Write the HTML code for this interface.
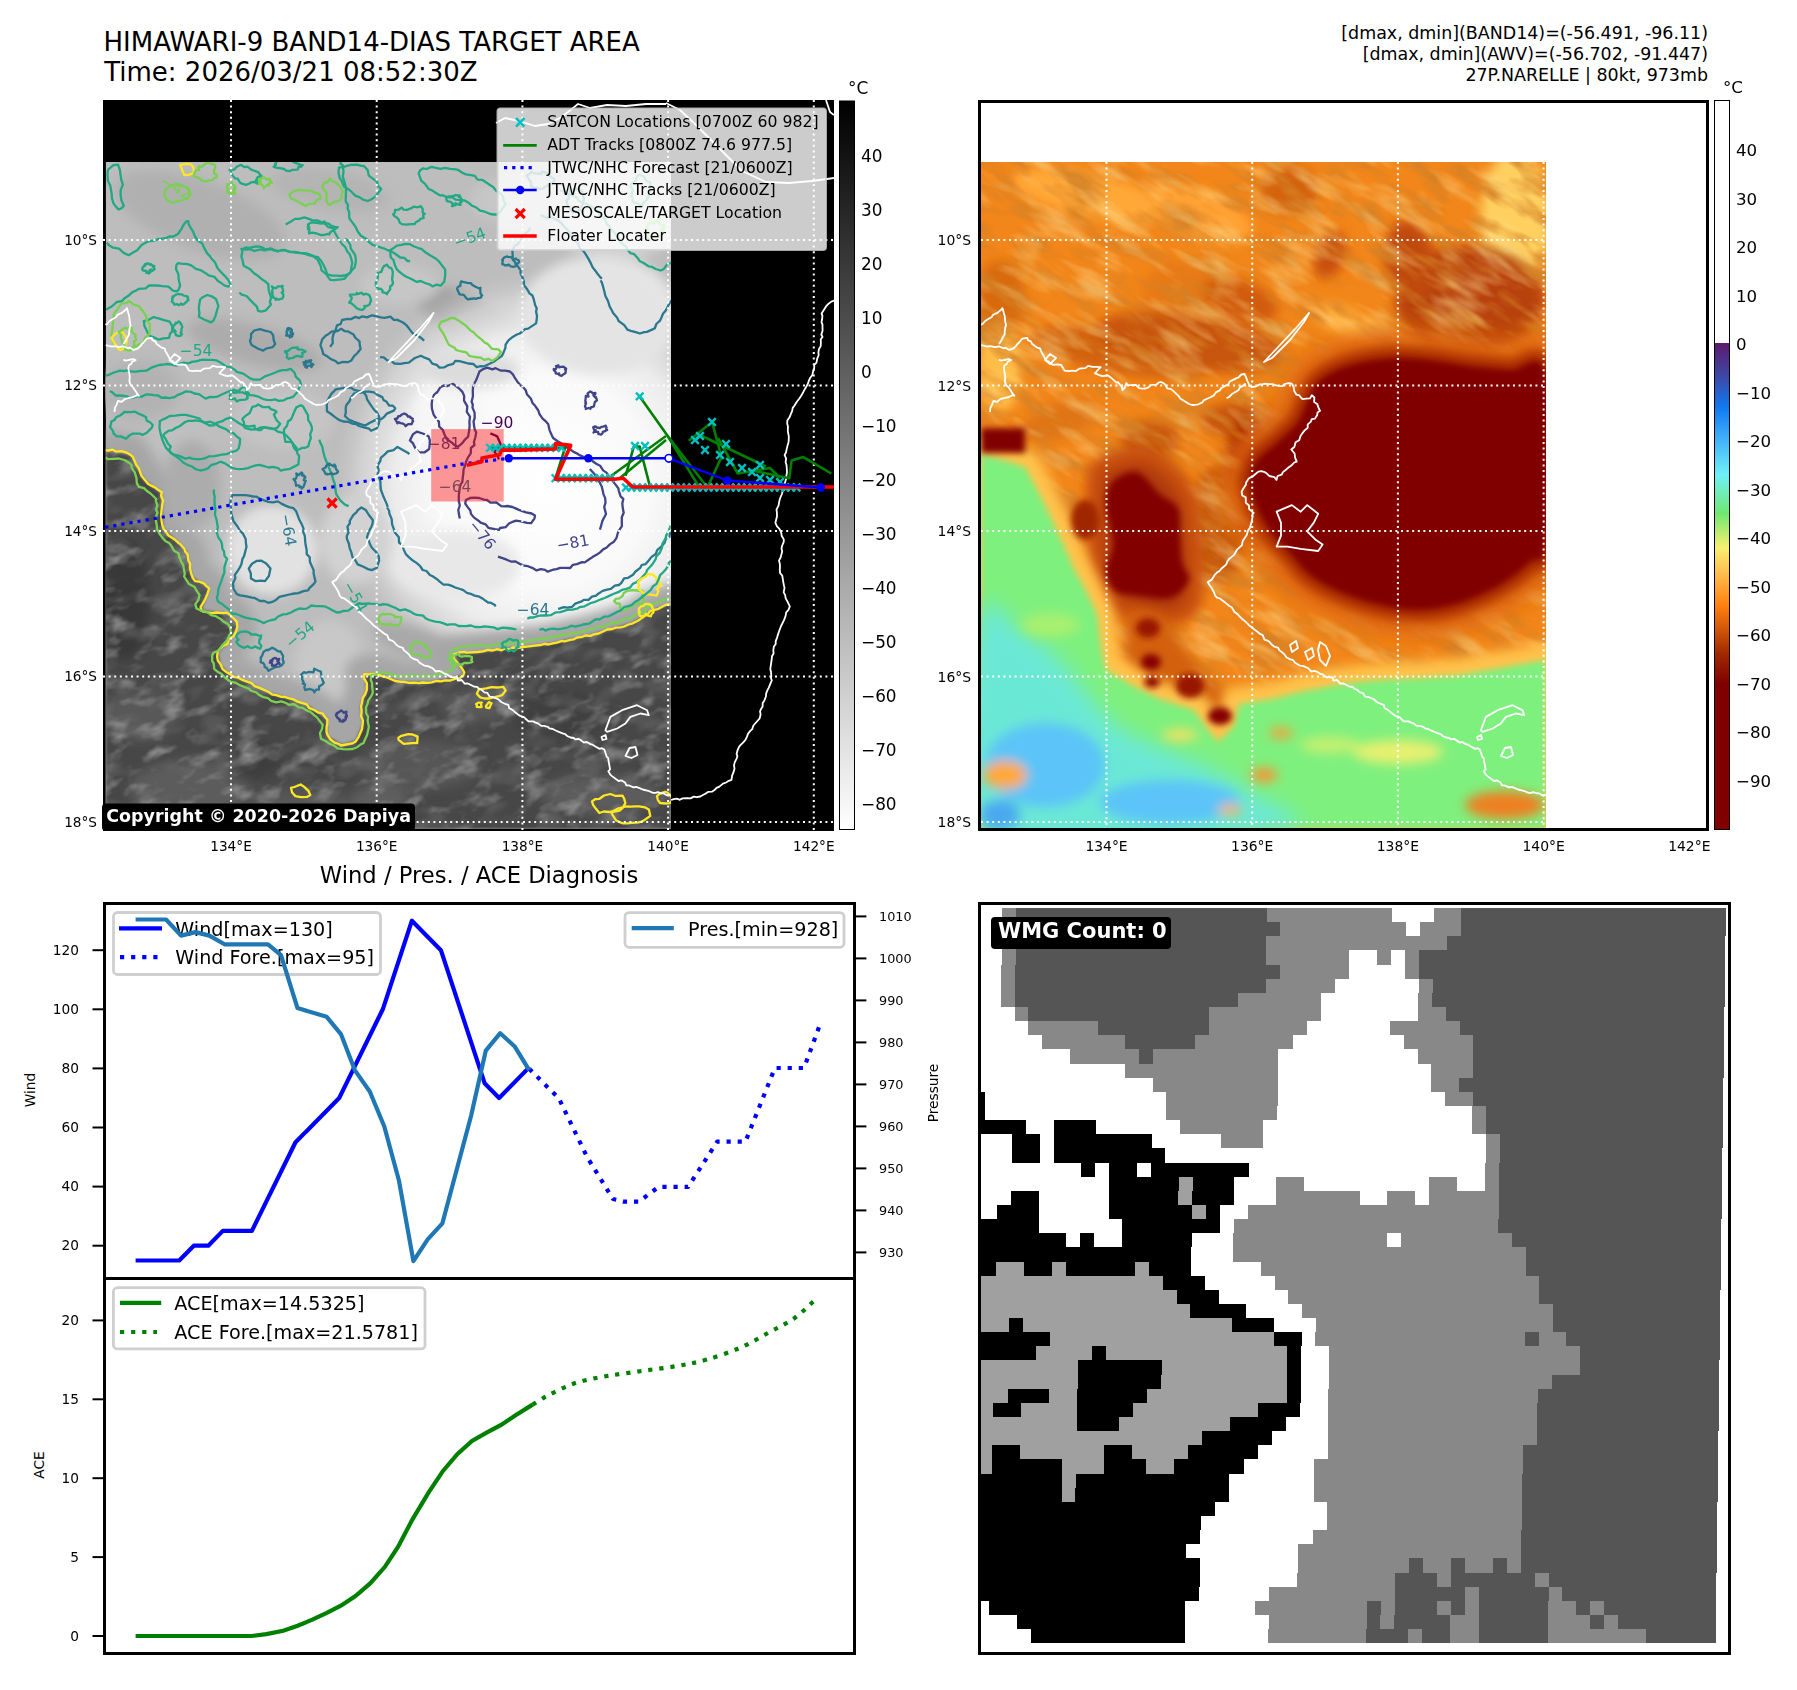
<!DOCTYPE html>
<html><head><meta charset="utf-8"><title>HIMAWARI-9 BAND14-DIAS TARGET AREA</title>
<style>html,body{margin:0;padding:0;background:#fff;width:1797px;height:1690px;overflow:hidden}svg{display:block}</style>
</head><body>
<svg width="1797" height="1690" viewBox="0 0 1797 1690" font-family="DejaVu Sans, Liberation Sans, sans-serif"><text x="103.5" y="51" font-size="26.0" text-anchor="start" >HIMAWARI-9 BAND14-DIAS TARGET AREA</text>
<text x="104.2" y="80.6" font-size="26.0" text-anchor="start" >Time: 2026/03/21 08:52:30Z</text>
<text x="1708" y="39.1" font-size="17.44" text-anchor="end" >[dmax, dmin](BAND14)=(-56.491, -96.11)</text>
<text x="1708" y="59.5" font-size="17.44" text-anchor="end" >[dmax, dmin](AWV)=(-56.702, -91.447)</text>
<text x="1708" y="80.7" font-size="17.44" text-anchor="end" >27P.NARELLE | 80kt, 973mb</text>
<defs><clipPath id="tlclip"><rect x="105.7" y="162" width="565.3" height="667"/></clipPath><clipPath id="tlax"><rect x="103" y="100" width="731" height="731"/></clipPath><filter id="bl6" x="-20%" y="-20%" width="140%" height="140%"><feGaussianBlur stdDeviation="6"/></filter><filter id="bl3" x="-20%" y="-20%" width="140%" height="140%"><feGaussianBlur stdDeviation="3"/></filter><filter id="bl15" x="-20%" y="-20%" width="140%" height="140%"><feGaussianBlur stdDeviation="1.5"/></filter><filter id="ngray" x="0" y="0" width="100%" height="100%"><feTurbulence type="fractalNoise" baseFrequency="0.035 0.06" numOctaves="3" seed="7"/><feColorMatrix type="matrix" values="0 0 0 0 0.44  0 0 0 0 0.44  0 0 0 0 0.44  2.4 0 0 0 -1.2"/></filter><filter id="ngray2" x="0" y="0" width="100%" height="100%"><feTurbulence type="fractalNoise" baseFrequency="0.03 0.05" numOctaves="2" seed="21"/><feColorMatrix type="matrix" values="0 0 0 0 0.18  0 0 0 0 0.18  0 0 0 0 0.18  2.4 0 0 0 -1.2"/></filter><radialGradient id="storm" cx="545" cy="482" r="215" gradientUnits="userSpaceOnUse"><stop offset="0" stop-color="#ffffff"/><stop offset="0.5" stop-color="#f9f9f9"/><stop offset="0.7" stop-color="#ececec"/><stop offset="0.86" stop-color="#d8d8d8" stop-opacity="0.75"/><stop offset="1" stop-color="#c4c4c4" stop-opacity="0"/></radialGradient></defs>
<rect x="103" y="100" width="731" height="731" fill="#000"/>
<g clip-path="url(#tlclip)">
<rect x="105.7" y="162" width="565.3" height="667" fill="#bdbdbd"/>
<g filter="url(#bl6)">
<ellipse cx="200" cy="215" rx="90" ry="35" transform="rotate(20 200 215)" fill="#b0b0b0"/>
<ellipse cx="255" cy="345" rx="70" ry="20" transform="rotate(15 255 345)" fill="#acacac"/>
<ellipse cx="470" cy="320" rx="60" ry="22" transform="rotate(28 470 320)" fill="#a0a0a0"/>
<ellipse cx="400" cy="285" rx="40" ry="20" transform="rotate(0 400 285)" fill="#c6c6c6"/>
<ellipse cx="615" cy="215" rx="60" ry="50" transform="rotate(0 615 215)" fill="#cfcfcf"/>
<ellipse cx="140" cy="390" rx="40" ry="30" transform="rotate(0 140 390)" fill="#b2b2b2"/>
<ellipse cx="330" cy="190" rx="60" ry="20" transform="rotate(10 330 190)" fill="#b4b4b4"/>
<ellipse cx="520" cy="200" rx="50" ry="25" transform="rotate(0 520 200)" fill="#c6c6c6"/>
<ellipse cx="285" cy="420" rx="50" ry="30" transform="rotate(0 285 420)" fill="#c4c4c4"/>
<ellipse cx="180" cy="440" rx="40" ry="20" transform="rotate(0 180 440)" fill="#c0c0c0"/>
</g>
<circle cx="545" cy="482" r="215" fill="url(#storm)"/>
<g filter="url(#bl6)">
<ellipse cx="448" cy="418" rx="34" ry="40" fill="#f6f6f6"/>
<ellipse cx="600" cy="315" rx="80" ry="60" fill="#e4e4e4"/>
<ellipse cx="470" cy="370" rx="50" ry="18" fill="#dcdcdc"/>
<ellipse cx="272" cy="550" rx="45" ry="45" fill="#e2e2e2"/>
<ellipse cx="330" cy="665" rx="35" ry="45" fill="#c8c8c8"/>
<ellipse cx="420" cy="645" rx="50" ry="16" transform="rotate(20 420 645)" fill="#a8a8a8"/>
<ellipse cx="455" cy="565" rx="65" ry="35" fill="#e8e8e8"/>
<ellipse cx="355" cy="540" rx="35" ry="45" fill="#d2d2d2"/>
</g>
<path d="M105.7,450.0 L130.0,455.0 L144.0,480.0 L161.0,493.0 L163.0,528.0 L186.0,551.0 L192.0,577.0 L209.0,589.0 L201.0,610.0 L230.0,614.5 L237.0,627.0 L230.0,640.0 L218.0,652.0 L220.0,665.0 L230.0,675.0 L247.0,682.0 L272.0,694.0 L289.0,698.5 L310.0,707.0 L327.0,719.5 L327.0,736.0 L342.0,745.0 L356.0,740.5 L363.0,724.0 L360.5,707.0 L367.0,690.0 L365.0,675.0 L379.0,675.0 L401.0,682.0 L432.0,682.0 L464.0,675.0 L455.0,655.0 L497.0,650.0 L548.0,644.0 L590.0,635.0 L632.0,623.0 L653.0,610.0 L671.0,604.0 L671.0,829.0 L105.7,829.0Z" fill="#a6a6a6" stroke="#a6a6a6" stroke-width="40" stroke-linejoin="round" filter="url(#bl6)"/>
<ellipse cx="192" cy="485" rx="28" ry="45" fill="#acacac" filter="url(#bl6)"/>
<path d="M105.7,450.0 L130.0,455.0 L144.0,480.0 L161.0,493.0 L163.0,528.0 L186.0,551.0 L192.0,577.0 L209.0,589.0 L201.0,610.0 L230.0,614.5 L237.0,627.0 L230.0,640.0 L218.0,652.0 L220.0,665.0 L230.0,675.0 L247.0,682.0 L272.0,694.0 L289.0,698.5 L310.0,707.0 L327.0,719.5 L327.0,736.0 L342.0,745.0 L356.0,740.5 L363.0,724.0 L360.5,707.0 L367.0,690.0 L365.0,675.0 L379.0,675.0 L401.0,682.0 L432.0,682.0 L464.0,675.0 L455.0,655.0 L497.0,650.0 L548.0,644.0 L590.0,635.0 L632.0,623.0 L653.0,610.0 L671.0,604.0 L671.0,829.0 L105.7,829.0Z" fill="#464646" filter="url(#bl15)"/>
<g filter="url(#bl6)">
<ellipse cx="125" cy="600" rx="25" ry="60" fill="#383838"/>
<ellipse cx="190" cy="790" rx="60" ry="30" fill="#5c5c5c"/>
<ellipse cx="140" cy="715" rx="40" ry="25" fill="#585858"/>
<ellipse cx="420" cy="765" rx="60" ry="25" fill="#565656"/>
<ellipse cx="560" cy="715" rx="50" ry="25" fill="#404040"/>
<ellipse cx="600" cy="795" rx="60" ry="20" fill="#5c5c5c"/>
<ellipse cx="300" cy="805" rx="50" ry="18" fill="#565656"/>
<ellipse cx="480" cy="705" rx="40" ry="15" fill="#5a5a5a"/>
<ellipse cx="250" cy="760" rx="30" ry="20" fill="#3e3e3e"/>
<ellipse cx="380" cy="800" rx="30" ry="15" fill="#5e5e5e"/>
</g>
<clipPath id="darkclip"><path d="M105.7,450.0 L130.0,455.0 L144.0,480.0 L161.0,493.0 L163.0,528.0 L186.0,551.0 L192.0,577.0 L209.0,589.0 L201.0,610.0 L230.0,614.5 L237.0,627.0 L230.0,640.0 L218.0,652.0 L220.0,665.0 L230.0,675.0 L247.0,682.0 L272.0,694.0 L289.0,698.5 L310.0,707.0 L327.0,719.5 L327.0,736.0 L342.0,745.0 L356.0,740.5 L363.0,724.0 L360.5,707.0 L367.0,690.0 L365.0,675.0 L379.0,675.0 L401.0,682.0 L432.0,682.0 L464.0,675.0 L455.0,655.0 L497.0,650.0 L548.0,644.0 L590.0,635.0 L632.0,623.0 L653.0,610.0 L671.0,604.0 L671.0,829.0 L105.7,829.0Z"/></clipPath>
<g clip-path="url(#darkclip)"><g transform="rotate(-20 390 700)"><rect x="0" y="350" width="800" height="700" filter="url(#ngray)" opacity="0.75"/><rect x="0" y="350" width="800" height="700" filter="url(#ngray2)" opacity="0.7"/></g></g>
<g fill="none" stroke-width="2.3" stroke-linejoin="round">
<path d="M105.2,450.1 L108.2,450.5 L112.6,449.7 L116.0,451.6 L121.3,451.1 L127.3,452.9 L130.7,455.0 L132.8,456.9 L134.9,461.8 L136.6,465.4 L138.7,468.2 L140.6,473.3 L141.5,475.9 L144.7,479.9 L147.9,483.8 L151.7,485.9 L154.9,487.4 L158.4,490.1 L161.8,492.2 L161.1,495.8 L163.0,500.4 L162.2,504.6 L161.6,509.6 L161.1,515.0 L161.5,520.4 L162.2,524.9 L163.7,529.0 L165.3,530.8 L168.4,535.5 L171.6,537.5 L174.7,539.5 L178.4,542.8 L180.5,544.4 L184.5,549.0 L185.2,551.6 L187.7,554.6 L188.4,560.5 L190.1,563.8 L190.0,568.3 L191.0,573.1 L192.8,578.0 L195.1,581.1 L198.8,581.5 L203.7,583.3 L206.4,586.1 L209.2,588.3 L207.5,593.6 L205.5,598.5 L203.5,602.1 L200.6,606.8 L201.3,610.2 L203.5,611.7 L208.1,612.3 L211.9,613.1 L216.6,612.5 L223.2,613.2 L226.8,612.6 L229.8,614.7 L233.5,618.3 L236.8,621.6 L237.3,626.9 L236.2,631.0 L233.6,636.2 L229.0,639.1 L227.4,644.0 L222.9,645.9 L220.3,648.6 L217.7,651.6 L217.1,656.6 L217.8,660.6 L220.5,664.1 L222.6,669.1 L225.5,671.4 L230.6,674.5 L232.9,676.7 L238.0,677.6 L241.7,679.6 L247.7,681.9 L251.5,683.1 L254.7,686.2 L260.3,688.1 L263.4,689.6 L268.3,691.8 L272.6,694.7 L276.1,695.1 L281.4,696.8 L285.3,697.0 L288.3,698.1 L293.6,699.4 L297.0,701.3 L301.5,702.9 L306.8,704.3 L309.0,707.9 L314.7,710.2 L317.8,712.4 L322.5,713.5 L325.2,717.4 L327.3,719.5 L327.4,723.2 L326.6,727.1 L326.5,731.9 L327.6,735.1 L330.5,739.5 L334.5,742.6 L338.8,744.0 L341.0,745.5 L346.3,744.5 L352.2,743.4 L355.8,741.4 L358.7,736.9 L360.0,733.8 L362.0,729.0 L362.7,723.4 L362.9,720.4 L361.1,716.1 L361.6,711.9 L361.1,706.0 L361.9,703.4 L362.8,697.9 L365.3,694.2 L366.8,689.9 L366.9,683.3 L363.9,678.1 L364.2,674.1 L369.1,674.3 L372.3,673.9 L378.6,674.6 L382.4,676.4 L387.0,677.4 L390.6,679.0 L395.1,681.0 L401.4,681.8 L404.1,681.8 L408.9,682.9 L414.2,682.6 L418.8,683.1 L422.7,682.5 L427.4,682.8 L431.8,682.4 L436.2,681.0 L441.0,681.4 L444.9,680.3 L450.4,680.5 L455.8,678.6 L459.7,678.4 L461.5,676.5 L463.2,675.6 L464.3,672.4 L461.5,667.6 L457.4,662.7 L453.4,658.4 L454.0,654.3 L457.6,653.0 L459.2,652.3 L464.3,651.8 L466.7,652.7 L471.5,652.3 L477.5,652.0 L483.0,651.3 L487.8,649.9 L492.7,650.5 L497.4,649.2 L501.5,650.4 L504.2,648.7 L509.5,649.3 L513.2,647.5 L517.6,648.0 L523.0,647.0 L526.7,646.6 L531.0,646.1 L534.8,645.7 L540.9,645.0 L544.5,643.9 L548.4,644.5 L552.9,643.3 L556.9,642.7 L562.1,640.9 L564.6,641.3 L570.4,639.9 L573.5,639.4 L577.1,637.5 L581.1,637.2 L585.5,635.5 L590.4,635.9 L593.9,634.3 L598.6,633.5 L603.4,631.2 L607.2,629.5 L612.3,629.0 L616.1,627.7 L620.6,627.3 L624.2,626.5 L628.6,624.5 L631.9,623.7 L637.4,620.9 L640.6,618.9 L644.7,615.9 L647.5,614.8 L649.9,611.2 L652.5,610.4 L658.5,608.8 L664.0,605.7 L667.2,604.4 L670.4,604.4" stroke="#fde725"/>
<path d="M474.2,383.8 L476.3,379.8 L478.0,375.3 L479.5,371.5 L482.9,369.3 L487.1,367.6 L492.5,369.3 L495.6,368.2 L501.1,370.7 L505.2,370.6 L509.9,371.5 L512.9,374.4 L514.2,376.8 L517.4,381.7 L520.0,384.8 L523.5,387.5 L525.7,390.2 L526.9,394.2 L530.8,398.5 L532.5,402.9 L535.1,405.8 L538.3,410.5 L539.5,414.1 L542.6,418.7 L545.4,421.0 L548.2,424.0 L549.5,430.1 L551.1,433.7 L553.1,438.0 L557.7,441.2 L561.5,443.5 L565.0,446.6 L568.9,448.5 L574.0,452.1 L577.0,453.4 L580.2,455.4 L585.9,458.1 L590.4,458.4 L593.0,461.5 L596.2,463.8 L600.1,465.7 L603.1,470.4 L606.5,472.6 L609.8,477.3 L611.7,479.7 L615.4,484.4 L618.3,488.2 L618.9,491.1 L620.6,496.4 L623.3,498.9 L622.3,503.6 L622.9,508.8 L623.7,512.8 L621.8,517.2 L621.8,521.7 L621.9,526.2 L619.3,530.1 L617.9,532.7 L616.4,538.2 L613.9,541.7 L610.1,544.1 L606.4,547.8 L603.1,549.4 L600.1,552.4 L596.9,554.6 L592.5,557.1 L588.9,559.5 L584.7,562.4 L582.0,562.2 L576.9,564.1 L572.9,564.8 L570.2,568.0 L565.2,567.8 L560.2,567.9 L556.6,569.1 L553.7,569.5 L547.7,571.7 L545.1,569.9 L540.8,569.1 L536.6,570.4 L533.4,568.4 L528.0,566.2 L523.9,565.7 L520.9,564.4 L515.5,561.5 L511.5,561.7 L506.7,559.7 L502.4,558.2 L498.0,556.7" stroke="#414487"/>
<path d="M459.8,518.5 L459.1,515.1 L458.3,510.0 L459.8,505.3 L458.8,501.2 L458.8,497.5 L458.9,494.3 L459.6,488.8 L460.5,484.7 L462.3,482.2 L462.9,476.3 L463.3,474.3 L463.6,469.4 L465.1,465.5 L466.1,461.6 L468.0,457.4 L470.8,453.3 L470.9,448.0 L474.5,445.0 L473.9,442.1 L475.3,437.5 L476.2,432.4 L474.8,429.8 L474.0,425.5 L473.6,421.3 L474.7,417.8 L474.6,412.6 L472.5,407.6 L472.8,404.5 L471.6,401.7 L472.9,396.5 L472.8,390.8 L473.0,387.0 L474.0,384.4" stroke="#414487"/>
<path d="M599.9,529.7 L600.7,527.2 L602.4,520.9 L606.0,514.0 L605.4,511.6 L604.2,506.9 L605.5,502.9 L605.2,498.1 L603.4,494.1 L602.9,491.3 L601.7,486.4 L599.5,482.1 L597.0,477.5 L594.0,473.5 L589.8,469.0" stroke="#3b4a8c"/>
<path d="M432.2,399.8 L434.0,394.8 L437.4,392.0 L440.4,387.2 L443.8,385.5 L447.4,386.0 L453.2,383.9 L456.6,386.6 L458.9,388.3 L462.4,391.9 L464.2,396.0 L464.0,400.6 L467.2,406.1 L467.2,407.5 L466.8,411.9 L470.0,416.6 L469.4,422.2 L469.6,425.1 L469.3,429.7 L468.1,436.7 L465.2,439.3 L462.2,443.2 L458.0,446.8 L454.8,445.3 L451.3,442.2 L447.2,439.7 L444.6,434.9 L442.8,429.8 L439.2,426.7 L438.9,421.8 L435.5,417.5 L433.5,414.3 L431.9,408.5 L431.7,403.8Z" stroke="#414487"/>
<path d="M465.9,500.1 L470.0,498.0 L474.2,497.7 L479.2,498.0 L483.9,499.6 L486.6,499.8 L490.7,502.7 L496.4,502.5 L501.2,506.1 L504.4,506.4 L507.4,506.0 L512.4,507.0 L515.6,508.4 L518.9,509.9 L526.0,512.4 L531.7,513.5 L535.0,515.4 L534.5,518.3 L531.2,523.2 L527.1,522.8 L521.1,521.3 L516.0,520.6 L512.6,521.8 L509.0,523.5 L505.8,527.1 L500.1,528.0 L499.0,529.9 L494.7,529.2 L488.3,527.8 L485.7,524.4 L480.6,522.6 L479.2,521.2 L473.8,517.4 L471.0,513.9 L470.3,510.5 L467.5,506.9 L465.2,503.5Z" stroke="#414487"/>
<path d="M409.9,440.4 L413.1,434.1 L416.8,431.7 L422.8,433.5 L428.5,436.2 L429.8,440.1 L429.7,444.2 L429.2,449.0 L424.7,452.3 L419.0,452.4 L415.6,448.8 L412.8,443.1Z" stroke="#414487"/>
<path d="M490.4,433.4 L494.8,435.3 L497.2,436.4 L498.9,440.2 L500.6,444.1 L497.4,447.8 L494.5,451.8 L498.0,456.7 L498.8,459.5" stroke="#440154"/>
<path d="M387.1,507.5 L389.2,511.0 L389.3,513.4 L391.7,519.1 L392.1,524.3 L394.0,529.6 L395.1,532.8 L398.8,537.3 L399.0,542.5 L401.9,544.9 L404.0,550.1 L405.8,554.1 L409.1,557.3 L411.7,559.7 L416.8,563.1 L420.1,566.0 L422.7,570.0 L426.5,571.0 L429.9,575.0 L432.6,576.3 L437.8,579.7 L439.7,581.7 L443.5,584.6 L448.0,584.7 L452.6,586.2 L455.2,587.5 L460.1,589.0 L463.3,590.2 L466.9,592.9 L470.6,593.8 L474.6,595.6 L479.3,596.7 L483.3,599.1 L488.4,602.7 L490.2,602.6 L494.9,605.1 L495.5,606.5" stroke="#2a788e"/>
<path d="M558.1,608.8 L560.0,608.4 L563.8,607.2 L567.5,607.6 L571.9,607.0 L575.3,603.6 L581.7,601.4 L583.7,599.9 L588.5,599.9 L592.0,596.7 L596.1,595.7 L598.3,593.7 L602.7,590.9 L607.0,589.6 L610.9,588.9 L614.8,585.6 L618.9,585.0 L621.4,582.9 L624.1,578.4 L628.2,577.8 L633.0,574.7 L635.5,571.5 L640.3,567.8 L641.7,565.0 L645.7,564.1 L648.9,560.3 L651.6,556.9 L655.8,554.0 L657.2,550.2 L661.6,546.4 L664.6,542.7 L666.0,538.5 L669.4,537.0 L670.2,532.6 L671.8,531.2" stroke="#2a788e"/>
<path d="M387.7,507.0 L386.7,503.9 L385.0,500.1 L382.9,495.2 L380.8,489.5 L380.5,485.3 L380.4,481.5 L379.5,478.9 L377.5,474.7 L378.7,470.4 L377.5,465.6 L380.2,461.2 L381.0,457.6 L383.4,455.7 L387.8,451.4 L393.5,450.1 L397.5,446.9 L403.7,450.4 L407.7,452.7 L409.4,454.2" stroke="#2a788e"/>
<path d="M380.1,357.2 L383.8,357.3 L387.2,360.4 L391.4,361.1 L394.5,363.5 L400.6,363.9 L404.0,363.2 L408.8,362.7 L411.7,360.4 L414.9,358.0 L420.9,355.7 L424.6,357.7 L429.2,359.3 L432.3,363.7 L436.7,364.8 L439.4,367.6 L444.4,367.3 L447.6,365.4 L453.2,363.8 L455.3,360.9 L459.4,361.1 L464.2,362.3 L468.2,363.5 L473.4,364.0 L476.7,367.2 L480.7,366.2 L484.3,366.3 L488.5,364.2 L493.7,361.8 L496.6,359.5 L501.7,356.1 L503.1,353.7 L505.4,347.8 L505.6,344.6 L508.4,340.3 L511.8,337.6 L516.9,334.5 L519.8,333.5 L525.1,329.1 L528.1,328.6 L531.5,326.4 L536.1,323.4 L536.7,319.5 L537.0,315.8 L536.1,311.8 L536.7,308.2 L535.1,304.9 L533.7,299.0 L532.2,295.2 L529.7,293.6 L527.2,289.3 L523.9,285.0 L523.9,281.5 L522.5,277.5 L520.6,273.5 L520.5,270.0 L517.6,266.1 L515.3,262.5 L512.8,259.8 L512.6,254.3 L512.4,250.4 L514.5,246.2 L518.1,243.7 L519.8,240.9 L523.1,235.5 L528.4,231.1 L530.3,227.7" stroke="#2a788e"/>
<path d="M600.5,280.4 L601.7,282.1 L603.1,286.7 L604.3,291.3 L605.3,295.8 L608.0,301.0 L609.8,306.8 L612.3,311.3 L613.1,313.1 L617.0,317.4 L618.6,321.0 L623.3,324.4 L624.8,325.8 L627.4,329.7 L630.8,330.8 L635.7,332.1 L639.9,333.5 L644.2,332.2 L647.0,331.9 L652.6,329.4 L654.8,328.3 L656.3,324.0 L660.0,320.7 L661.7,316.9 L663.0,313.7 L665.9,310.3 L668.8,304.6 L671.8,300.1" stroke="#2a788e"/>
<path d="M540.4,215.7 L542.8,215.8 L546.5,218.0 L550.9,217.2 L555.4,219.2 L559.6,221.4 L562.4,224.4 L565.9,228.4 L568.5,231.0 L571.4,236.1 L574.7,240.6 L578.3,243.3 L579.3,247.9 L583.6,251.1 L585.9,254.7 L588.9,259.6 L590.7,263.1 L592.7,267.4 L596.5,272.3 L597.7,274.1 L600.5,277.4 L601.8,278.8" stroke="#2a788e"/>
<path d="M326.0,335.4 L328.6,334.0 L331.4,331.6 L337.5,331.0 L341.2,328.8 L344.8,331.2 L347.7,331.3 L353.5,334.4 L355.2,337.6 L359.5,341.3 L359.8,345.3 L360.6,349.0 L357.0,353.5 L354.1,356.2 L351.3,360.5 L347.8,362.2 L343.0,361.8 L338.0,363.3 L335.9,361.3 L330.5,358.9 L327.6,356.6 L323.2,353.9 L322.2,349.9 L320.4,345.2 L322.3,339.2Z" stroke="#2a788e"/>
<path d="M254.2,330.5 L260.0,329.2 L264.7,330.7 L270.7,332.0 L273.1,335.2 L273.8,340.5 L275.2,344.0 L272.7,347.1 L266.3,348.5 L263.2,350.6 L258.2,348.7 L251.6,345.0 L250.0,341.1 L251.1,337.5 L251.1,333.9Z" stroke="#2a788e"/>
<path d="M331.1,394.1 L331.6,393.6 L335.8,389.4 L341.2,388.4 L345.9,387.4 L350.4,387.6 L354.2,389.8 L358.8,391.1 L362.5,390.9 L366.2,395.8 L367.1,399.4 L370.8,405.2 L373.8,409.4 L377.1,412.8 L379.2,416.8 L379.4,421.1 L378.4,424.9 L376.7,428.3 L371.1,430.8 L369.0,428.7 L363.7,427.3 L358.9,426.0 L356.4,424.1 L352.0,423.6 L348.8,421.9 L343.3,421.5 L339.5,420.2 L335.0,417.1 L331.1,414.0 L327.0,411.2 L326.8,404.9 L327.6,400.6Z" stroke="#2a788e"/>
<path d="M231.3,497.9 L230.8,498.7 L230.3,503.6 L230.9,507.6 L231.2,513.2 L232.5,517.9 L233.4,521.0 L237.5,526.5 L240.2,531.2 L242.8,533.4 L245.7,539.0 L245.9,543.1 L246.5,546.7 L245.4,551.0 L244.1,556.1 L242.5,558.8 L241.4,564.3 L239.7,567.6 L237.7,570.8 L234.8,574.8 L235.3,578.0 L233.0,583.3 L233.5,588.9 L236.8,594.2 L240.1,595.3 L245.3,596.1 L252.0,597.7 L254.7,598.0 L260.0,601.0 L264.3,601.0 L268.2,602.8 L272.3,601.9 L275.4,600.3 L279.4,596.9 L283.7,595.8 L289.5,594.5 L294.3,593.5 L298.4,593.1 L303.5,591.1 L308.1,590.3 L309.4,588.2 L313.1,584.7 L315.5,581.6 L313.6,573.5 L313.6,570.0 L312.3,567.3 L309.9,561.8 L309.7,557.3 L306.7,554.1 L306.7,550.2 L305.5,544.3 L305.2,541.2 L304.8,535.9 L303.3,532.3 L303.4,528.1 L301.7,524.1 L299.1,519.2 L297.6,515.1 L296.2,511.3 L293.5,508.2 L289.1,507.1 L284.4,505.1 L281.4,503.6 L278.0,501.4 L273.0,502.4 L268.3,501.8 L264.3,500.4 L260.1,498.8 L256.6,496.7 L253.1,496.5 L249.1,495.7 L245.1,495.1 L238.5,495.2 L232.6,495.1Z" stroke="#2a788e"/>
<path d="M250.5,565.8 L252.3,563.5 L257.0,560.8 L261.0,560.6 L266.2,563.4 L270.5,568.6 L269.5,573.1 L268.9,576.0 L265.0,581.1 L261.4,580.6 L255.3,581.1 L251.0,578.6 L250.8,573.4 L248.8,568.7Z" stroke="#2a788e"/>
<path d="M349.7,521.0 L353.2,515.2 L356.4,512.3 L357.8,510.2 L361.4,507.5 L365.8,510.1 L368.9,515.0 L372.8,520.0 L372.5,523.8 L371.4,526.7 L368.8,531.5 L367.0,537.0 L368.3,539.0 L369.9,544.0 L371.9,547.7 L375.8,551.7 L378.8,556.7 L379.1,560.9 L378.0,564.0 L376.8,567.8 L371.8,570.1 L368.0,569.1 L363.4,566.8 L357.7,564.4 L354.5,558.9 L352.6,557.4 L351.4,552.6 L349.6,547.8 L348.9,543.8 L347.0,539.1 L346.7,536.3 L348.6,532.2 L347.4,526.6 L349.9,523.2Z" stroke="#2a788e"/>
<path d="M106.8,242.7 L108.6,245.0 L113.1,247.7 L119.0,248.7 L123.7,252.9 L128.7,255.2 L133.5,252.3 L137.2,250.2 L141.6,245.0 L145.5,242.7 L148.3,241.3 L154.6,240.5 L158.3,238.9 L161.5,238.8 L166.3,237.9 L170.0,236.4 L173.4,236.5 L177.9,234.0 L181.5,228.8 L184.0,224.1 L186.1,221.5 L188.3,221.1 L188.6,223.9 L189.7,226.1 L193.3,232.0 L194.8,236.1 L198.0,240.8 L202.3,243.4 L204.0,247.6 L207.2,253.4 L210.1,256.4 L211.4,258.5 L214.8,262.0 L217.6,268.2 L221.1,272.3 L224.9,276.1 L228.3,280.0 L229.8,283.4 L231.1,284.9 L228.3,286.6 L224.4,285.4 L221.7,283.4 L217.7,280.7 L214.6,276.9 L208.8,275.5 L206.0,273.4 L200.5,270.1 L195.9,268.8 L191.2,265.3 L187.5,264.2 L180.8,263.6 L178.1,263.1 L176.4,265.1 L176.0,269.1 L178.5,274.5 L178.6,279.0 L180.1,285.5 L178.6,289.7 L176.8,291.4 L172.9,290.7 L168.5,286.7 L162.4,286.2 L157.5,285.5 L153.1,285.3 L149.1,285.5 L145.6,288.4 L139.1,288.8 L136.1,290.5 L132.4,292.1 L128.4,295.8 L124.5,298.3 L121.9,301.1 L116.7,302.0 L112.4,306.0 L108.9,307.9 L106.0,309.7" stroke="#22a884"/>
<path d="M242.4,249.3 L246.2,247.4 L248.6,248.1 L254.6,246.7 L259.2,246.5 L263.2,247.8 L265.3,249.6 L270.7,248.3 L275.8,250.7 L279.5,250.9 L284.4,249.8 L288.8,251.7 L291.4,252.1 L295.8,252.7 L300.5,253.1 L304.3,253.6 L309.6,255.4 L315.5,256.7 L318.1,257.2 L321.7,261.7 L324.4,266.7 L326.1,270.8 L327.7,276.6 L330.2,279.8 L334.1,280.2 L341.0,279.3 L344.7,278.7 L347.5,275.0 L350.7,271.9 L351.2,268.6 L352.2,262.8 L351.1,258.2 L349.6,254.1 L347.2,251.4 L345.3,247.2 L341.9,244.0 L340.0,241.0 L337.1,236.5 L335.1,232.9 L332.8,228.0 L328.4,227.2 L325.5,224.3 L321.0,222.1 L317.8,220.5 L312.3,220.4 L309.6,219.1 L304.4,217.3 L299.3,218.8 L295.0,218.9 L292.0,220.9 L288.7,222.7 L285.8,224.5" stroke="#22a884"/>
<path d="M241.1,247.9 L242.4,251.2 L241.4,256.4 L242.6,260.5 L243.7,265.8 L246.0,267.0 L249.7,268.9 L254.0,273.2 L257.9,275.8 L261.2,278.7 L265.5,281.6 L268.4,284.4 L268.6,289.2 L269.2,292.0 L271.1,297.9 L269.8,301.8 L271.0,304.5 L266.0,310.3 L261.2,311.7 L258.1,310.9 L256.9,306.6 L252.7,302.6 L251.1,300.9 L246.5,296.0 L241.7,294.6 L239.3,292.5" stroke="#22a884"/>
<path d="M108.1,169.6 L113.5,165.1 L118.0,164.6 L119.8,169.7 L120.4,174.1 L121.3,179.6 L122.8,184.8 L120.7,190.2 L120.6,194.9 L121.5,200.5 L123.8,205.7 L121.8,208.1 L118.4,209.5 L115.9,206.6 L113.5,203.4 L112.0,198.6 L111.7,194.0 L110.9,189.3 L110.3,185.7 L107.9,180.8 L107.5,173.5Z" stroke="#22a884"/>
<path d="M200.1,299.5 L202.2,297.5 L207.3,295.0 L211.8,296.3 L216.1,299.3 L218.4,306.0 L217.4,309.0 L215.6,315.6 L213.6,320.4 L211.1,322.4 L204.6,319.7 L198.9,316.7 L199.4,313.1 L198.8,308.3 L199.3,304.3Z" stroke="#22a884"/>
<path d="M143.8,321.1 L148.4,319.9 L153.6,317.1 L159.4,318.6 L164.0,320.2 L169.7,321.7 L172.1,325.9 L172.2,331.4 L170.0,333.7 L169.1,337.8 L163.5,338.4 L158.7,339.7 L153.2,337.0 L150.2,336.1 L147.7,332.7 L144.4,325.7Z" stroke="#22a884"/>
<path d="M339.0,167.3 L342.3,167.4 L346.9,165.9 L350.7,164.8 L357.1,164.6 L361.1,165.9 L363.8,166.0 L367.6,169.9 L368.8,175.6 L373.7,179.3 L377.2,181.8 L377.8,185.6 L381.1,189.1 L378.2,193.1 L374.9,196.9 L371.6,199.2 L367.8,201.0 L363.0,199.7 L359.8,197.3 L355.2,195.6 L351.4,191.7 L347.2,188.4 L344.1,186.7 L341.8,181.0 L339.6,177.8 L338.5,172.4Z" stroke="#22a884"/>
<path d="M420.2,170.3 L423.2,168.3 L426.5,169.0 L431.6,166.9 L435.9,167.8 L440.5,168.8 L445.1,167.9 L450.3,168.9 L453.0,169.1 L457.8,169.7 L462.3,172.7 L465.9,174.4 L471.0,175.1 L474.8,175.8 L477.5,179.7 L482.1,179.8 L487.4,183.2 L489.1,184.6 L493.1,187.1 L496.2,190.7 L500.4,193.5 L502.7,196.0 L503.9,200.9 L505.6,204.4 L502.7,207.9 L500.1,212.2 L496.9,214.5 L493.6,214.5 L490.2,214.0 L484.8,211.7 L480.1,210.7 L475.7,207.2 L472.1,205.8 L468.8,202.9 L464.9,200.6 L460.1,199.9 L455.5,199.7 L452.2,197.1 L447.6,197.4 L442.6,195.2 L440.2,195.6 L435.6,192.8 L431.6,190.1 L428.8,189.1 L425.0,183.8 L421.2,180.6 L418.7,173.3Z" stroke="#22a884"/>
<path d="M390.1,250.2 L392.9,248.6 L396.8,245.7 L401.6,244.9 L405.1,243.8 L410.0,244.2 L413.5,246.2 L418.9,248.3 L421.4,248.9 L425.7,252.6 L430.8,255.7 L434.7,257.9 L437.6,260.1 L440.2,263.1 L443.4,267.2 L445.2,269.7 L445.2,275.1 L444.3,281.5 L440.6,285.7 L436.4,284.7 L432.6,286.4 L429.4,284.3 L424.9,283.0 L420.9,281.0 L416.4,281.8 L411.3,279.0 L406.4,276.7 L402.7,274.4 L399.0,271.5 L396.5,268.9 L394.6,264.3 L393.6,260.2 L390.8,257.5 L390.4,253.9Z" stroke="#22a884"/>
<path d="M106.1,375.6 L110.0,374.3 L113.9,372.5 L120.2,370.6 L124.2,371.1 L127.0,370.4 L132.2,371.6 L136.5,371.7 L141.1,370.8 L144.5,370.9 L146.9,370.4 L150.9,367.9 L155.6,366.2 L159.2,365.0 L164.8,364.4 L167.2,364.0 L173.0,364.9 L176.8,365.6 L180.0,363.7 L183.7,362.7 L188.2,363.4 L192.0,361.9 L196.9,361.2 L200.4,360.1 L203.1,359.6 L208.9,359.8 L212.6,359.8 L216.3,360.3 L220.7,362.8 L222.6,363.9 L226.4,366.6 L230.2,366.9 L235.4,370.3 L236.8,371.9 L243.2,373.6 L247.3,376.4 L250.8,378.7 L253.9,379.7 L260.0,379.6 L264.8,376.4 L270.3,374.5 L274.8,372.7 L278.8,371.0 L282.6,370.2 L286.5,370.2 L290.7,368.8 L294.6,372.8 L295.9,376.8 L299.9,380.6 L300.9,384.2 L299.0,388.0 L297.7,391.8 L293.1,396.8 L289.8,397.9 L287.1,398.4 L283.5,400.4 L278.5,400.9 L275.1,399.3 L271.1,400.1 L266.7,399.8 L263.1,399.0 L257.4,396.3 L253.8,395.4 L249.4,395.1 L246.0,393.9 L242.6,392.4 L237.9,392.3 L234.3,392.9 L230.2,390.8 L226.2,392.5 L221.8,394.5 L217.3,396.7 L213.7,397.1 L210.1,396.9 L205.6,398.6 L201.1,395.6 L198.6,394.1 L194.3,393.5 L190.8,391.8 L185.6,391.4 L182.6,393.1 L177.9,394.8 L174.6,397.1 L169.1,398.2 L165.0,397.5 L161.5,397.8 L158.2,395.5 L153.6,395.2 L150.8,394.6 L146.6,394.3 L141.1,396.9 L137.7,396.1 L133.3,397.7 L129.0,397.7 L126.9,396.3 L120.7,395.5 L115.7,395.5 L112.2,392.2 L109.9,391.0" stroke="#22a884"/>
<path d="M159.6,421.2 L163.6,419.1 L167.0,417.6 L169.7,416.0 L175.4,415.6 L181.0,414.9 L186.0,414.9 L190.8,416.2 L194.3,417.0 L199.7,418.5 L201.6,421.5 L206.8,423.9 L209.2,425.5 L213.6,425.3 L217.2,422.7 L221.7,421.4 L225.1,419.4 L229.8,417.7 L233.3,419.4 L239.0,423.3 L243.1,425.6 L245.4,428.2 L250.4,429.5 L255.2,429.3 L257.4,428.8 L261.2,427.4 L265.4,427.4 L271.1,428.1 L274.5,429.0 L277.7,431.6 L283.3,433.0 L287.0,436.2 L290.5,439.7 L292.2,442.8 L296.6,448.0 L297.3,453.3 L299.2,456.0 L298.8,459.5 L298.4,464.5 L294.2,466.6 L289.0,469.2 L284.5,469.7 L280.8,470.7 L278.4,468.2 L272.7,466.9 L268.9,467.5 L263.1,465.9 L259.5,464.9 L255.9,465.3 L252.0,466.5 L247.8,468.1 L243.7,468.8 L239.7,469.1 L236.3,468.8 L231.8,467.9 L227.2,464.7 L224.3,463.1 L220.6,461.7 L217.0,463.3 L211.0,465.2 L208.0,468.4 L204.5,469.7 L200.4,470.5 L195.8,469.2 L191.8,466.4 L187.7,465.0 L183.5,462.8 L180.4,459.7 L176.7,456.8 L174.3,455.2 L170.5,452.5 L166.1,447.9 L164.7,444.9 L162.9,441.2 L161.6,437.3 L160.2,431.7 L159.5,428.0 L159.8,422.0Z" stroke="#22a884"/>
<path d="M213.8,489.5 L213.9,493.9 L214.7,496.5 L214.5,500.2 L214.6,504.0 L215.4,510.0 L214.9,514.5 L216.5,519.5 L217.5,525.5 L217.8,527.7 L216.6,532.0 L218.4,537.6 L221.0,541.2 L222.1,544.9 L222.2,548.2 L224.0,551.5 L224.5,555.9 L227.0,558.8 L225.8,562.5 L224.4,567.1 L224.3,572.9 L222.9,576.3 L220.9,582.1 L219.0,587.2 L218.2,589.9 L217.9,594.2 L216.9,597.9 L218.1,601.7 L222.2,604.1 L226.0,607.2 L229.9,610.2 L232.2,613.9 L235.6,613.7 L241.8,616.3 L246.5,617.8 L251.5,618.8 L254.7,619.2 L259.7,621.1 L263.5,623.1 L266.8,621.5 L271.4,620.0 L275.3,619.3 L277.7,616.8 L283.0,614.4 L286.6,614.1 L291.0,612.5 L293.6,610.9 L299.3,608.5 L303.7,608.9 L306.7,608.6 L311.4,605.5 L315.6,606.2 L318.9,606.2 L324.5,606.3 L329.3,608.5 L333.6,610.9 L337.0,612.5 L340.8,612.0 L343.0,611.0 L348.3,610.6 L352.4,607.5 L355.0,605.7 L358.9,603.1 L362.7,603.9 L368.6,603.3 L370.3,603.6 L374.6,603.9 L380.4,605.1 L382.9,604.1 L387.3,604.6 L393.1,607.0 L395.5,607.9 L400.0,610.4 L405.1,609.4 L410.6,611.6 L414.3,614.0 L416.9,614.8 L423.1,615.6 L425.5,618.2 L429.1,620.0 L435.1,621.7 L439.5,622.1 L442.9,623.1 L447.3,624.9 L450.1,624.4 L455.0,624.3 L458.4,626.0 L463.6,626.2 L467.0,626.0 L471.0,625.5 L475.0,627.0 L480.8,627.2 L484.9,626.3 L488.8,626.8 L493.5,627.3 L497.5,629.1 L502.6,627.7 L506.7,628.0 L511.1,628.5 L514.4,629.1 L516.4,629.3" stroke="#22a884"/>
<path d="M527.3,618.8 L530.1,617.4 L533.5,617.5 L537.3,616.1 L541.3,615.4 L546.0,615.5 L551.1,615.1 L556.0,612.3 L560.3,612.1 L563.5,611.1 L567.3,609.8 L572.5,609.7 L577.6,608.5 L579.5,607.1 L584.5,606.3 L590.9,603.0 L594.1,602.2 L596.4,601.2 L600.9,599.3 L604.6,598.0 L609.8,595.6 L613.2,594.0 L618.2,592.2 L622.2,589.8 L626.2,588.8 L629.9,587.7 L632.8,583.9 L636.4,582.3 L640.2,579.5 L642.0,577.4 L646.3,572.8 L646.9,570.2 L650.6,566.2 L652.8,563.7 L655.7,559.1 L656.3,556.5 L659.9,552.6 L662.0,547.5 L662.3,544.1 L665.7,538.1 L666.1,535.6 L669.1,530.7 L669.4,528.1 L669.8,525.5" stroke="#22a884"/>
<path d="M319.3,439.7 L320.2,442.5 L322.3,446.7 L323.0,450.4 L324.4,456.3 L326.4,461.5 L327.5,464.3 L329.8,469.8 L332.1,475.4 L332.9,478.8 L334.9,484.1 L335.3,488.5 L336.1,493.8 L337.6,496.3 L340.3,500.3 L344.9,504.7 L348.7,506.1" stroke="#22a884"/>
<path d="M559.9,190.9 L561.6,190.8 L567.7,193.4 L570.1,194.8 L576.6,197.4 L578.9,201.0 L582.4,202.4 L587.0,204.2 L591.1,205.8 L593.6,208.1 L597.8,211.0 L600.0,215.8 L603.4,216.7 L605.9,221.5 L607.1,224.5 L609.3,226.4 L611.7,230.1 L615.8,233.8 L618.7,238.0 L619.3,239.8 L621.8,243.4 L626.0,246.6 L627.6,249.7 L630.5,253.2 L634.2,254.2 L638.3,258.8 L639.6,261.0 L643.6,263.0 L648.6,266.3 L651.6,266.7 L655.7,269.0 L660.7,270.5 L663.8,268.9 L667.7,263.6 L671.0,263.0" stroke="#22a884"/>
<path d="M105.4,457.4 L108.1,459.2 L113.7,458.8 L118.9,458.5 L124.4,460.0 L128.7,462.4 L131.4,464.8 L131.8,468.1 L134.9,472.7 L136.5,478.4 L136.8,483.1 L138.9,486.9 L144.0,488.2 L147.3,491.3 L149.5,492.7 L152.7,495.5 L156.5,499.2 L155.7,500.6 L157.3,505.0 L156.1,509.7 L157.5,512.6 L155.6,518.0 L156.2,522.3 L156.9,525.9 L156.9,529.1 L159.8,534.1 L162.3,537.6 L165.6,541.2 L169.1,543.1 L171.2,545.6 L174.1,550.7 L178.8,553.5 L179.1,556.4 L180.9,561.2 L183.3,565.1 L183.8,568.6 L184.8,573.9 L184.1,576.5 L186.6,580.4 L189.1,584.1 L194.7,587.1 L196.9,591.2 L199.5,595.0 L198.4,599.8 L195.3,604.4 L196.6,608.6 L197.8,609.0 L201.2,610.8 L207.3,612.2 L211.2,615.1 L215.8,616.2 L220.2,618.7 L223.1,621.2 L228.4,624.4 L230.0,627.8 L231.1,632.9 L229.8,634.3 L227.2,640.2 L224.8,642.8 L222.4,645.2 L218.9,650.2 L213.4,652.7 L212.2,655.6 L212.1,660.9 L213.8,663.5 L214.2,668.8 L217.7,671.9 L221.3,673.7 L224.2,676.8 L228.7,680.5 L230.9,681.8 L235.5,682.7 L238.6,684.6 L242.6,686.2 L249.1,688.8 L250.8,690.6 L256.4,692.5 L259.0,694.9 L263.6,697.2 L267.9,698.1 L271.2,700.9 L276.2,702.4 L281.3,701.4 L285.9,703.0 L288.9,704.8 L293.5,704.1 L298.9,707.3 L302.2,707.6 L306.5,710.3 L310.5,712.0 L314.0,715.2 L316.5,716.9 L320.0,721.4 L322.7,724.8 L322.0,729.1 L320.0,733.1 L321.0,738.8 L326.0,741.2 L329.3,743.5 L333.9,745.5 L337.5,748.4 L342.9,749.2 L346.1,749.3 L352.6,749.0 L357.2,747.2 L360.8,744.3 L363.4,743.2 L365.3,738.8 L367.0,735.2 L368.3,729.4 L368.8,726.7 L367.6,720.6 L368.1,716.7 L366.2,713.3 L366.0,707.4 L367.5,703.9 L368.3,700.3 L371.7,695.3 L372.8,692.6 L372.2,687.0 L372.0,682.7 L370.7,680.0 L371.4,675.0 L375.7,674.7 L378.6,672.1 L384.1,672.6 L387.3,672.9 L393.1,674.8 L398.4,676.2 L401.9,676.4" stroke="#7ad151"/>
<path d="M402.3,674.9 L404.0,675.4 L408.6,676.7 L413.1,675.4 L416.6,675.4 L420.7,676.6 L424.8,675.7 L430.4,676.1 L434.0,675.5 L440.3,673.1 L445.2,673.6 L448.5,670.9 L453.6,669.6 L454.0,667.0 L455.9,664.2 L452.8,659.4 L449.9,655.0 L451.7,650.1 L455.0,649.4 L457.9,648.5 L460.9,646.6 L463.6,646.6 L467.4,646.0 L471.9,645.7 L477.7,645.6 L481.8,644.9 L486.2,646.3 L491.8,645.1 L495.0,645.0 L499.2,643.7 L505.2,643.8 L508.2,643.5 L513.0,643.2 L515.6,641.0 L519.9,641.1 L523.7,642.3 L529.3,640.3 L532.8,640.0 L537.4,639.6 L539.8,638.6 L544.4,638.0 L548.2,639.0 L552.2,636.6 L558.0,636.5 L560.1,634.5 L564.3,635.1 L570.1,633.7 L572.4,632.7 L578.8,632.1 L582.8,631.9 L584.7,630.6 L590.4,629.1 L593.7,628.3 L597.8,626.7 L603.2,626.7 L608.7,623.9 L612.3,622.5 L617.7,622.9 L620.5,621.1 L625.2,618.7 L629.3,618.3 L632.7,617.1 L635.6,614.4 L639.5,613.5 L644.9,610.9 L646.5,606.8 L650.8,606.8 L652.0,604.0 L657.1,602.5 L664.0,599.3 L667.8,599.0 L670.4,598.9" stroke="#7ad151"/>
<path d="M438.9,325.5 L441.1,321.8 L446.3,320.2 L450.6,318.1 L453.8,317.8 L458.4,320.4 L462.4,323.2 L465.9,325.6 L470.8,330.8 L473.2,332.0 L477.3,336.2 L481.7,339.7 L484.8,342.6 L487.7,343.9 L492.1,348.9 L498.5,349.4 L500.9,352.1 L497.2,357.6 L492.2,361.0 L488.9,358.9 L484.4,359.9 L480.3,357.6 L474.6,357.0 L469.2,355.8 L466.4,352.4 L461.6,351.5 L456.4,350.2 L454.5,347.8 L449.1,345.0 L447.6,342.5 L444.6,336.0 L442.8,332.8 L439.2,327.4Z" stroke="#7ad151"/>
<path d="M164.8,190.1 L168.9,187.3 L172.2,185.1 L177.0,183.9 L181.2,185.0 L187.2,187.8 L188.7,191.1 L190.5,194.6 L187.1,198.7 L184.4,199.5 L179.0,201.0 L176.9,201.4 L171.7,202.7 L166.9,199.7 L164.6,196.2Z" stroke="#7ad151"/>
<path d="M289.5,195.0 L290.9,193.1 L294.9,190.8 L300.5,189.9 L305.6,190.7 L308.9,190.3 L314.1,192.4 L319.5,194.2 L320.8,198.5 L317.0,200.0 L314.5,203.6 L308.5,203.9 L305.7,206.1 L299.5,202.6 L295.9,200.3 L291.0,198.5Z" stroke="#7ad151"/>
<path d="M116.9,309.8 L119.0,306.8 L121.7,303.4 L126.4,303.1 L128.9,301.0 L133.5,304.5 L138.9,306.2 L142.9,311.2 L146.1,316.0 L147.0,321.0 L149.8,324.1 L149.9,329.0 L149.3,334.1 L145.3,337.5 L143.2,342.6 L139.5,344.1 L134.9,346.9 L129.6,350.7 L124.2,349.5 L121.9,348.3 L116.4,346.6 L114.3,344.8 L112.4,339.0 L111.1,335.6 L111.8,331.9 L112.6,327.6 L112.9,321.6 L113.7,316.5 L113.8,314.2Z" stroke="#7ad151"/>
<path d="M111.6,337.8 L116.0,333.2 L122.0,331.7 L125.0,335.9 L126.9,341.0 L124.3,348.5 L120.0,350.1 L117.7,348.2 L113.5,341.6Z" stroke="#fde725"/>
<path d="M180.1,165.1 L185.0,164.0 L191.1,164.3 L193.3,167.4 L194.1,172.9 L188.6,174.9 L184.3,175.0 L182.2,169.9Z" stroke="#fde725"/>
<path d="M291.0,787.8 L294.4,787.0 L300.7,784.5 L303.9,786.6 L308.4,790.8 L310.3,795.0 L307.2,796.8 L300.8,797.2 L295.4,796.1 L292.1,792.5Z" stroke="#fde725"/>
<path d="M592.0,801.4 L595.1,799.2 L599.5,798.8 L604.1,795.5 L610.4,794.0 L615.1,795.8 L622.6,795.7 L624.3,799.1 L625.4,803.2 L622.3,808.3 L619.6,810.5 L614.4,811.5 L609.4,812.0 L603.6,811.5 L599.4,813.0 L595.8,808.6 L593.2,805.1Z" stroke="#fde725"/>
<path d="M611.4,812.0 L613.8,810.8 L618.6,808.3 L625.8,806.5 L631.1,806.6 L634.4,806.4 L639.3,806.3 L644.9,807.3 L648.7,809.5 L648.9,809.4 L650.3,815.9 L644.2,820.3 L641.5,821.6 L638.5,822.3 L632.0,822.9 L627.7,823.3 L623.3,823.4 L621.2,822.8 L615.9,820.2 L612.3,814.7Z" stroke="#fde725"/>
<path d="M479.1,688.9 L481.4,689.2 L486.3,688.4 L491.4,687.2 L496.7,687.5 L499.2,687.3 L503.3,686.9 L505.7,690.6 L502.0,695.2 L498.9,696.2 L495.1,697.1 L489.6,698.5 L484.6,698.5 L480.2,697.4 L476.9,693.8Z" stroke="#fde725"/>
<path d="M398.3,737.9 L401.4,735.8 L408.2,734.1 L412.6,734.5 L417.6,736.6 L417.2,743.2 L415.1,742.9 L409.4,743.4 L403.7,743.9 L398.6,739.9Z" stroke="#fde725"/>
<path d="M657.0,796.1 L659.4,793.9 L665.1,791.7 L667.9,792.9 L670.7,796.0 L673.0,799.2 L669.9,803.2 L665.9,803.5 L660.1,803.0 L657.8,799.8Z" stroke="#fde725"/>
<path d="M476.0,704.1 L478.2,702.6 L481.8,702.6 L481.0,703.5 L481.5,707.1 L479.4,707.1 L476.7,706.8 L477.0,705.0Z" stroke="#fde725"/>
<path d="M488.1,703.1 L488.9,702.1 L491.6,703.2 L491.3,703.2 L490.7,705.0 L489.3,708.2 L486.3,707.6 L485.8,706.2Z" stroke="#fde725"/>
<path d="M214.0,172.2 L214.3,173.7 L216.8,174.9 L216.2,177.7 L214.7,177.9 L212.0,180.1 L208.9,180.3 L207.1,181.3 L203.8,181.1 L201.4,180.3 L199.6,178.2 L195.9,177.2 L193.8,176.2 L194.0,174.7 L195.0,171.7 L196.5,169.9 L199.3,170.1 L198.4,166.7 L199.2,166.2 L201.3,167.0 L203.0,165.6 L206.5,163.0 L208.9,162.7 L211.5,164.1 L214.0,164.0 L215.3,165.9 L215.0,168.0 L214.0,170.9Z" stroke="#7ad151"/>
<path d="M235.4,187.3 L235.0,189.9 L233.0,189.7 L233.8,190.9 L235.0,193.9 L233.9,193.4 L233.0,193.0 L231.1,193.4 L229.1,192.9 L228.8,192.3 L227.3,192.6 L227.1,190.0 L228.8,189.4 L228.0,189.4 L228.2,189.0 L226.8,186.9 L226.9,186.6 L227.3,184.2 L227.7,184.2 L229.1,184.5 L230.5,184.0 L231.6,182.3 L231.9,181.5 L231.9,184.2 L233.2,184.8 L233.8,184.8 L235.0,186.1 L234.3,187.5Z" stroke="#7ad151"/>
<path d="M256.0,180.3 L258.1,180.4 L258.0,183.9 L254.6,181.9 L251.3,182.3 L248.8,183.7 L246.1,184.9 L241.8,183.7 L240.0,182.5 L237.6,178.6 L235.0,178.4 L231.8,174.4 L230.9,173.7 L230.9,170.8 L229.5,169.9 L234.0,169.6 L235.2,168.5 L236.3,167.1 L238.9,165.7 L241.2,164.9 L244.5,167.2 L247.4,166.7 L251.3,169.7 L253.6,170.5 L258.2,172.1 L260.0,174.6 L261.4,175.9 L257.8,177.1Z" stroke="#22a884"/>
<path d="M302.7,165.2 L300.8,166.8 L298.4,166.7 L298.2,169.0 L296.9,169.7 L292.6,169.8 L289.6,171.2 L286.1,170.6 L283.7,168.7 L282.9,169.0 L280.6,168.2 L277.5,168.0 L273.7,166.8 L274.1,166.4 L276.0,164.4 L275.7,165.1 L275.1,163.9 L277.2,160.9 L278.1,159.6 L280.5,158.6 L283.1,159.2 L286.3,160.8 L289.7,159.9 L291.6,160.5 L292.6,161.6 L294.7,162.6 L298.2,163.8 L300.7,164.8Z" stroke="#22a884"/>
<path d="M341.2,188.8 L342.8,191.3 L341.7,195.3 L341.7,197.4 L340.6,199.5 L338.1,201.0 L337.8,201.4 L335.8,201.4 L334.0,201.8 L332.9,202.9 L329.9,204.8 L327.7,203.7 L326.5,201.1 L326.4,196.6 L326.8,193.5 L325.5,191.1 L323.8,189.7 L322.1,186.2 L323.4,184.7 L324.5,182.5 L327.0,182.6 L327.8,181.7 L329.8,178.4 L331.3,180.4 L333.1,181.5 L335.1,182.2 L337.8,184.5 L339.8,185.9Z" stroke="#7ad151"/>
<path d="M337.7,227.2 L335.8,228.5 L331.6,231.4 L330.6,231.9 L329.2,234.5 L328.4,233.8 L322.9,235.1 L320.6,235.0 L316.8,233.5 L312.5,232.7 L309.1,233.4 L309.0,232.3 L309.5,229.9 L307.9,229.1 L309.4,227.5 L307.7,226.7 L308.8,225.1 L308.0,224.5 L310.4,222.9 L312.4,222.3 L316.5,222.9 L321.5,223.5 L324.2,221.4 L326.1,223.4 L327.7,223.4 L329.7,224.4 L330.5,225.5 L334.8,226.9Z" stroke="#22a884"/>
<path d="M153.4,267.5 L154.7,269.1 L152.4,270.7 L150.9,269.5 L149.3,270.7 L150.7,271.9 L148.7,273.6 L148.9,272.5 L146.2,272.9 L147.3,272.5 L146.5,271.0 L143.5,270.5 L142.6,270.3 L142.2,268.4 L143.2,266.9 L142.8,266.9 L145.3,265.6 L144.3,266.3 L144.4,265.2 L145.2,264.0 L146.7,264.1 L147.7,263.2 L150.2,264.8 L150.7,264.4 L150.6,264.0 L153.4,266.1 L152.8,266.7 L154.4,265.9Z" stroke="#22a884"/>
<path d="M181.4,329.3 L181.5,331.3 L180.6,332.9 L182.1,334.1 L181.8,334.1 L180.9,335.6 L178.1,336.2 L177.8,335.7 L176.1,335.2 L175.2,333.1 L174.8,332.2 L175.7,331.5 L174.3,331.9 L174.6,329.9 L172.3,329.6 L173.3,327.1 L173.5,325.7 L174.8,324.7 L174.6,324.8 L175.8,322.8 L176.5,323.3 L178.8,321.4 L179.7,322.1 L181.0,323.6 L180.5,323.7 L181.4,324.3 L182.3,327.1 L182.4,327.0Z" stroke="#22a884"/>
<path d="M281.7,292.5 L283.4,294.7 L283.3,296.6 L282.3,298.6 L282.4,298.5 L280.0,299.1 L278.6,299.7 L275.9,298.4 L275.9,299.9 L275.5,299.2 L273.0,297.3 L273.4,296.3 L272.1,296.4 L272.5,294.0 L271.8,293.5 L272.7,292.5 L272.0,291.5 L273.0,287.7 L271.8,286.4 L273.5,287.6 L274.7,288.0 L276.2,288.1 L278.0,286.3 L281.0,286.4 L282.7,285.9 L282.2,287.7 L282.8,289.5 L283.2,291.5Z" stroke="#22a884"/>
<path d="M302.0,352.8 L302.4,354.0 L302.4,356.0 L302.2,356.8 L301.8,357.0 L298.7,356.1 L297.3,355.9 L294.5,356.6 L293.5,357.8 L290.4,358.1 L288.9,359.0 L286.8,357.6 L287.1,355.7 L287.3,353.4 L285.5,353.0 L285.1,351.2 L285.0,351.5 L288.5,350.6 L290.2,349.0 L290.9,348.7 L292.1,347.8 L295.3,347.6 L297.7,347.4 L297.5,349.2 L299.5,349.7 L302.1,349.7 L305.7,351.5 L303.4,352.6Z" stroke="#22a884"/>
<path d="M311.8,364.6 L313.4,364.4 L312.5,365.1 L311.5,367.1 L310.2,365.6 L309.1,365.6 L308.6,365.7 L306.9,366.3 L306.9,367.8 L305.3,366.9 L306.8,366.6 L304.1,364.9 L304.0,364.1 L305.6,365.3 L305.6,364.4 L305.8,363.1 L303.4,362.4 L304.9,363.0 L304.5,362.7 L306.1,360.7 L307.6,362.6 L308.4,361.7 L308.9,360.4 L309.0,361.6 L311.2,360.3 L310.3,362.1 L311.4,364.0 L311.8,363.6Z" stroke="#2a788e"/>
<path d="M293.1,334.1 L292.6,334.7 L290.4,334.7 L291.2,335.2 L292.1,336.4 L291.7,336.7 L289.8,337.5 L289.7,335.7 L288.9,335.8 L287.3,335.6 L287.3,335.6 L286.1,335.5 L286.6,334.5 L286.6,334.2 L287.4,334.1 L286.6,332.4 L286.6,331.0 L287.5,329.9 L288.4,330.2 L288.4,329.9 L287.3,328.6 L288.7,328.0 L290.2,329.1 L290.6,328.5 L291.8,329.8 L291.9,331.3 L290.4,332.1 L292.6,333.0Z" stroke="#2a788e"/>
<path d="M240.1,439.0 L239.7,444.1 L238.6,448.5 L236.6,450.5 L231.2,452.3 L226.6,454.1 L222.2,454.5 L218.5,455.3 L214.1,456.2 L208.9,456.3 L205.4,458.2 L202.1,458.9 L198.0,459.4 L192.3,458.6 L189.6,457.7 L185.3,458.6 L179.1,455.9 L174.1,454.5 L171.3,453.5 L169.3,449.9 L170.8,446.3 L168.1,443.8 L165.6,438.9 L163.2,435.7 L164.5,433.6 L168.7,430.7 L172.0,430.3 L176.4,427.6 L179.5,426.3 L185.1,422.0 L188.5,420.8 L192.6,420.9 L196.1,420.3 L202.3,421.4 L204.9,422.6 L210.4,421.7 L215.9,424.0 L219.6,426.7 L225.3,428.8 L229.2,431.6 L233.7,433.4 L236.0,435.8Z" stroke="#22a884"/>
<path d="M275.2,417.5 L276.8,420.5 L280.3,423.8 L277.3,427.7 L273.6,429.1 L268.6,428.3 L263.7,427.2 L260.8,430.1 L258.2,430.0 L254.8,428.9 L254.5,425.7 L248.8,426.6 L243.9,425.4 L244.0,422.3 L242.3,419.0 L245.2,416.1 L249.7,413.0 L250.8,410.6 L252.3,406.9 L255.8,406.2 L258.1,404.5 L262.7,407.0 L266.1,407.1 L269.1,407.0 L270.8,409.2 L274.8,410.3 L276.6,411.8 L273.9,414.6Z" stroke="#22a884"/>
<path d="M311.8,430.3 L310.1,434.4 L310.9,438.1 L309.5,441.6 L308.4,446.2 L305.3,447.8 L302.4,447.8 L300.2,449.0 L295.9,450.3 L293.8,447.5 L292.0,442.1 L289.2,441.9 L285.4,441.9 L284.2,435.1 L283.9,429.4 L287.0,425.7 L288.2,421.1 L290.6,419.9 L292.1,417.2 L294.1,412.1 L296.3,407.4 L300.8,405.2 L302.8,406.2 L305.5,410.8 L308.0,415.2 L308.2,420.1 L310.4,423.3 L311.9,427.4Z" stroke="#22a884"/>
<path d="M395.3,408.2 L393.8,410.6 L386.9,413.6 L384.4,416.6 L381.3,419.2 L378.2,418.9 L373.7,420.9 L369.9,422.7 L365.2,425.5 L359.7,423.9 L353.4,421.6 L348.7,419.5 L344.9,416.0 L345.8,412.7 L345.7,408.0 L346.3,405.2 L349.8,400.7 L350.6,398.2 L354.3,393.3 L359.6,392.8 L366.0,391.7 L369.3,391.7 L373.9,392.4 L378.5,395.4 L382.3,397.1 L383.7,400.2 L386.4,401.6 L389.1,405.5 L392.9,405.7Z" stroke="#2a788e"/>
<path d="M152.7,425.0 L151.9,427.6 L149.1,430.4 L146.8,432.7 L142.9,434.8 L139.5,433.6 L133.0,433.6 L129.3,435.6 L126.1,438.6 L120.5,436.4 L116.9,436.4 L113.6,433.7 L113.1,431.2 L110.0,426.9 L110.9,424.5 L111.3,421.6 L114.9,419.8 L115.2,418.4 L117.1,416.7 L120.4,415.4 L124.5,412.0 L130.2,412.2 L135.2,411.7 L138.8,413.7 L142.2,415.1 L146.1,417.3 L146.5,420.4 L150.0,422.2Z" stroke="#22a884"/>
<path d="M249.6,395.0 L247.3,395.2 L247.0,398.1 L247.9,398.1 L245.8,399.4 L245.1,399.6 L241.4,399.9 L238.6,400.4 L237.0,401.4 L236.3,400.9 L234.8,398.2 L234.0,399.2 L229.7,398.8 L230.8,397.4 L229.8,395.6 L231.0,393.4 L230.5,393.1 L233.1,389.9 L233.3,389.6 L235.1,390.5 L238.5,391.2 L240.5,388.9 L243.1,387.1 L245.6,387.7 L246.8,389.6 L246.1,392.9 L247.9,392.3 L248.7,393.5Z" stroke="#22a884"/>
<path d="M188.7,299.8 L186.5,301.6 L186.5,302.2 L184.9,302.9 L184.9,303.6 L182.6,304.8 L181.2,303.5 L179.2,305.2 L178.8,305.2 L177.2,304.1 L174.4,304.7 L173.5,303.0 L171.8,301.7 L172.1,300.9 L172.7,299.2 L172.0,298.4 L173.0,296.8 L172.5,296.3 L173.7,296.6 L175.4,294.8 L178.2,294.0 L181.0,294.4 L182.0,294.4 L183.3,295.5 L186.3,296.2 L188.1,297.5 L187.7,296.5 L187.8,299.7Z" stroke="#22a884"/>
<path d="M272.0,183.1 L270.4,182.2 L269.3,182.8 L268.9,185.4 L269.2,184.6 L268.8,185.2 L267.1,184.9 L265.2,186.7 L263.6,188.0 L262.7,185.8 L261.1,184.2 L260.6,184.2 L258.8,184.0 L260.6,181.9 L260.8,182.4 L259.1,181.7 L258.8,179.2 L260.6,180.2 L260.4,179.3 L262.0,178.3 L263.2,177.0 L265.8,178.0 L266.1,179.5 L268.5,179.1 L269.0,179.5 L269.6,178.6 L269.8,180.7 L270.3,180.4Z" stroke="#7ad151"/>
<path d="M369.4,304.6 L366.4,306.3 L364.4,306.0 L364.5,308.3 L362.4,309.9 L361.0,309.8 L357.3,308.6 L355.6,307.1 L354.4,305.8 L351.1,303.1 L349.1,302.6 L351.3,299.6 L351.8,297.5 L350.5,296.3 L349.9,294.8 L351.0,294.7 L355.7,294.4 L356.8,294.3 L356.7,293.0 L358.4,293.9 L361.4,292.7 L363.5,294.6 L366.1,293.7 L369.3,295.1 L370.8,299.2 L371.1,301.1 L370.4,301.4 L369.7,304.3Z" stroke="#22a884"/>
<path d="M392.1,279.0 L393.0,283.4 L391.9,285.3 L390.2,286.3 L390.1,289.6 L387.8,292.3 L386.9,294.2 L386.0,293.1 L382.3,292.2 L382.7,290.8 L380.8,288.7 L378.4,289.0 L375.9,285.6 L375.9,282.5 L377.4,280.2 L378.0,276.1 L377.6,273.1 L378.1,272.9 L381.2,272.0 L382.7,268.1 L383.9,266.1 L385.0,265.6 L387.0,264.6 L388.9,267.4 L391.2,268.0 L392.7,271.3 L392.7,274.0 L392.4,277.3Z" stroke="#22a884"/>
<path d="M423.2,214.6 L423.2,216.3 L423.7,217.8 L420.4,218.9 L419.0,220.6 L415.5,222.5 L414.6,224.2 L411.1,224.1 L406.0,224.7 L401.9,224.1 L399.7,222.6 L398.6,219.3 L396.6,217.4 L394.4,216.0 L393.1,214.3 L394.7,212.9 L395.1,210.0 L398.5,209.7 L401.9,207.6 L403.4,209.6 L407.0,209.8 L411.4,208.2 L413.6,206.6 L417.9,207.3 L420.8,206.1 L422.7,209.2 L422.6,212.4 L424.8,213.9Z" stroke="#22a884"/>
<path d="M460.7,200.1 L461.6,201.9 L460.4,201.8 L460.1,202.9 L460.6,204.9 L459.3,204.9 L455.4,203.3 L455.6,205.2 L452.0,206.1 L453.1,204.0 L450.8,202.2 L450.5,201.9 L447.1,201.2 L446.6,200.1 L446.5,200.1 L446.3,198.3 L446.7,197.0 L449.0,196.4 L450.9,196.4 L452.8,196.0 L452.8,196.6 L455.7,195.0 L457.1,195.5 L457.0,195.3 L459.7,195.4 L458.9,196.9 L460.4,197.2 L462.1,200.4Z" stroke="#22a884"/>
<path d="M554.8,179.9 L553.7,181.6 L551.9,182.7 L548.5,185.0 L546.5,186.2 L544.3,187.3 L542.8,188.7 L539.5,188.9 L537.0,187.7 L535.2,188.6 L532.1,186.7 L531.0,186.0 L531.1,183.4 L530.5,181.2 L530.1,181.1 L528.5,178.7 L526.3,175.4 L529.3,174.1 L531.9,171.8 L533.6,173.2 L537.5,173.5 L541.2,174.2 L542.0,171.3 L544.3,172.1 L547.7,173.7 L549.4,174.3 L549.4,176.1 L553.3,178.2Z" stroke="#2a788e"/>
<path d="M583.7,200.0 L583.1,203.3 L582.0,205.2 L581.5,207.1 L581.7,210.7 L579.1,210.0 L576.1,211.4 L573.8,211.1 L572.6,212.7 L571.6,211.2 L569.6,207.5 L568.4,206.7 L567.5,205.6 L567.1,202.6 L566.3,200.4 L569.0,198.5 L568.4,195.6 L570.6,193.7 L569.0,188.9 L570.1,188.8 L572.5,191.5 L576.2,188.9 L575.6,189.3 L579.2,189.2 L580.3,189.9 L582.6,191.9 L583.1,194.9 L583.9,198.4Z" stroke="#2a788e"/>
<path d="M650.4,190.9 L649.1,193.0 L648.3,196.7 L647.2,198.2 L646.9,199.6 L643.5,202.5 L643.1,204.6 L640.4,205.4 L637.2,203.3 L634.8,203.1 L632.7,201.4 L632.6,198.2 L631.8,196.1 L631.8,192.5 L632.9,190.2 L630.4,185.9 L631.4,184.1 L632.8,182.5 L636.1,180.4 L636.0,178.8 L638.0,175.4 L640.2,174.9 L642.4,175.9 L645.1,177.3 L645.2,179.4 L647.4,181.6 L650.4,182.1 L650.0,187.3Z" stroke="#22a884"/>
<path d="M661.7,231.0 L660.8,230.7 L663.8,233.3 L661.0,235.3 L660.3,237.0 L658.6,236.6 L657.0,235.7 L655.0,236.9 L654.2,236.2 L650.3,238.1 L647.8,238.4 L647.4,235.8 L648.6,233.4 L646.8,230.9 L647.6,229.5 L646.4,227.2 L647.7,226.3 L647.7,222.9 L649.6,223.6 L651.6,222.5 L653.9,223.3 L654.5,221.6 L657.5,219.7 L657.8,221.7 L659.2,223.9 L663.1,225.9 L663.8,224.9 L663.7,228.6Z" stroke="#7ad151"/>
<path d="M519.0,262.3 L517.4,263.9 L515.5,263.8 L516.3,266.0 L515.2,266.4 L513.4,266.9 L510.8,266.4 L510.2,265.8 L508.5,264.5 L507.5,265.4 L506.2,265.1 L504.9,265.3 L502.6,263.6 L502.3,264.3 L502.6,261.2 L502.2,259.9 L503.0,260.1 L502.4,259.6 L504.4,257.3 L507.2,256.3 L507.6,256.8 L510.7,257.2 L511.5,257.4 L512.2,258.2 L514.5,259.6 L515.9,258.5 L516.3,259.2 L519.0,260.5Z" stroke="#2a788e"/>
<path d="M481.5,295.1 L481.0,297.6 L477.8,298.1 L476.3,298.8 L474.1,298.3 L470.0,299.0 L467.7,299.4 L465.8,297.6 L463.8,294.8 L459.5,294.3 L457.9,290.7 L457.1,288.8 L457.9,287.0 L460.5,285.7 L460.3,285.1 L460.9,281.6 L461.7,281.4 L463.1,281.8 L467.3,282.8 L469.6,283.1 L471.0,283.2 L472.0,284.7 L475.4,286.7 L478.8,288.3 L480.4,287.8 L480.3,289.6 L480.5,293.5 L482.2,295.4Z" stroke="#2a788e"/>
<path d="M135.2,337.3 L136.1,340.0 L133.9,341.5 L134.2,344.0 L134.1,345.9 L131.7,347.8 L130.7,350.0 L128.0,350.2 L125.1,348.9 L124.5,345.5 L124.3,342.9 L121.8,342.3 L122.0,342.1 L121.9,339.7 L121.0,339.1 L120.7,334.6 L118.7,331.9 L120.8,330.8 L122.8,329.1 L125.4,327.7 L127.4,328.9 L128.8,327.7 L131.0,327.4 L132.1,330.5 L130.9,331.8 L133.1,333.0 L134.8,334.3 L135.6,335.3Z" stroke="#7ad151"/>
<path d="M336.1,469.3 L338.0,471.6 L337.2,472.9 L336.3,473.3 L332.6,474.3 L331.5,472.9 L330.6,474.1 L330.5,473.7 L327.7,474.5 L327.4,473.8 L325.7,474.1 L325.2,472.8 L325.2,473.2 L324.4,471.3 L323.8,470.7 L322.5,469.1 L324.7,468.0 L325.7,467.5 L326.1,465.9 L327.0,465.1 L329.1,463.5 L329.0,464.8 L330.6,464.5 L333.8,466.4 L334.5,464.5 L335.6,466.3 L335.7,468.2 L336.0,468.6Z" stroke="#2a788e"/>
<path d="M303.8,480.3 L305.8,480.6 L305.1,482.1 L303.9,485.8 L303.3,487.0 L301.6,488.6 L301.3,487.0 L299.3,487.2 L299.7,486.3 L298.8,485.4 L296.1,485.4 L296.1,485.9 L295.6,482.5 L295.0,481.0 L293.5,479.0 L295.0,479.6 L296.2,477.8 L296.8,476.1 L296.3,473.3 L297.2,474.0 L299.0,475.1 L301.3,472.4 L302.4,473.2 L302.1,474.6 L302.2,475.5 L304.0,475.5 L305.4,477.5 L304.5,477.8Z" stroke="#2a788e"/>
<path d="M412.3,419.0 L413.1,421.3 L412.5,421.8 L411.5,424.3 L411.4,423.9 L408.4,424.2 L407.6,424.5 L405.6,426.2 L404.2,424.2 L402.3,423.4 L400.5,423.2 L398.9,422.1 L397.4,423.3 L395.9,420.3 L396.0,418.8 L394.9,419.0 L397.3,418.5 L398.3,416.2 L400.1,416.2 L401.7,414.7 L403.5,413.8 L404.4,413.5 L406.6,414.6 L407.9,416.5 L409.5,416.4 L411.6,418.2 L410.4,417.7 L412.8,418.8Z" stroke="#414487"/>
<path d="M565.0,369.2 L565.8,369.9 L565.7,372.3 L565.3,372.6 L565.4,373.3 L563.6,374.2 L561.6,375.8 L559.4,375.2 L559.1,373.4 L558.0,374.0 L555.7,373.2 L555.9,373.6 L555.5,371.9 L555.1,371.5 L553.7,369.8 L553.8,369.0 L555.3,369.5 L556.9,367.1 L555.9,366.0 L558.5,365.4 L558.4,365.4 L559.2,367.3 L561.0,366.9 L563.4,366.7 L564.6,367.5 L564.9,367.6 L566.2,368.7 L565.4,370.1Z" stroke="#414487"/>
<path d="M594.9,402.0 L594.4,403.8 L594.0,406.2 L592.5,407.1 L591.0,407.2 L590.4,408.7 L588.6,408.0 L585.8,409.0 L586.0,408.4 L584.9,406.3 L586.1,403.1 L585.3,403.2 L585.8,402.0 L585.3,400.9 L585.8,397.2 L585.8,396.0 L588.5,396.5 L587.6,393.4 L588.5,392.8 L590.2,391.4 L591.9,392.3 L592.6,393.3 L595.3,392.8 L595.4,393.8 L593.4,395.4 L595.8,397.9 L595.9,397.0 L597.0,400.4Z" stroke="#414487"/>
<path d="M607.2,430.0 L606.1,430.6 L604.6,431.4 L603.8,431.5 L602.8,431.9 L602.7,432.9 L601.8,434.1 L601.1,434.6 L599.4,434.1 L598.4,434.2 L598.1,431.8 L594.9,431.8 L593.5,432.5 L595.8,430.0 L594.6,431.0 L593.3,427.9 L594.2,427.3 L593.1,427.2 L595.1,426.3 L597.0,427.5 L600.0,428.1 L600.0,427.9 L601.6,426.8 L603.3,426.7 L605.6,425.6 L606.6,427.8 L606.4,428.0 L605.9,430.1Z" stroke="#414487"/>
<path d="M259.5,639.1 L259.3,641.4 L259.2,643.3 L261.4,645.7 L260.1,648.9 L254.9,646.4 L252.2,647.9 L249.8,647.6 L247.9,646.1 L244.3,647.8 L240.5,646.4 L239.1,645.5 L237.5,643.6 L236.3,641.9 L238.6,639.6 L237.2,638.5 L236.2,636.6 L237.4,633.9 L240.6,631.9 L245.2,631.3 L248.0,632.0 L250.9,633.7 L251.0,634.7 L254.9,634.3 L256.3,634.5 L260.0,636.2 L261.1,635.4 L260.7,638.6Z" stroke="#22a884"/>
<path d="M282.8,660.0 L283.7,662.0 L283.6,662.9 L281.8,665.2 L279.1,666.7 L276.9,666.9 L274.4,667.6 L270.7,669.5 L268.5,670.9 L266.7,667.8 L264.7,667.2 L264.5,664.9 L263.3,663.2 L260.6,662.2 L260.8,660.9 L260.8,657.1 L261.7,656.5 L262.9,653.8 L263.4,652.0 L266.9,649.6 L267.9,650.3 L272.2,647.7 L274.6,648.9 L278.0,651.3 L280.6,651.5 L282.3,654.6 L283.1,656.0 L282.8,659.2Z" stroke="#2a788e"/>
<path d="M277.7,663.0 L278.3,662.0 L279.7,664.0 L278.9,662.8 L277.3,663.9 L276.3,664.6 L275.5,665.5 L273.8,665.9 L275.1,665.5 L272.6,665.6 L271.9,665.5 L272.4,664.7 L271.0,662.3 L269.8,662.6 L271.7,661.7 L272.2,661.6 L270.4,660.8 L272.7,659.4 L272.8,659.6 L272.3,659.5 L273.3,658.5 L275.5,657.9 L276.7,658.9 L277.4,659.5 L279.2,658.9 L278.7,660.2 L277.3,660.8 L279.1,662.5Z" stroke="#414487"/>
<path d="M323.8,682.7 L322.3,684.6 L320.6,685.6 L319.1,686.1 L319.0,689.7 L316.1,689.7 L314.3,692.3 L313.2,690.2 L309.6,689.0 L306.7,689.6 L305.2,690.1 L304.3,687.2 L305.1,684.3 L302.7,683.7 L303.7,682.3 L302.2,679.6 L302.2,676.6 L300.9,674.9 L304.0,672.1 L305.7,673.0 L309.1,671.9 L313.5,672.3 L314.2,668.7 L318.5,670.7 L320.8,671.6 L321.5,675.9 L321.5,677.2 L322.9,681.1Z" stroke="#2a788e"/>
<path d="M346.7,716.8 L345.9,715.7 L345.4,718.2 L346.0,718.1 L345.6,719.7 L343.3,721.5 L343.4,719.8 L342.4,721.5 L339.6,721.1 L339.7,719.2 L340.2,719.8 L338.8,719.2 L338.1,717.7 L337.5,717.8 L336.3,716.0 L335.9,714.9 L337.5,713.4 L336.6,713.2 L338.9,712.1 L338.7,712.4 L340.9,710.6 L341.5,710.5 L343.7,712.8 L344.9,712.5 L344.9,712.1 L346.5,711.7 L346.0,713.6 L346.9,715.9Z" stroke="#414487"/>
<path d="M431.5,653.6 L430.6,655.1 L430.7,656.1 L427.7,657.4 L425.5,658.0 L422.9,656.6 L420.8,655.7 L419.2,655.1 L415.6,654.7 L411.7,653.6 L410.8,651.8 L410.8,650.6 L410.9,648.8 L410.3,647.2 L409.8,646.0 L412.7,645.9 L412.2,645.8 L413.4,644.9 L414.1,642.2 L417.7,641.5 L420.1,642.6 L423.3,644.7 L425.0,644.2 L424.6,646.9 L427.4,647.6 L428.0,648.8 L429.2,649.9 L430.6,652.7Z" stroke="#7ad151"/>
<path d="M471.2,659.9 L472.4,661.9 L471.1,662.4 L468.5,663.0 L463.8,662.9 L462.2,664.7 L463.0,663.8 L459.7,664.9 L457.3,663.5 L454.7,664.1 L453.3,665.5 L451.1,664.5 L451.1,663.1 L451.0,660.3 L450.0,659.1 L448.2,658.5 L450.5,657.7 L450.7,657.5 L454.5,655.3 L455.3,655.2 L458.4,653.4 L459.7,656.2 L462.0,656.6 L464.8,656.0 L466.1,656.1 L469.1,656.1 L471.9,657.0 L471.9,659.2Z" stroke="#7ad151"/>
<path d="M518.0,644.3 L518.5,647.1 L517.0,647.5 L516.1,647.9 L515.6,650.2 L513.5,651.4 L510.9,649.7 L508.8,651.4 L507.6,650.6 L506.5,649.8 L505.8,647.4 L504.4,647.1 L502.2,647.8 L502.6,646.5 L502.6,644.7 L501.7,643.7 L502.7,643.3 L503.2,642.2 L506.0,641.4 L505.9,641.5 L507.1,640.5 L509.1,639.0 L511.0,639.2 L513.1,640.5 L516.6,639.9 L518.0,641.1 L518.6,643.3 L518.0,644.6Z" stroke="#22a884"/>
<path d="M401.0,620.3 L400.6,622.0 L400.6,622.7 L399.5,624.8 L396.4,625.7 L394.9,625.2 L392.6,625.0 L389.6,623.7 L387.4,625.2 L386.8,624.7 L384.2,624.3 L381.1,623.9 L378.8,623.3 L379.4,622.0 L378.5,619.0 L378.4,618.8 L379.1,617.4 L380.3,615.2 L383.5,613.6 L384.4,614.4 L388.1,614.1 L390.3,613.9 L392.6,615.1 L394.3,615.4 L395.0,617.3 L397.7,616.8 L401.4,617.4 L401.3,618.9Z" stroke="#7ad151"/>
<path d="M641.9,596.0 L642.8,598.1 L643.2,597.9 L643.7,600.3 L641.5,604.2 L639.1,603.2 L633.4,604.2 L632.8,605.6 L629.1,607.7 L625.2,610.2 L622.0,610.4 L621.6,609.7 L619.9,607.7 L620.4,606.0 L619.3,603.4 L616.7,603.6 L614.1,601.2 L615.8,598.9 L619.4,598.4 L622.7,595.8 L623.6,593.3 L626.3,591.4 L629.4,590.5 L632.4,590.1 L636.8,590.5 L640.8,591.2 L642.2,590.6 L643.4,594.3Z" stroke="#7ad151"/>
<path d="M661.6,585.9 L659.7,586.0 L657.0,589.1 L658.4,590.6 L656.8,595.5 L654.3,595.2 L651.7,594.8 L650.8,594.7 L647.6,594.1 L645.8,594.4 L643.2,593.2 L641.5,591.2 L639.2,590.0 L638.0,587.8 L639.2,585.8 L638.0,582.1 L640.4,579.5 L642.9,578.1 L645.2,576.8 L646.3,576.3 L647.5,573.9 L650.9,574.6 L651.7,574.2 L653.4,575.2 L655.3,576.5 L656.9,578.4 L656.2,580.4 L659.8,582.7Z" stroke="#fde725"/>
<path d="M653.5,609.6 L653.4,612.5 L652.2,613.4 L651.8,613.7 L650.8,616.4 L648.0,615.6 L646.0,613.7 L644.5,615.1 L643.0,617.3 L641.8,615.8 L640.0,616.1 L639.5,614.9 L638.6,611.7 L639.6,612.3 L638.9,609.1 L638.8,609.3 L638.7,608.5 L640.4,607.3 L640.8,606.4 L642.2,606.2 L643.7,605.7 L645.2,604.1 L648.2,603.9 L649.8,604.3 L649.5,604.7 L651.4,605.4 L652.0,606.2 L652.9,609.2Z" stroke="#fde725"/>
<path d="M341.5,161.0 L340.3,163.7 L342.8,165.3 L343.5,171.5 L342.8,176.6 L344.0,180.3 L345.4,185.5 L346.1,188.4 L345.9,192.3 L345.8,197.5 L345.7,201.4 L348.0,205.1 L347.6,208.5 L349.1,212.0 L349.3,218.3 L351.7,221.6 L354.1,224.8 L355.8,227.2 L357.7,231.5 L360.9,235.7 L366.9,239.3 L368.5,241.5 L372.6,244.9 L379.0,246.8 L383.6,248.3 L386.9,249.8 L391.4,251.4 L395.5,254.0 L400.3,257.5 L404.4,257.9 L407.7,261.2 L410.1,261.0" stroke="#22a884"/>
<path d="M241.4,249.2 L246.4,249.6 L249.9,249.0 L254.2,251.0 L260.6,249.4 L264.2,250.5 L268.6,249.4 L271.4,249.3 L277.7,251.5 L281.8,250.0 L285.4,250.3 L289.8,251.8 L294.9,251.9 L300.2,252.9 L306.4,253.3 L310.0,254.6 L312.5,255.5 L317.8,259.9 L319.7,264.0 L320.9,266.5 L321.4,270.2 L326.2,274.1 L332.0,275.7 L336.2,275.7 L340.3,276.0 L344.6,275.5 L349.4,273.6 L351.7,270.6 L354.7,267.3 L355.6,262.7 L355.9,258.9 L354.9,254.5 L350.8,248.6 L350.2,244.6 L347.2,240.1 L344.7,238.9" stroke="#22a884"/>
<path d="M330.1,346.8 L332.8,343.0 L332.5,338.6 L333.4,334.1 L335.3,331.0 L337.0,325.3 L340.7,324.0 L342.0,320.0 L347.8,318.9 L351.0,319.1 L355.4,316.9 L359.2,318.1 L362.4,316.3 L367.1,317.4 L371.8,315.3 L375.6,316.0 L380.8,317.4 L384.5,317.8 L390.4,316.7 L393.8,319.8 L397.4,319.9 L403.0,322.5 L406.9,325.7 L410.2,330.1 L412.8,333.4 L418.9,336.5 L421.5,338.3 L424.2,340.6" stroke="#2a788e"/>
<path d="M539.5,629.9 L542.5,628.8 L545.4,630.6 L549.2,629.2 L553.8,628.7 L557.0,629.3 L561.3,628.9 L567.7,627.5 L571.4,625.7 L575.0,626.6 L580.5,625.3 L583.2,624.5 L589.3,623.6 L592.7,621.3 L596.3,619.1 L599.5,619.6 L604.5,616.6 L608.7,616.3 L613.6,613.9 L617.1,611.8 L620.4,610.7 L624.2,607.0 L627.4,606.3 L631.5,605.1 L635.2,601.8 L637.8,600.5 L641.7,597.3 L643.9,595.5 L647.1,593.1 L650.9,589.8 L653.0,586.2 L656.4,583.9 L658.7,579.2 L660.1,575.1 L663.0,572.5 L666.1,569.0 L668.9,564.3 L668.8,562.6 L670.8,560.8" stroke="#22a884"/>
</g>
</g>
<g fill="none" stroke="#fff" stroke-width="1.8" stroke-linejoin="round" clip-path="url(#tlax)">
<path d="M105.8,345.1 L109.6,346.2 L112.8,346.7 L114.3,346.1 L120.0,347.1 L123.2,346.3 L125.1,347.0 L128.4,348.3 L130.0,347.7 L133.7,349.9 L138.0,348.3 L140.5,345.9 L142.4,343.4 L143.2,343.0 L146.7,338.7 L151.8,337.9 L152.3,340.1 L155.3,341.4 L156.7,344.1 L161.1,347.3 L164.8,348.7 L165.3,350.9 L166.7,353.3 L169.0,357.3 L170.1,359.9 L172.9,361.4 L176.0,364.2 L177.8,364.9 L181.9,364.4 L185.7,365.0 L188.1,369.0 L189.2,370.7 L193.9,371.2 L196.6,370.7 L200.4,371.1 L203.7,368.7 L209.9,368.2 L212.6,365.8 L216.9,366.9 L219.6,366.8 L225.2,367.1 L221.3,371.2 L219.5,373.4 L224.7,375.5 L227.8,376.2 L232.1,375.2 L234.3,376.8 L236.6,378.6 L241.0,382.7 L242.4,382.1 L246.5,387.1 L246.9,390.1 L249.2,387.9 L250.8,383.1 L252.6,385.3 L255.4,385.1 L260.4,385.0 L263.5,388.1 L266.7,388.7 L268.8,388.7 L272.2,387.8 L276.0,384.9 L280.6,384.7 L283.3,382.5 L284.9,382.0 L287.2,382.7 L289.4,384.2 L291.7,388.3 L295.6,389.2 L297.2,390.4 L299.0,392.1 L303.3,396.2 L304.7,398.5 L308.3,400.8 L311.2,402.5 L313.6,404.0 L316.5,405.0 L320.9,404.6 L322.8,404.3 L326.9,402.4 L328.1,400.4 L331.6,398.8 L335.0,397.3 L338.3,395.4 L340.3,392.4 L344.2,390.4 L346.0,387.9 L349.9,385.7 L352.7,384.7 L354.0,381.8 L355.6,380.9 L360.6,378.4 L362.9,377.5 L365.9,374.5 L369.0,374.0 L370.4,376.9 L371.9,381.1 L373.5,384.2 L373.6,386.0 L377.7,386.9 L380.2,386.5 L384.4,384.4 L387.0,384.4 L389.0,383.7 L393.3,384.2 L396.6,384.1 L400.8,385.4 L404.8,386.2 L406.8,386.2 L409.2,384.0 L412.8,383.1 L415.4,383.4 L416.8,384.2 L418.2,387.3 L418.7,390.9 L421.0,394.7 L423.8,395.4 L426.0,398.2 L427.1,399.1 L430.5,398.7 L434.4,398.4 L436.4,395.3 L438.9,397.5 L438.6,402.0 L441.7,403.9 L443.5,409.0 L444.6,410.8 L442.0,412.6 L441.7,415.0 L439.5,418.6 L436.3,419.1 L435.2,421.9 L432.2,424.4 L432.2,427.7 L428.9,430.6 L426.4,433.9 L425.0,436.0 L423.7,440.2 L420.1,442.2 L419.1,446.0 L418.8,447.0 L415.8,449.5 L419.1,453.5 L419.6,457.6 L421.2,461.6 L418.8,462.5 L416.2,465.2 L413.0,467.5 L409.8,470.2 L407.6,471.9 L406.1,474.7 L402.1,476.0 L401.0,479.9 L399.0,477.2 L393.7,476.0 L391.7,473.8 L389.4,472.2 L385.8,471.2 L382.9,471.6 L381.5,472.8 L377.4,476.2 L374.2,477.9 L373.2,478.6 L370.5,482.8 L370.5,484.5 L367.7,488.8 L366.1,491.6 L366.8,495.5 L370.2,497.4 L370.3,502.7 L373.5,505.5 L373.6,509.0 L378.2,513.0 L377.1,513.6 L377.0,517.1 L376.1,522.1 L375.8,523.0 L374.3,528.1 L372.6,530.3 L372.0,532.2 L371.2,535.0 L368.6,538.9 L367.2,541.1 L366.3,545.6 L364.9,546.6 L361.5,549.7 L359.8,552.8 L358.4,555.1 L354.0,558.6 L352.0,561.0 L350.8,564.4 L348.7,566.3 L345.8,568.7 L343.6,571.4 L342.1,572.0 L339.2,574.8 L338.3,576.5 L336.0,579.9 L332.2,582.1 L333.7,584.4 L336.4,588.3 L338.6,592.5 L339.7,595.6 L341.5,597.6 L344.1,598.3 L349.0,601.9 L349.7,602.6 L354.2,606.2 L356.0,607.0 L357.7,609.8 L358.9,611.9 L362.0,614.1 L363.6,615.8 L367.0,619.3 L369.1,620.9 L371.8,623.3 L373.8,625.7 L376.8,627.4 L377.7,628.6 L380.6,630.8 L385.0,634.2 L387.2,635.1 L389.0,639.6 L391.9,640.6 L394.1,642.0 L395.8,644.3 L398.9,646.7 L402.8,647.9 L403.7,650.1 L406.0,651.9 L408.8,654.2 L410.8,657.2 L414.2,659.1 L417.6,660.2 L419.6,662.7 L421.3,663.8 L424.3,665.6 L428.0,666.1 L429.5,666.9 L432.5,668.1 L435.9,671.5 L438.7,670.9 L441.9,671.9 L445.5,674.2 L446.8,674.2 L451.0,677.3 L453.7,677.2 L457.4,677.3 L457.8,680.6 L461.6,680.0 L464.7,683.7 L467.6,683.5 L469.4,684.2 L474.4,686.7 L477.4,687.0 L478.5,688.5 L481.8,690.0 L484.4,692.3 L487.4,692.9 L489.6,696.7 L492.9,697.0 L496.4,698.5 L498.5,699.4 L501.2,702.0 L506.0,704.2 L508.5,705.2 L509.0,708.0 L512.8,710.1 L515.2,712.3 L518.8,715.1 L520.3,715.9 L524.3,717.3 L525.5,718.8 L528.4,721.3 L533.3,721.4 L534.5,722.1 L537.8,723.3 L541.3,725.9 L543.8,725.9 L547.9,726.8 L549.4,728.4 L552.7,729.0 L555.7,730.5 L559.4,732.1 L562.7,733.4 L565.2,734.2 L567.2,736.0 L570.6,737.5 L573.7,738.0 L575.3,739.4 L578.5,738.8 L580.5,740.0 L583.9,742.5 L586.8,742.0 L590.9,744.4 L591.8,744.3 L595.0,746.2 L599.7,748.9 L601.9,748.2 L604.3,749.6 L605.1,751.7 L606.7,756.8 L608.1,757.9 L608.6,761.1 L609.3,765.1 L610.1,769.3 L608.3,771.3 L610.6,774.9 L612.3,776.4 L616.2,779.3 L618.6,781.0 L621.7,780.4 L625.3,782.8 L626.3,785.4 L629.3,785.5 L633.5,787.4 L636.2,786.8 L638.9,787.9 L642.7,789.5 L646.2,790.3 L648.2,790.8 L653.0,792.9 L655.8,792.8 L657.7,792.1 L662.0,793.5 L663.0,793.1 L666.3,795.1 L670.5,795.0"/>
<path d="M401.1,511.7 L416.4,505.1 L425.2,511.7 L431.7,505.1 L442.7,513.8 L438.3,522.6 L431.7,531.4 L440.5,540.1 L447.1,544.5 L442.7,551.0 L425.2,548.9 L412.0,546.7 L401.1,546.7 L405.5,535.7 L405.5,522.6Z"/>
<path d="M605.4,730.2 L610.4,716.9 L622.1,710.2 L637.1,705.2 L647.1,710.2 L648.8,715.2 L640.5,713.5 L630.4,716.9 L625.4,723.5 L617.1,728.5 L607.1,731.9Z"/>
<path d="M625.5,756.0 L629.5,748.0 L635.5,747.0 L637.5,755.0 L631.5,758.0Z"/>
<path d="M601.5,737.0 L605.5,735.0 L606.5,739.0 L602.5,740.0Z"/>
<path d="M388.5,362.0 L404.5,345.0 L420.5,328.0 L433.5,313.0 L428.5,322.0 L414.5,340.0 L396.5,358.0Z"/>
<path d="M169.5,360.0 L174.5,354.0 L180.5,358.0 L174.5,364.0Z"/>
<path d="M834.0,178.0 L827.0,179.0 L812.0,181.0 L789.0,183.0 L766.0,182.0 L742.0,171.0 L718.0,147.0 L695.0,124.0 L680.0,110.0 L666.0,103.0"/>
<path d="M105.4,324.7 L107.4,323.7 L109.7,321.0 L114.1,318.2 L116.0,317.2 L117.6,314.8 L121.9,312.9 L125.0,310.3 L127.0,308.2 L128.3,313.1 L129.2,316.0 L129.5,319.2 L129.7,321.6 L130.6,325.5 L129.8,327.2 L129.3,330.4 L129.1,334.6 L126.9,338.1 L126.3,339.8 L123.5,344.0"/>
<path d="M123.4,359.7 L125.8,360.7 L128.5,360.0 L133.3,359.2 L135.6,360.2 L132.2,361.8 L131.2,363.9 L129.0,365.3 L128.3,368.4 L129.2,373.2 L129.7,376.0 L129.6,379.2 L129.4,381.4 L130.8,385.5 L132.6,386.7 L134.5,389.4 L136.8,393.1 L138.9,395.8 L137.3,395.1 L133.3,397.0 L129.5,397.8 L128.3,398.2 L124.7,399.2 L121.7,401.8 L117.9,401.0 L116.3,405.4 L114.9,407.8 L114.5,412.0"/>
<path d="M351.1,398.1 L353.6,397.0 L356.4,394.1 L361.3,391.2 L363.0,390.1 L364.4,387.4 L368.1,385.4 L370.1,383.3"/>
<path d="M834.5,300.5 L831.3,301.6 L827.9,304.3 L826.0,306.4 L823.8,309.9 L821.6,313.5 L822.4,315.9 L822.1,319.3 L821.5,322.1 L822.5,324.6 L822.5,328.3 L822.6,330.7 L821.3,334.5 L822.5,336.9 L820.7,339.5 L820.9,342.7 L820.7,346.1 L818.9,349.2 L818.4,352.7 L818.7,355.0 L817.2,358.7 L816.5,362.6 L814.2,365.0 L814.2,368.3 L813.1,371.3 L812.4,375.0 L809.9,378.3 L808.9,380.5 L808.0,383.4 L805.8,387.6 L804.8,389.2 L803.2,392.2 L800.7,396.6 L799.2,398.7 L796.8,401.8 L794.4,405.8 L792.7,407.9 L792.2,410.8 L791.0,413.6 L789.4,417.6 L787.3,420.6 L787.2,423.8 L788.0,426.6 L787.8,430.2 L788.0,432.5 L788.8,436.1 L788.7,440.2 L788.5,442.2 L787.4,446.1 L786.8,448.6 L785.9,452.7 L784.6,454.9 L786.1,458.7 L785.6,462.0 L786.5,464.9 L786.8,468.7 L787.0,472.1 L786.3,476.4 L786.2,478.8 L785.2,482.0 L784.3,485.6 L784.5,489.7 L782.7,491.1 L781.9,494.0 L780.2,498.0 L779.4,500.8 L778.8,504.0 L778.6,505.4 L776.5,509.7 L776.9,512.4 L777.0,516.5 L776.2,519.5 L775.4,522.8 L777.0,526.4 L779.4,528.8 L781.0,532.0 L781.8,536.0 L783.9,539.6 L783.6,542.3 L782.2,545.5 L781.5,548.2 L782.2,551.7 L781.5,553.9 L780.6,557.5 L779.0,560.7 L779.7,562.9 L780.0,566.1 L779.8,569.7 L780.1,573.1 L782.2,575.5 L782.7,578.3 L783.2,581.8 L783.9,585.3 L784.5,587.9 L783.7,592.3 L785.2,595.1 L785.6,598.1 L787.5,601.6 L789.8,606.4 L788.5,609.8 L786.2,612.3 L785.6,615.9 L784.1,619.9 L782.9,622.3 L781.1,626.0 L779.9,629.0 L778.9,631.7 L777.8,635.1 L777.1,637.6 L775.7,641.1 L775.7,643.9 L773.8,646.8 L773.3,650.4 L773.6,653.5 L772.0,656.2 L771.7,659.5 L771.1,663.5 L770.7,666.1 L770.3,669.2 L771.0,671.8 L771.3,675.8 L771.0,678.2 L771.8,680.3 L770.0,684.6 L768.8,687.6 L767.5,690.2 L766.1,693.6 L766.0,696.3 L764.4,700.5 L762.7,703.0 L762.6,706.6 L760.9,709.3 L760.0,711.4 L760.6,714.3 L759.7,718.4 L757.4,721.0 L755.6,723.0 L753.4,725.5 L752.2,729.1 L750.3,730.9 L748.1,733.6 L746.8,737.1 L745.5,739.7 L743.3,742.4 L740.7,744.8 L738.9,747.1 L737.4,750.7 L736.6,753.9 L737.4,756.3 L736.5,758.9 L734.8,762.1 L734.0,765.3 L734.5,768.7 L733.5,772.2 L732.1,775.6 L731.5,779.8 L728.8,780.8 L726.1,782.5 L723.0,783.6 L719.4,786.6 L716.5,787.9 L714.5,790.1 L711.9,791.7 L708.4,791.8 L705.7,793.6 L703.4,794.8 L700.3,796.5 L696.6,797.1 L693.8,796.6 L690.5,798.4 L687.0,798.1 L682.6,798.4 L679.8,799.8 L676.8,798.7 L673.7,799.1 L671.0,800.0"/>
<path d="M496.0,123.0 L505.0,118.0 L519.0,121.0 L535.0,126.0 L548.0,124.0 L560.0,118.0 L568.0,112.0 L578.0,104.0 L590.0,108.0 L607.0,105.0 L626.0,106.0 L646.0,104.0 L666.0,104.0"/>
<path d="M826,100 L830,112 L834,115"/>
</g>
<line x1="231.0" y1="100" x2="231.0" y2="831" stroke="#fff" stroke-width="2" stroke-dasharray="2 3.6"/>
<line x1="376.7" y1="100" x2="376.7" y2="831" stroke="#fff" stroke-width="2" stroke-dasharray="2 3.6"/>
<line x1="522.4" y1="100" x2="522.4" y2="831" stroke="#fff" stroke-width="2" stroke-dasharray="2 3.6"/>
<line x1="668.1" y1="100" x2="668.1" y2="831" stroke="#fff" stroke-width="2" stroke-dasharray="2 3.6"/>
<line x1="813.8" y1="100" x2="813.8" y2="831" stroke="#fff" stroke-width="2" stroke-dasharray="2 3.6"/>
<line x1="103" y1="240.0" x2="834" y2="240.0" stroke="#fff" stroke-width="2" stroke-dasharray="2 3.6"/>
<line x1="103" y1="385.5" x2="834" y2="385.5" stroke="#fff" stroke-width="2" stroke-dasharray="2 3.6"/>
<line x1="103" y1="531.0" x2="834" y2="531.0" stroke="#fff" stroke-width="2" stroke-dasharray="2 3.6"/>
<line x1="103" y1="676.5" x2="834" y2="676.5" stroke="#fff" stroke-width="2" stroke-dasharray="2 3.6"/>
<line x1="103" y1="822.0" x2="834" y2="822.0" stroke="#fff" stroke-width="2" stroke-dasharray="2 3.6"/>
<text x="497" y="428" font-size="15.5" fill="#440154" text-anchor="middle" transform="rotate(0 497 423)">−90</text>
<text x="444" y="449" font-size="15.5" fill="#414487" text-anchor="middle" transform="rotate(0 444 444)">−81</text>
<text x="455" y="492" font-size="15.5" fill="#2a788e" text-anchor="middle" transform="rotate(0 455 487)">−64</text>
<text x="482" y="540" font-size="15.5" fill="#414487" text-anchor="middle" transform="rotate(50 482 535)">−76</text>
<text x="573" y="548" font-size="15.5" fill="#414487" text-anchor="middle" transform="rotate(-10 573 543)">−81</text>
<text x="533" y="615" font-size="15.5" fill="#2a788e" text-anchor="middle" transform="rotate(0 533 610)">−64</text>
<text x="355" y="602" font-size="15.5" fill="#22a884" text-anchor="middle" transform="rotate(60 355 597)">−54</text>
<text x="196" y="356" font-size="15.5" fill="#22a884" text-anchor="middle" transform="rotate(0 196 351)">−54</text>
<text x="470" y="243" font-size="15.5" fill="#22a884" text-anchor="middle" transform="rotate(-20 470 238)">−54</text>
<text x="176" y="193" font-size="15.5" fill="#7ad151" text-anchor="middle" transform="rotate(30 176 188)">−42</text>
<text x="300" y="640" font-size="15.5" fill="#22a884" text-anchor="middle" transform="rotate(-40 300 635)">−54</text>
<text x="288" y="535" font-size="15.5" fill="#2a788e" text-anchor="middle" transform="rotate(80 288 530)">−64</text>
<rect x="431.2" y="429.1" width="72.5" height="72.4" fill="#ff0000" fill-opacity="0.4"/>
<g clip-path="url(#tlax)" fill="none" stroke-linejoin="round">
<path d="M105.2,527.3 L463.6,463.8 L508.8,458.3" stroke="#0000ff" stroke-width="3.2" stroke-dasharray="3.2 5"/>
<path d="M490.0,447.8 L565.0,447.8 L555.5,478.2 L614.0,478.2" stroke="#007f00" stroke-width="2.6"/>
<path d="M611.0,476.0 L666.0,436.0" stroke="#007f00" stroke-width="2.6"/>
<path d="M620.0,478.0 L666.0,440.0" stroke="#007f00" stroke-width="2.6"/>
<path d="M625.6,475.8 L633.8,446.6 L639.7,446.6 L650.2,487.5" stroke="#007f00" stroke-width="2.6"/>
<path d="M639.7,396.4 L667.7,436.0 L698.1,485.2" stroke="#007f00" stroke-width="2.6"/>
<path d="M667.7,436.0 L707.4,487.5" stroke="#007f00" stroke-width="2.6"/>
<path d="M688.8,440.8 L712.1,422.0 L721.5,457.1 L707.4,487.5" stroke="#007f00" stroke-width="2.6"/>
<path d="M700.0,435.0 L765.9,466.5" stroke="#007f00" stroke-width="2.6"/>
<path d="M718.0,438.0 L737.8,473.5 L770.0,468.0 L780.0,478.0" stroke="#007f00" stroke-width="2.6"/>
<path d="M750.0,470.0 L789.2,478.2 L791.6,460.6 L803.3,457.1 L831.3,473.5" stroke="#007f00" stroke-width="2.6"/>
<path d="M486.2,444.0 L493.8,451.6 M486.2,451.6 L493.8,444.0" stroke="#00bfbf" stroke-width="2.4"/>
<path d="M491.7,444.0 L499.3,451.6 M491.7,451.6 L499.3,444.0" stroke="#00bfbf" stroke-width="2.4"/>
<path d="M497.2,444.0 L504.8,451.6 M497.2,451.6 L504.8,444.0" stroke="#00bfbf" stroke-width="2.4"/>
<path d="M502.7,444.0 L510.3,451.6 M502.7,451.6 L510.3,444.0" stroke="#00bfbf" stroke-width="2.4"/>
<path d="M508.2,444.0 L515.8,451.6 M508.2,451.6 L515.8,444.0" stroke="#00bfbf" stroke-width="2.4"/>
<path d="M513.7,444.0 L521.3,451.6 M513.7,451.6 L521.3,444.0" stroke="#00bfbf" stroke-width="2.4"/>
<path d="M519.2,444.0 L526.8,451.6 M519.2,451.6 L526.8,444.0" stroke="#00bfbf" stroke-width="2.4"/>
<path d="M524.7,444.0 L532.3,451.6 M524.7,451.6 L532.3,444.0" stroke="#00bfbf" stroke-width="2.4"/>
<path d="M530.2,444.0 L537.8,451.6 M530.2,451.6 L537.8,444.0" stroke="#00bfbf" stroke-width="2.4"/>
<path d="M535.7,444.0 L543.3,451.6 M535.7,451.6 L543.3,444.0" stroke="#00bfbf" stroke-width="2.4"/>
<path d="M541.2,444.0 L548.8,451.6 M541.2,451.6 L548.8,444.0" stroke="#00bfbf" stroke-width="2.4"/>
<path d="M546.7,444.0 L554.3,451.6 M546.7,451.6 L554.3,444.0" stroke="#00bfbf" stroke-width="2.4"/>
<path d="M552.2,444.0 L559.8,451.6 M552.2,451.6 L559.8,444.0" stroke="#00bfbf" stroke-width="2.4"/>
<path d="M557.7,444.0 L565.3,451.6 M557.7,451.6 L565.3,444.0" stroke="#00bfbf" stroke-width="2.4"/>
<path d="M551.7,474.4 L559.3,482.0 M551.7,482.0 L559.3,474.4" stroke="#00bfbf" stroke-width="2.4"/>
<path d="M557.2,474.4 L564.8,482.0 M557.2,482.0 L564.8,474.4" stroke="#00bfbf" stroke-width="2.4"/>
<path d="M562.7,474.4 L570.3,482.0 M562.7,482.0 L570.3,474.4" stroke="#00bfbf" stroke-width="2.4"/>
<path d="M568.2,474.4 L575.8,482.0 M568.2,482.0 L575.8,474.4" stroke="#00bfbf" stroke-width="2.4"/>
<path d="M573.7,474.4 L581.3,482.0 M573.7,482.0 L581.3,474.4" stroke="#00bfbf" stroke-width="2.4"/>
<path d="M579.2,474.4 L586.8,482.0 M579.2,482.0 L586.8,474.4" stroke="#00bfbf" stroke-width="2.4"/>
<path d="M584.7,474.4 L592.3,482.0 M584.7,482.0 L592.3,474.4" stroke="#00bfbf" stroke-width="2.4"/>
<path d="M590.2,474.4 L597.8,482.0 M590.2,482.0 L597.8,474.4" stroke="#00bfbf" stroke-width="2.4"/>
<path d="M595.7,474.4 L603.3,482.0 M595.7,482.0 L603.3,474.4" stroke="#00bfbf" stroke-width="2.4"/>
<path d="M601.2,474.4 L608.8,482.0 M601.2,482.0 L608.8,474.4" stroke="#00bfbf" stroke-width="2.4"/>
<path d="M606.7,474.4 L614.3,482.0 M606.7,482.0 L614.3,474.4" stroke="#00bfbf" stroke-width="2.4"/>
<path d="M622.2,483.7 L629.8,491.3 M622.2,491.3 L629.8,483.7" stroke="#00bfbf" stroke-width="2.4"/>
<path d="M627.7,483.7 L635.3,491.3 M627.7,491.3 L635.3,483.7" stroke="#00bfbf" stroke-width="2.4"/>
<path d="M633.2,483.7 L640.8,491.3 M633.2,491.3 L640.8,483.7" stroke="#00bfbf" stroke-width="2.4"/>
<path d="M638.7,483.7 L646.3,491.3 M638.7,491.3 L646.3,483.7" stroke="#00bfbf" stroke-width="2.4"/>
<path d="M644.2,483.7 L651.8,491.3 M644.2,491.3 L651.8,483.7" stroke="#00bfbf" stroke-width="2.4"/>
<path d="M649.7,483.7 L657.3,491.3 M649.7,491.3 L657.3,483.7" stroke="#00bfbf" stroke-width="2.4"/>
<path d="M655.2,483.7 L662.8,491.3 M655.2,491.3 L662.8,483.7" stroke="#00bfbf" stroke-width="2.4"/>
<path d="M660.7,483.7 L668.3,491.3 M660.7,491.3 L668.3,483.7" stroke="#00bfbf" stroke-width="2.4"/>
<path d="M666.2,483.7 L673.8,491.3 M666.2,491.3 L673.8,483.7" stroke="#00bfbf" stroke-width="2.4"/>
<path d="M671.7,483.7 L679.3,491.3 M671.7,491.3 L679.3,483.7" stroke="#00bfbf" stroke-width="2.4"/>
<path d="M677.2,483.7 L684.8,491.3 M677.2,491.3 L684.8,483.7" stroke="#00bfbf" stroke-width="2.4"/>
<path d="M682.7,483.7 L690.3,491.3 M682.7,491.3 L690.3,483.7" stroke="#00bfbf" stroke-width="2.4"/>
<path d="M688.2,483.7 L695.8,491.3 M688.2,491.3 L695.8,483.7" stroke="#00bfbf" stroke-width="2.4"/>
<path d="M693.7,483.7 L701.3,491.3 M693.7,491.3 L701.3,483.7" stroke="#00bfbf" stroke-width="2.4"/>
<path d="M699.2,483.7 L706.8,491.3 M699.2,491.3 L706.8,483.7" stroke="#00bfbf" stroke-width="2.4"/>
<path d="M704.7,483.7 L712.3,491.3 M704.7,491.3 L712.3,483.7" stroke="#00bfbf" stroke-width="2.4"/>
<path d="M710.2,483.7 L717.8,491.3 M710.2,491.3 L717.8,483.7" stroke="#00bfbf" stroke-width="2.4"/>
<path d="M715.7,483.7 L723.3,491.3 M715.7,491.3 L723.3,483.7" stroke="#00bfbf" stroke-width="2.4"/>
<path d="M721.2,483.7 L728.8,491.3 M721.2,491.3 L728.8,483.7" stroke="#00bfbf" stroke-width="2.4"/>
<path d="M726.7,483.7 L734.3,491.3 M726.7,491.3 L734.3,483.7" stroke="#00bfbf" stroke-width="2.4"/>
<path d="M732.2,483.7 L739.8,491.3 M732.2,491.3 L739.8,483.7" stroke="#00bfbf" stroke-width="2.4"/>
<path d="M737.7,483.7 L745.3,491.3 M737.7,491.3 L745.3,483.7" stroke="#00bfbf" stroke-width="2.4"/>
<path d="M743.2,483.7 L750.8,491.3 M743.2,491.3 L750.8,483.7" stroke="#00bfbf" stroke-width="2.4"/>
<path d="M748.7,483.7 L756.3,491.3 M748.7,491.3 L756.3,483.7" stroke="#00bfbf" stroke-width="2.4"/>
<path d="M754.2,483.7 L761.8,491.3 M754.2,491.3 L761.8,483.7" stroke="#00bfbf" stroke-width="2.4"/>
<path d="M759.7,483.7 L767.3,491.3 M759.7,491.3 L767.3,483.7" stroke="#00bfbf" stroke-width="2.4"/>
<path d="M765.2,483.7 L772.8,491.3 M765.2,491.3 L772.8,483.7" stroke="#00bfbf" stroke-width="2.4"/>
<path d="M770.7,483.7 L778.3,491.3 M770.7,491.3 L778.3,483.7" stroke="#00bfbf" stroke-width="2.4"/>
<path d="M776.2,483.7 L783.8,491.3 M776.2,491.3 L783.8,483.7" stroke="#00bfbf" stroke-width="2.4"/>
<path d="M781.7,483.7 L789.3,491.3 M781.7,491.3 L789.3,483.7" stroke="#00bfbf" stroke-width="2.4"/>
<path d="M787.2,483.7 L794.8,491.3 M787.2,491.3 L794.8,483.7" stroke="#00bfbf" stroke-width="2.4"/>
<path d="M792.7,483.7 L800.3,491.3 M792.7,491.3 L800.3,483.7" stroke="#00bfbf" stroke-width="2.4"/>
<path d="M635.9,392.6 L643.5,400.2 M635.9,400.2 L643.5,392.6" stroke="#00bfbf" stroke-width="2.4"/>
<path d="M708.2,418.2 L715.8,425.8 M708.2,425.8 L715.8,418.2" stroke="#00bfbf" stroke-width="2.4"/>
<path d="M691.2,436.2 L698.8,443.8 M691.2,443.8 L698.8,436.2" stroke="#00bfbf" stroke-width="2.4"/>
<path d="M701.2,446.2 L708.8,453.8 M701.2,453.8 L708.8,446.2" stroke="#00bfbf" stroke-width="2.4"/>
<path d="M716.2,451.2 L723.8,458.8 M716.2,458.8 L723.8,451.2" stroke="#00bfbf" stroke-width="2.4"/>
<path d="M726.2,458.2 L733.8,465.8 M726.2,465.8 L733.8,458.2" stroke="#00bfbf" stroke-width="2.4"/>
<path d="M738.2,464.2 L745.8,471.8 M738.2,471.8 L745.8,464.2" stroke="#00bfbf" stroke-width="2.4"/>
<path d="M748.2,468.2 L755.8,475.8 M748.2,475.8 L755.8,468.2" stroke="#00bfbf" stroke-width="2.4"/>
<path d="M756.2,474.2 L763.8,481.8 M756.2,481.8 L763.8,474.2" stroke="#00bfbf" stroke-width="2.4"/>
<path d="M766.2,476.2 L773.8,483.8 M766.2,483.8 L773.8,476.2" stroke="#00bfbf" stroke-width="2.4"/>
<path d="M776.2,478.2 L783.8,485.8 M776.2,485.8 L783.8,478.2" stroke="#00bfbf" stroke-width="2.4"/>
<path d="M641.2,442.2 L648.8,449.8 M641.2,449.8 L648.8,442.2" stroke="#00bfbf" stroke-width="2.4"/>
<path d="M631.2,442.2 L638.8,449.8 M631.2,449.8 L638.8,442.2" stroke="#00bfbf" stroke-width="2.4"/>
<path d="M696.2,432.2 L703.8,439.8 M696.2,439.8 L703.8,432.2" stroke="#00bfbf" stroke-width="2.4"/>
<path d="M722.2,440.2 L729.8,447.8 M722.2,447.8 L729.8,440.2" stroke="#00bfbf" stroke-width="2.4"/>
<path d="M756.2,461.2 L763.8,468.8 M756.2,468.8 L763.8,461.2" stroke="#00bfbf" stroke-width="2.4"/>
<path d="M466.7,465.3 L481.9,461.8 L482.0,458.0 L499.5,454.8 L501.8,450.1 L518.2,450.1 L555.5,449.0 L555.5,443.6 L570.7,445.4 L555.5,479.3 L614.0,479.3 L623.3,478.2 L632.7,487.0 L834.0,487.0" stroke="#ff0000" stroke-width="3.6"/>
<path d="M508.8,458.3 L668.9,458.3 L727.3,480.5 L820.8,487.5" stroke="#0000ff" stroke-width="2.4"/>
<circle cx="508.8" cy="458.3" r="4.2" fill="#0000ff"/>
<circle cx="588.3" cy="458.3" r="4.2" fill="#0000ff"/>
<circle cx="727.3" cy="480.5" r="4.2" fill="#0000ff"/>
<circle cx="820.8" cy="487.5" r="4.2" fill="#0000ff"/>
<circle cx="668.9" cy="458.3" r="3.8" fill="#fff" stroke="#0000ff" stroke-width="1.6"/>
</g>
<path d="M327.5,498.5 L336.7,507.7 M327.5,507.7 L336.7,498.5" stroke="#ff0000" stroke-width="3.2"/>
<rect x="497.5" y="108.5" width="328.5" height="141.5" rx="3" fill="#fff" fill-opacity="0.8" stroke="#d0d0d0" stroke-opacity="0.8" stroke-width="2"/>
<path d="M516.0,118.2 L524.4,126.6 M516.0,126.6 L524.4,118.2" stroke="#00bfbf" stroke-width="2.6"/>
<line x1="503.2" y1="145.4" x2="536.7" y2="145.4" stroke="#007f00" stroke-width="2.6"/>
<line x1="504" y1="167.6" x2="536" y2="167.6" stroke="#0000ff" stroke-width="3.2" stroke-dasharray="3.2 5"/>
<line x1="503.2" y1="190" x2="536.7" y2="190" stroke="#0000ff" stroke-width="2.4"/><circle cx="520.2" cy="190" r="4.2" fill="#0000ff"/>
<path d="M515.6,209.0 L524.8,218.2 M515.6,218.2 L524.8,209.0" stroke="#ff0000" stroke-width="3.2"/>
<line x1="503.2" y1="236" x2="536.7" y2="236" stroke="#ff0000" stroke-width="3.6"/>
<text x="547.3" y="127.3" font-size="15.72" text-anchor="start" >SATCON Locations [0700Z 60 982]</text>
<text x="547.3" y="150.3" font-size="15.72" text-anchor="start" >ADT Tracks [0800Z 74.6 977.5]</text>
<text x="547.3" y="172.5" font-size="15.72" text-anchor="start" >JTWC/NHC Forecast [21/0600Z]</text>
<text x="547.3" y="195.1" font-size="15.72" text-anchor="start" >JTWC/NHC Tracks [21/0600Z]</text>
<text x="547.3" y="217.8" font-size="15.72" text-anchor="start" >MESOSCALE/TARGET Location</text>
<text x="547.3" y="240.6" font-size="15.72" text-anchor="start" >Floater Locater</text>
<text x="231.0" y="851" font-size="13.66" text-anchor="middle" >134°E</text>
<text x="376.7" y="851" font-size="13.66" text-anchor="middle" >136°E</text>
<text x="522.4" y="851" font-size="13.66" text-anchor="middle" >138°E</text>
<text x="668.1" y="851" font-size="13.66" text-anchor="middle" >140°E</text>
<text x="813.8" y="851" font-size="13.66" text-anchor="middle" >142°E</text>
<text x="97" y="244.8" font-size="13.66" text-anchor="end" >10°S</text>
<text x="97" y="390.3" font-size="13.66" text-anchor="end" >12°S</text>
<text x="97" y="535.8" font-size="13.66" text-anchor="end" >14°S</text>
<text x="97" y="681.3" font-size="13.66" text-anchor="end" >16°S</text>
<text x="97" y="826.8" font-size="13.66" text-anchor="end" >18°S</text>
<defs><linearGradient id="gcb" x1="0" y1="0" x2="0" y2="1"><stop offset="0" stop-color="#000"/><stop offset="1" stop-color="#fff"/></linearGradient></defs>
<rect x="839.5" y="101" width="15" height="728.5" fill="url(#gcb)" stroke="#000" stroke-width="1"/>
<text x="861" y="161.7" font-size="16.86" text-anchor="start" >40</text>
<text x="861" y="215.7" font-size="16.86" text-anchor="start" >30</text>
<text x="861" y="269.8" font-size="16.86" text-anchor="start" >20</text>
<text x="861" y="323.8" font-size="16.86" text-anchor="start" >10</text>
<text x="861" y="377.9" font-size="16.86" text-anchor="start" >0</text>
<text x="861" y="431.9" font-size="16.86" text-anchor="start" >−10</text>
<text x="861" y="486.0" font-size="16.86" text-anchor="start" >−20</text>
<text x="861" y="540.0" font-size="16.86" text-anchor="start" >−30</text>
<text x="861" y="594.1" font-size="16.86" text-anchor="start" >−40</text>
<text x="861" y="648.1" font-size="16.86" text-anchor="start" >−50</text>
<text x="861" y="702.2" font-size="16.86" text-anchor="start" >−60</text>
<text x="861" y="756.2" font-size="16.86" text-anchor="start" >−70</text>
<text x="861" y="810.3" font-size="16.86" text-anchor="start" >−80</text>
<text x="848" y="94" font-size="16.86" text-anchor="start" >°C</text>
<rect x="102" y="803.5" width="313" height="27.5" rx="4" fill="#000"/>
<text x="106.2" y="822" font-size="17.48" font-weight="bold" fill="#fff">Copyright © 2020-2026 Dapiya</text>
<defs><clipPath id="trclip"><rect x="981" y="162" width="565" height="666"/></clipPath><filter id="bl10" x="-30%" y="-30%" width="160%" height="160%"><feGaussianBlur stdDeviation="10"/></filter><filter id="ndark" x="0" y="0" width="100%" height="100%"><feTurbulence type="fractalNoise" baseFrequency="0.02 0.06" numOctaves="3" seed="4"/><feColorMatrix type="matrix" values="0 0 0 0 0.66  0 0 0 0 0.22  0 0 0 0 0.02  3.0 0 0 0 -1.35"/></filter><filter id="nlight" x="0" y="0" width="100%" height="100%"><feTurbulence type="fractalNoise" baseFrequency="0.018 0.055" numOctaves="3" seed="11"/><feColorMatrix type="matrix" values="0 0 0 0 1  0 0 0 0 0.76  0 0 0 0 0.3  3.0 0 0 0 -1.45"/></filter></defs>
<rect x="979.5" y="101.5" width="728" height="728" fill="#fff"/>
<g clip-path="url(#trclip)">
<rect x="981" y="162" width="565" height="666" fill="#f2861a"/>
<g filter="url(#bl6)">
<ellipse cx="1090" cy="195" rx="80" ry="22" transform="rotate(12 1090 195)" fill="#ffa838"/>
<ellipse cx="1515" cy="220" rx="35" ry="70" transform="rotate(0 1515 220)" fill="#ffd060"/>
<ellipse cx="1200" cy="215" rx="55" ry="25" transform="rotate(20 1200 215)" fill="#ffa236"/>
<ellipse cx="1000" cy="300" rx="25" ry="40" transform="rotate(0 1000 300)" fill="#d86a0e"/>
<ellipse cx="1120" cy="352" rx="90" ry="22" transform="rotate(10 1120 352)" fill="#d2620c"/>
<ellipse cx="1240" cy="420" rx="40" ry="18" transform="rotate(0 1240 420)" fill="#c8560a"/>
<ellipse cx="1010" cy="500" rx="28" ry="45" transform="rotate(0 1010 500)" fill="#ffbc4c"/>
<ellipse cx="1350" cy="325" rx="40" ry="15" transform="rotate(25 1350 325)" fill="#ffae3e"/>
<ellipse cx="1180" cy="300" rx="40" ry="40" transform="rotate(0 1180 300)" fill="#e87a16"/>
<ellipse cx="1470" cy="300" rx="75" ry="55" transform="rotate(0 1470 300)" fill="#b84210"/>
<ellipse cx="1330" cy="255" rx="15" ry="25" transform="rotate(20 1330 255)" fill="#c85008"/>
<ellipse cx="1410" cy="260" rx="25" ry="40" transform="rotate(-10 1410 260)" fill="#c04a0c"/>
<ellipse cx="1150" cy="440" rx="30" ry="20" transform="rotate(0 1150 440)" fill="#c85a10"/>
<ellipse cx="1190" cy="342" rx="95" ry="28" transform="rotate(8 1190 342)" fill="#c85410"/>
<ellipse cx="1240" cy="300" rx="40" ry="20" transform="rotate(20 1240 300)" fill="#d05c10"/>
<ellipse cx="1218" cy="525" rx="28" ry="60" transform="rotate(0 1218 525)" fill="#c85a10"/>
<ellipse cx="1255" cy="455" rx="28" ry="40" transform="rotate(0 1255 455)" fill="#9a1a02"/>
<ellipse cx="1262" cy="515" rx="20" ry="28" transform="rotate(0 1262 515)" fill="#a02404"/>
<ellipse cx="1000" cy="368" rx="22" ry="45" transform="rotate(0 1000 368)" fill="#ffbe48"/>
<ellipse cx="1060" cy="420" rx="40" ry="18" transform="rotate(-20 1060 420)" fill="#e07414"/>
<ellipse cx="1290" cy="190" rx="30" ry="25" transform="rotate(0 1290 190)" fill="#d4640c"/>
</g>
<g transform="rotate(30 1260 450)"><rect x="760" y="-150" width="1000" height="1200" filter="url(#ndark)" opacity="0.85"/></g>
<g transform="rotate(30 1260 450)"><rect x="760" y="-150" width="1000" height="1200" filter="url(#nlight)" opacity="0.45"/></g>
<path d="M1098.0,468.0 C1102.3,462.7 1112.2,460.2 1120.0,458.0 C1127.8,455.8 1136.3,452.7 1145.0,455.0 C1153.7,457.3 1164.5,464.5 1172.0,472.0 C1179.5,479.5 1186.3,488.7 1190.0,500.0 C1193.7,511.3 1193.0,527.5 1194.0,540.0 C1195.0,552.5 1196.3,564.2 1196.0,575.0 C1195.7,585.8 1196.3,597.8 1192.0,605.0 C1187.7,612.2 1178.7,616.3 1170.0,618.0 C1161.3,619.7 1149.2,617.2 1140.0,615.0 C1130.8,612.8 1121.3,610.0 1115.0,605.0 C1108.7,600.0 1105.2,593.3 1102.0,585.0 C1098.8,576.7 1097.3,565.8 1096.0,555.0 C1094.7,544.2 1094.3,530.8 1094.0,520.0 C1093.7,509.2 1093.3,498.7 1094.0,490.0 C1094.7,481.3 1093.7,473.3 1098.0,468.0Z" fill="#b03a08" stroke="#c8500c" stroke-width="16" filter="url(#bl6)"/>
<path d="M1130.0,612.0 C1135.7,608.7 1150.8,608.7 1160.0,615.0 C1169.2,621.3 1176.7,639.2 1185.0,650.0 C1193.3,660.8 1202.2,671.7 1210.0,680.0 C1217.8,688.3 1227.3,692.5 1232.0,700.0 C1236.7,707.5 1239.7,718.7 1238.0,725.0 C1236.3,731.3 1228.3,738.5 1222.0,738.0 C1215.7,737.5 1208.7,727.5 1200.0,722.0 C1191.3,716.5 1179.2,710.3 1170.0,705.0 C1160.8,699.7 1151.7,696.7 1145.0,690.0 C1138.3,683.3 1133.2,674.2 1130.0,665.0 C1126.8,655.8 1126.0,643.8 1126.0,635.0 C1126.0,626.2 1124.3,615.3 1130.0,612.0Z" fill="#d2600e" filter="url(#bl6)"/>
<path d="M981.0,454.0 L1003.0,460.0 L1025.0,467.0 L1043.0,501.0 L1059.0,535.0 L1074.0,569.0 L1086.0,591.0 L1097.0,614.0 L1101.0,647.0 L1106.0,670.0 L1137.0,688.0 L1160.0,699.0 L1194.0,710.0 L1205.0,726.0 L1218.0,742.0 L1234.0,726.0 L1239.0,704.0 L1272.0,699.0 L1300.0,692.0 L1340.0,684.0 L1378.0,680.0 L1420.0,678.0 L1460.0,675.0 L1500.0,668.0 L1546.0,660.0 L1546.0,829.0 L981.0,829.0Z" fill="#ffd260" stroke="#ffc24c" stroke-width="34" filter="url(#bl6)"/>
<path d="M981.0,454.0 L1003.0,460.0 L1025.0,467.0 L1043.0,501.0 L1059.0,535.0 L1074.0,569.0 L1086.0,591.0 L1097.0,614.0 L1101.0,647.0 L1106.0,670.0 L1137.0,688.0 L1160.0,699.0 L1194.0,710.0 L1205.0,726.0 L1218.0,742.0 L1234.0,726.0 L1239.0,704.0 L1272.0,699.0 L1300.0,692.0 L1340.0,684.0 L1378.0,680.0 L1420.0,678.0 L1460.0,675.0 L1500.0,668.0 L1546.0,660.0 L1546.0,829.0 L981.0,829.0Z" fill="#7ef07e" filter="url(#bl3)"/>
<path d="M981.0,615.0 C987.5,581.8 1006.8,622.5 1020.0,630.0 C1033.2,637.5 1048.0,648.3 1060.0,660.0 C1072.0,671.7 1082.0,688.7 1092.0,700.0 C1102.0,711.3 1108.7,720.0 1120.0,728.0 C1131.3,736.0 1146.7,742.0 1160.0,748.0 C1173.3,754.0 1185.0,756.7 1200.0,764.0 C1215.0,771.3 1235.8,781.2 1250.0,792.0 C1264.2,802.8 1329.8,822.8 1285.0,829.0 C1240.2,835.2 1031.7,864.7 981.0,829.0 C930.3,793.3 974.5,648.2 981.0,615.0Z" fill="#6ae8d6" filter="url(#bl10)"/>
<g filter="url(#bl6)">
<ellipse cx="1045" cy="765" rx="60" ry="42" fill="#5cc4f8"/>
<ellipse cx="1170" cy="802" rx="70" ry="22" fill="#5cc4f8"/>
<ellipse cx="1000" cy="815" rx="20" ry="15" fill="#4aa8f0"/>
<ellipse cx="1005" cy="775" rx="22" ry="14" fill="#ffa838"/>
<ellipse cx="1281" cy="733" rx="12" ry="5" fill="#ff9a30"/>
<ellipse cx="1264" cy="775" rx="13" ry="7" fill="#ff9030"/>
<ellipse cx="1505" cy="805" rx="40" ry="14" fill="#ee8020"/>
<ellipse cx="1398" cy="752" rx="45" ry="12" fill="#e8f070"/>
<ellipse cx="1050" cy="625" rx="30" ry="12" fill="#a8f070"/>
<ellipse cx="1330" cy="745" rx="30" ry="8" fill="#c8f070"/>
<ellipse cx="1180" cy="735" rx="18" ry="6" fill="#f8e060"/>
<ellipse cx="1230" cy="810" rx="12" ry="5" fill="#ffb040"/>
</g>
<path d="M1320.0,380.0 C1327.0,374.2 1338.0,368.7 1350.0,365.0 C1362.0,361.3 1378.7,358.8 1392.0,358.0 C1405.3,357.2 1417.0,358.7 1430.0,360.0 C1443.0,361.3 1456.7,364.3 1470.0,366.0 C1483.3,367.7 1497.3,368.5 1510.0,370.0 C1522.7,371.5 1540.0,346.7 1546.0,375.0 C1552.0,403.3 1548.7,508.8 1546.0,540.0 C1543.3,571.2 1537.7,554.5 1530.0,562.0 C1522.3,569.5 1511.7,578.2 1500.0,585.0 C1488.3,591.8 1473.3,598.8 1460.0,603.0 C1446.7,607.2 1433.3,609.7 1420.0,610.0 C1406.7,610.3 1393.3,608.0 1380.0,605.0 C1366.7,602.0 1351.7,597.0 1340.0,592.0 C1328.3,587.0 1318.3,581.5 1310.0,575.0 C1301.7,568.5 1296.3,560.0 1290.0,553.0 C1283.7,546.0 1277.3,540.2 1272.0,533.0 C1266.7,525.8 1261.7,518.0 1258.0,510.0 C1254.3,502.0 1250.3,493.0 1250.0,485.0 C1249.7,477.0 1251.3,469.2 1256.0,462.0 C1260.7,454.8 1271.0,448.7 1278.0,442.0 C1285.0,435.3 1293.0,429.0 1298.0,422.0 C1303.0,415.0 1304.3,407.0 1308.0,400.0 C1311.7,393.0 1313.0,385.8 1320.0,380.0Z" fill="none" stroke="#e06a10" stroke-width="60" stroke-opacity="0.9" filter="url(#bl10)"/>
<path d="M1320.0,380.0 C1327.0,374.2 1338.0,368.7 1350.0,365.0 C1362.0,361.3 1378.7,358.8 1392.0,358.0 C1405.3,357.2 1417.0,358.7 1430.0,360.0 C1443.0,361.3 1456.7,364.3 1470.0,366.0 C1483.3,367.7 1497.3,368.5 1510.0,370.0 C1522.7,371.5 1540.0,346.7 1546.0,375.0 C1552.0,403.3 1548.7,508.8 1546.0,540.0 C1543.3,571.2 1537.7,554.5 1530.0,562.0 C1522.3,569.5 1511.7,578.2 1500.0,585.0 C1488.3,591.8 1473.3,598.8 1460.0,603.0 C1446.7,607.2 1433.3,609.7 1420.0,610.0 C1406.7,610.3 1393.3,608.0 1380.0,605.0 C1366.7,602.0 1351.7,597.0 1340.0,592.0 C1328.3,587.0 1318.3,581.5 1310.0,575.0 C1301.7,568.5 1296.3,560.0 1290.0,553.0 C1283.7,546.0 1277.3,540.2 1272.0,533.0 C1266.7,525.8 1261.7,518.0 1258.0,510.0 C1254.3,502.0 1250.3,493.0 1250.0,485.0 C1249.7,477.0 1251.3,469.2 1256.0,462.0 C1260.7,454.8 1271.0,448.7 1278.0,442.0 C1285.0,435.3 1293.0,429.0 1298.0,422.0 C1303.0,415.0 1304.3,407.0 1308.0,400.0 C1311.7,393.0 1313.0,385.8 1320.0,380.0Z" fill="#8a0a00" stroke="#a82a04" stroke-width="22" filter="url(#bl6)"/>
<path d="M1320.0,380.0 C1327.0,374.2 1338.0,368.7 1350.0,365.0 C1362.0,361.3 1378.7,358.8 1392.0,358.0 C1405.3,357.2 1417.0,358.7 1430.0,360.0 C1443.0,361.3 1456.7,364.3 1470.0,366.0 C1483.3,367.7 1497.3,368.5 1510.0,370.0 C1522.7,371.5 1540.0,346.7 1546.0,375.0 C1552.0,403.3 1548.7,508.8 1546.0,540.0 C1543.3,571.2 1537.7,554.5 1530.0,562.0 C1522.3,569.5 1511.7,578.2 1500.0,585.0 C1488.3,591.8 1473.3,598.8 1460.0,603.0 C1446.7,607.2 1433.3,609.7 1420.0,610.0 C1406.7,610.3 1393.3,608.0 1380.0,605.0 C1366.7,602.0 1351.7,597.0 1340.0,592.0 C1328.3,587.0 1318.3,581.5 1310.0,575.0 C1301.7,568.5 1296.3,560.0 1290.0,553.0 C1283.7,546.0 1277.3,540.2 1272.0,533.0 C1266.7,525.8 1261.7,518.0 1258.0,510.0 C1254.3,502.0 1250.3,493.0 1250.0,485.0 C1249.7,477.0 1251.3,469.2 1256.0,462.0 C1260.7,454.8 1271.0,448.7 1278.0,442.0 C1285.0,435.3 1293.0,429.0 1298.0,422.0 C1303.0,415.0 1304.3,407.0 1308.0,400.0 C1311.7,393.0 1313.0,385.8 1320.0,380.0Z" fill="#800000" filter="url(#bl3)"/>
<g filter="url(#bl3)">
<path d="M1113.0,481.0 C1118.2,476.2 1129.2,469.8 1137.0,472.0 C1144.8,474.2 1153.2,488.0 1160.0,494.0 C1166.8,500.0 1174.7,501.2 1178.0,508.0 C1181.3,514.8 1179.3,526.0 1180.0,535.0 C1180.7,544.0 1180.5,554.5 1182.0,562.0 C1183.5,569.5 1190.8,574.0 1189.0,580.0 C1187.2,586.0 1179.7,595.3 1171.0,598.0 C1162.3,600.7 1146.3,597.2 1137.0,596.0 C1127.7,594.8 1120.2,595.2 1115.0,591.0 C1109.8,586.8 1106.3,578.5 1106.0,571.0 C1105.7,563.5 1112.3,553.5 1113.0,546.0 C1113.7,538.5 1111.2,533.5 1110.0,526.0 C1108.8,518.5 1105.5,508.5 1106.0,501.0 C1106.5,493.5 1107.8,485.8 1113.0,481.0Z" fill="#820200"/>
<ellipse cx="1148" cy="628" rx="12" ry="10" fill="#9a1400"/>
<ellipse cx="1151" cy="662" rx="10" ry="8" fill="#880400"/>
<ellipse cx="1152" cy="682" rx="8" ry="6" fill="#901000"/>
<ellipse cx="1190" cy="686" rx="14" ry="12" fill="#981200"/>
<ellipse cx="1220" cy="716" rx="12" ry="9" fill="#860200"/>
<ellipse cx="1085" cy="520" rx="14" ry="20" fill="#a02600"/>
<rect x="981" y="428" width="44" height="25" fill="#800000"/>
</g>
<path d="M981.3,345.1 L985.1,346.2 L988.3,346.7 L989.8,346.1 L995.5,347.1 L998.7,346.3 L1000.6,347.0 L1003.9,348.3 L1005.5,347.7 L1009.2,349.9 L1013.5,348.3 L1016.0,345.9 L1017.9,343.4 L1018.7,343.0 L1022.2,338.7 L1027.3,337.9 L1027.8,340.1 L1030.8,341.4 L1032.2,344.1 L1036.6,347.3 L1040.3,348.7 L1040.8,350.9 L1042.2,353.3 L1044.5,357.3 L1045.6,359.9 L1048.4,361.4 L1051.5,364.2 L1053.3,364.9 L1057.4,364.4 L1061.2,365.0 L1063.6,369.0 L1064.7,370.7 L1069.4,371.2 L1072.1,370.7 L1075.9,371.1 L1079.2,368.7 L1085.4,368.2 L1088.1,365.8 L1092.4,366.9 L1095.1,366.8 L1100.7,367.1 L1096.8,371.2 L1095.0,373.4 L1100.2,375.5 L1103.3,376.2 L1107.6,375.2 L1109.8,376.8 L1112.1,378.6 L1116.5,382.7 L1117.9,382.1 L1122.0,387.1 L1122.4,390.1 L1124.7,387.9 L1126.3,383.1 L1128.1,385.3 L1130.9,385.1 L1135.9,385.0 L1139.0,388.1 L1142.2,388.7 L1144.3,388.7 L1147.7,387.8 L1151.5,384.9 L1156.1,384.7 L1158.8,382.5 L1160.4,382.0 L1162.7,382.7 L1164.9,384.2 L1167.2,388.3 L1171.1,389.2 L1172.7,390.4 L1174.5,392.1 L1178.8,396.2 L1180.2,398.5 L1183.8,400.8 L1186.7,402.5 L1189.1,404.0 L1192.0,405.0 L1196.4,404.6 L1198.3,404.3 L1202.4,402.4 L1203.6,400.4 L1207.1,398.8 L1210.5,397.3 L1213.8,395.4 L1215.8,392.4 L1219.7,390.4 L1221.5,387.9 L1225.4,385.7 L1228.2,384.7 L1229.5,381.8 L1231.1,380.9 L1236.1,378.4 L1238.4,377.5 L1241.4,374.5 L1244.5,374.0 L1245.9,376.9 L1247.4,381.1 L1249.0,384.2 L1249.1,386.0 L1253.2,386.9 L1255.7,386.5 L1259.9,384.4 L1262.5,384.4 L1264.5,383.7 L1268.8,384.2 L1272.1,384.1 L1276.3,385.4 L1280.3,386.2 L1282.3,386.2 L1284.7,384.0 L1288.3,383.1 L1290.9,383.4 L1292.3,384.2 L1293.7,387.3 L1294.2,390.9 L1296.5,394.7 L1299.3,395.4 L1301.5,398.2 L1302.6,399.1 L1306.0,398.7 L1309.9,398.4 L1311.9,395.3 L1314.4,397.5 L1314.1,402.0 L1317.2,403.9 L1319.0,409.0 L1320.1,410.8 L1317.5,412.6 L1317.2,415.0 L1315.0,418.6 L1311.8,419.1 L1310.7,421.9 L1307.7,424.4 L1307.7,427.7 L1304.4,430.6 L1301.9,433.9 L1300.5,436.0 L1299.2,440.2 L1295.6,442.2 L1294.6,446.0 L1294.3,447.0 L1291.3,449.5 L1294.6,453.5 L1295.1,457.6 L1296.7,461.6 L1294.3,462.5 L1291.7,465.2 L1288.5,467.5 L1285.3,470.2 L1283.1,471.9 L1281.6,474.7 L1277.6,476.0 L1276.5,479.9 L1274.5,477.2 L1269.2,476.0 L1267.2,473.8 L1264.9,472.2 L1261.3,471.2 L1258.4,471.6 L1257.0,472.8 L1252.9,476.2 L1249.7,477.9 L1248.7,478.6 L1246.0,482.8 L1246.0,484.5 L1243.2,488.8 L1241.6,491.6 L1242.3,495.5 L1245.7,497.4 L1245.8,502.7 L1249.0,505.5 L1249.1,509.0 L1253.7,513.0 L1252.6,513.6 L1252.5,517.1 L1251.6,522.1 L1251.3,523.0 L1249.8,528.1 L1248.1,530.3 L1247.5,532.2 L1246.7,535.0 L1244.1,538.9 L1242.7,541.1 L1241.8,545.6 L1240.4,546.6 L1237.0,549.7 L1235.3,552.8 L1233.9,555.1 L1229.5,558.6 L1227.5,561.0 L1226.3,564.4 L1224.2,566.3 L1221.3,568.7 L1219.1,571.4 L1217.6,572.0 L1214.7,574.8 L1213.8,576.5 L1211.5,579.9 L1207.7,582.1 L1209.2,584.4 L1211.9,588.3 L1214.1,592.5 L1215.2,595.6 L1217.0,597.6 L1219.6,598.3 L1224.5,601.9 L1225.2,602.6 L1229.7,606.2 L1231.5,607.0 L1233.2,609.8 L1234.4,611.9 L1237.5,614.1 L1239.1,615.8 L1242.5,619.3 L1244.6,620.9 L1247.3,623.3 L1249.3,625.7 L1252.3,627.4 L1253.2,628.6 L1256.1,630.8 L1260.5,634.2 L1262.7,635.1 L1264.5,639.6 L1267.4,640.6 L1269.6,642.0 L1271.3,644.3 L1274.4,646.7 L1278.3,647.9 L1279.2,650.1 L1281.5,651.9 L1284.3,654.2 L1286.3,657.2 L1289.7,659.1 L1293.1,660.2 L1295.1,662.7 L1296.8,663.8 L1299.8,665.6 L1303.5,666.1 L1305.0,666.9 L1308.0,668.1 L1311.4,671.5 L1314.2,670.9 L1317.4,671.9 L1321.0,674.2 L1322.3,674.2 L1326.5,677.3 L1329.2,677.2 L1332.9,677.3 L1333.3,680.6 L1337.1,680.0 L1340.2,683.7 L1343.1,683.5 L1344.9,684.2 L1349.9,686.7 L1352.9,687.0 L1354.0,688.5 L1357.3,690.0 L1359.9,692.3 L1362.9,692.9 L1365.1,696.7 L1368.4,697.0 L1371.9,698.5 L1374.0,699.4 L1376.7,702.0 L1381.5,704.2 L1384.0,705.2 L1384.5,708.0 L1388.3,710.1 L1390.7,712.3 L1394.3,715.1 L1395.8,715.9 L1399.8,717.3 L1401.0,718.8 L1403.9,721.3 L1408.8,721.4 L1410.0,722.1 L1413.3,723.3 L1416.8,725.9 L1419.3,725.9 L1423.4,726.8 L1424.9,728.4 L1428.2,729.0 L1431.2,730.5 L1434.9,732.1 L1438.2,733.4 L1440.7,734.2 L1442.7,736.0 L1446.1,737.5 L1449.2,738.0 L1450.8,739.4 L1454.0,738.8 L1456.0,740.0 L1459.4,742.5 L1462.3,742.0 L1466.4,744.4 L1467.3,744.3 L1470.5,746.2 L1475.2,748.9 L1477.4,748.2 L1479.8,749.6 L1480.6,751.7 L1482.2,756.8 L1483.6,757.9 L1484.1,761.1 L1484.8,765.1 L1485.6,769.3 L1483.8,771.3 L1486.1,774.9 L1487.8,776.4 L1491.7,779.3 L1494.1,781.0 L1497.2,780.4 L1500.8,782.8 L1501.8,785.4 L1504.8,785.5 L1509.0,787.4 L1511.7,786.8 L1514.4,787.9 L1518.2,789.5 L1521.7,790.3 L1523.7,790.8 L1528.5,792.9 L1531.3,792.8 L1533.2,792.1 L1537.5,793.5 L1538.5,793.1 L1541.8,795.1 L1546.0,795.0" fill="none" stroke="#fff" stroke-width="1.8" stroke-linejoin="round"/>
<path d="M980.9,324.7 L982.9,323.7 L985.2,321.0 L989.6,318.2 L991.5,317.2 L993.1,314.8 L997.4,312.9 L1000.5,310.3 L1002.5,308.2 L1003.8,313.1 L1004.7,316.0 L1005.0,319.2 L1005.2,321.6 L1006.1,325.5 L1005.3,327.2 L1004.8,330.4 L1004.6,334.6 L1002.4,338.1 L1001.8,339.8 L999.0,344.0" fill="none" stroke="#fff" stroke-width="1.8" stroke-linejoin="round"/>
<path d="M998.9,359.7 L1001.3,360.7 L1004.0,360.0 L1008.8,359.2 L1011.1,360.2 L1007.7,361.8 L1006.7,363.9 L1004.5,365.3 L1003.8,368.4 L1004.7,373.2 L1005.2,376.0 L1005.1,379.2 L1004.9,381.4 L1006.3,385.5 L1008.1,386.7 L1010.0,389.4 L1012.3,393.1 L1014.4,395.8 L1012.8,395.1 L1008.8,397.0 L1005.0,397.8 L1003.8,398.2 L1000.2,399.2 L997.2,401.8 L993.4,401.0 L991.8,405.4 L990.4,407.8 L990.0,412.0" fill="none" stroke="#fff" stroke-width="1.8" stroke-linejoin="round"/>
<path d="M1226.6,398.1 L1229.1,397.0 L1231.9,394.1 L1236.8,391.2 L1238.5,390.1 L1239.9,387.4 L1243.6,385.4 L1245.6,383.3" fill="none" stroke="#fff" stroke-width="1.8" stroke-linejoin="round"/>
<path d="M1276.6,511.7 L1291.9,505.1 L1300.7,511.7 L1307.2,505.1 L1318.2,513.8 L1313.8,522.6 L1307.2,531.4 L1316.0,540.1 L1322.6,544.5 L1318.2,551.0 L1300.7,548.9 L1287.5,546.7 L1276.6,546.7 L1281.0,535.7 L1281.0,522.6Z" fill="none" stroke="#fff" stroke-width="1.8" stroke-linejoin="round"/>
<path d="M1480.9,730.2 L1485.9,716.9 L1497.6,710.2 L1512.6,705.2 L1522.6,710.2 L1524.3,715.2 L1516.0,713.5 L1505.9,716.9 L1500.9,723.5 L1492.6,728.5 L1482.6,731.9Z" fill="none" stroke="#fff" stroke-width="1.8" stroke-linejoin="round"/>
<path d="M1501.0,756.0 L1505.0,748.0 L1511.0,747.0 L1513.0,755.0 L1507.0,758.0Z" fill="none" stroke="#fff" stroke-width="1.8" stroke-linejoin="round"/>
<path d="M1477.0,737.0 L1481.0,735.0 L1482.0,739.0 L1478.0,740.0Z" fill="none" stroke="#fff" stroke-width="1.8" stroke-linejoin="round"/>
<path d="M1264.0,362.0 L1280.0,345.0 L1296.0,328.0 L1309.0,313.0 L1304.0,322.0 L1290.0,340.0 L1272.0,358.0Z" fill="none" stroke="#fff" stroke-width="1.8" stroke-linejoin="round"/>
<path d="M1045.0,360.0 L1050.0,354.0 L1056.0,358.0 L1050.0,364.0Z" fill="none" stroke="#fff" stroke-width="1.8" stroke-linejoin="round"/>
<path d="M1290.0,645.0 L1296.0,641.0 L1298.0,648.0 L1292.0,652.0Z" fill="none" stroke="#fff" stroke-width="1.8" stroke-linejoin="round"/>
<path d="M1305.0,652.0 L1312.0,648.0 L1314.0,656.0 L1308.0,660.0Z" fill="none" stroke="#fff" stroke-width="1.8" stroke-linejoin="round"/>
<path d="M1320.0,642.0 L1326.0,646.0 L1330.0,656.0 L1326.0,666.0 L1320.0,660.0 L1318.0,650.0Z" fill="none" stroke="#fff" stroke-width="1.8" stroke-linejoin="round"/>
</g>
<rect x="979.5" y="101.5" width="728" height="728" fill="none" stroke="#000" stroke-width="3"/>
<line x1="1106.5" y1="162" x2="1106.5" y2="828" stroke="#fff" stroke-width="2" stroke-dasharray="2 3.6"/>
<line x1="1252.2" y1="162" x2="1252.2" y2="828" stroke="#fff" stroke-width="2" stroke-dasharray="2 3.6"/>
<line x1="1397.9" y1="162" x2="1397.9" y2="828" stroke="#fff" stroke-width="2" stroke-dasharray="2 3.6"/>
<line x1="1543.6" y1="162" x2="1543.6" y2="828" stroke="#fff" stroke-width="2" stroke-dasharray="2 3.6"/>
<line x1="981" y1="240.0" x2="1546" y2="240.0" stroke="#fff" stroke-width="2" stroke-dasharray="2 3.6"/>
<line x1="981" y1="385.5" x2="1546" y2="385.5" stroke="#fff" stroke-width="2" stroke-dasharray="2 3.6"/>
<line x1="981" y1="531.0" x2="1546" y2="531.0" stroke="#fff" stroke-width="2" stroke-dasharray="2 3.6"/>
<line x1="981" y1="676.5" x2="1546" y2="676.5" stroke="#fff" stroke-width="2" stroke-dasharray="2 3.6"/>
<line x1="981" y1="822.0" x2="1546" y2="822.0" stroke="#fff" stroke-width="2" stroke-dasharray="2 3.6"/>
<text x="1106.5" y="851" font-size="13.9" text-anchor="middle" >134°E</text>
<text x="1252.2" y="851" font-size="13.9" text-anchor="middle" >136°E</text>
<text x="1397.9" y="851" font-size="13.9" text-anchor="middle" >138°E</text>
<text x="1543.6" y="851" font-size="13.9" text-anchor="middle" >140°E</text>
<text x="1689.3" y="851" font-size="13.9" text-anchor="middle" >142°E</text>
<text x="971" y="245.0" font-size="13.9" text-anchor="end" >10°S</text>
<text x="971" y="390.5" font-size="13.9" text-anchor="end" >12°S</text>
<text x="971" y="536.0" font-size="13.9" text-anchor="end" >14°S</text>
<text x="971" y="681.5" font-size="13.9" text-anchor="end" >16°S</text>
<text x="971" y="827.0" font-size="13.9" text-anchor="end" >18°S</text>
<defs><linearGradient id="jcb" x1="0" y1="1" x2="0" y2="0"><stop offset="0.0000" stop-color="#800000"/><stop offset="0.2000" stop-color="#800000"/><stop offset="0.2400" stop-color="#a02800"/><stop offset="0.3067" stop-color="#ff8010"/><stop offset="0.3533" stop-color="#ffc050"/><stop offset="0.3867" stop-color="#f8f070"/><stop offset="0.4333" stop-color="#70e870"/><stop offset="0.4867" stop-color="#70f0f8"/><stop offset="0.5367" stop-color="#40b0f8"/><stop offset="0.5800" stop-color="#1078f0"/><stop offset="0.6200" stop-color="#3c4aa8"/><stop offset="0.6667" stop-color="#5c1a70"/><stop offset="0.6667" stop-color="#ffffff"/><stop offset="1.0000" stop-color="#ffffff"/></linearGradient></defs>
<rect x="1714.5" y="100.5" width="15" height="729" fill="url(#jcb)" stroke="#000" stroke-width="1"/>
<text x="1736" y="156.0" font-size="16.67" text-anchor="start" >40</text>
<text x="1736" y="204.5" font-size="16.67" text-anchor="start" >30</text>
<text x="1736" y="253.0" font-size="16.67" text-anchor="start" >20</text>
<text x="1736" y="301.5" font-size="16.67" text-anchor="start" >10</text>
<text x="1736" y="350.0" font-size="16.67" text-anchor="start" >0</text>
<text x="1736" y="398.5" font-size="16.67" text-anchor="start" >−10</text>
<text x="1736" y="447.0" font-size="16.67" text-anchor="start" >−20</text>
<text x="1736" y="495.5" font-size="16.67" text-anchor="start" >−30</text>
<text x="1736" y="544.0" font-size="16.67" text-anchor="start" >−40</text>
<text x="1736" y="592.5" font-size="16.67" text-anchor="start" >−50</text>
<text x="1736" y="641.0" font-size="16.67" text-anchor="start" >−60</text>
<text x="1736" y="689.5" font-size="16.67" text-anchor="start" >−70</text>
<text x="1736" y="738.0" font-size="16.67" text-anchor="start" >−80</text>
<text x="1736" y="786.5" font-size="16.67" text-anchor="start" >−90</text>
<text x="1723" y="93" font-size="16.67" text-anchor="start" >°C</text>
<text x="479" y="882.6" font-size="22.65" text-anchor="middle" >Wind / Pres. / ACE Diagnosis</text>
<g fill="none" stroke-linejoin="round">
<path d="M135.6,1260.5 L150.1,1260.5 L164.7,1260.5 L179.2,1260.5 L193.8,1245.7 L208.3,1245.7 L222.8,1230.9 L237.4,1230.9 L251.9,1230.9 L295.5,1142.3 L339.2,1098.0 L382.8,1009.3 L411.9,920.7 L440.9,950.2 L484.6,1083.2 L499.1,1098.0 L528.2,1068.4" stroke="#0000ff" stroke-width="4.2"/>
<path d="M529.2,1068.8 L558.8,1098.3 L587.0,1156.9 L613.0,1199.0 L623.9,1201.6 L639.0,1201.6 L658.6,1186.9 L688.1,1186.9 L717.2,1141.7 L745.4,1141.7 L774.9,1068.0 L804.0,1068.0 L819.2,1026.7" stroke="#0000ff" stroke-width="4.2" stroke-dasharray="4.2 6.9"/>
</g>
<rect x="104.5" y="903.5" width="750" height="750" fill="none" stroke="#000" stroke-width="3"/>
<line x1="104.5" y1="1278.5" x2="854.5" y2="1278.5" stroke="#000" stroke-width="3"/>
<line x1="92.5" y1="1245.7" x2="104" y2="1245.7" stroke="#000" stroke-width="2"/>
<text x="79" y="1250.3" font-size="13.71" text-anchor="end" >20</text>
<line x1="92.5" y1="1186.6" x2="104" y2="1186.6" stroke="#000" stroke-width="2"/>
<text x="79" y="1191.2" font-size="13.71" text-anchor="end" >40</text>
<line x1="92.5" y1="1127.5" x2="104" y2="1127.5" stroke="#000" stroke-width="2"/>
<text x="79" y="1132.1" font-size="13.71" text-anchor="end" >60</text>
<line x1="92.5" y1="1068.4" x2="104" y2="1068.4" stroke="#000" stroke-width="2"/>
<text x="79" y="1073.0" font-size="13.71" text-anchor="end" >80</text>
<line x1="92.5" y1="1009.3" x2="104" y2="1009.3" stroke="#000" stroke-width="2"/>
<text x="79" y="1013.9000000000001" font-size="13.71" text-anchor="end" >100</text>
<line x1="92.5" y1="950.2" x2="104" y2="950.2" stroke="#000" stroke-width="2"/>
<text x="79" y="954.8000000000001" font-size="13.71" text-anchor="end" >120</text>
<line x1="855" y1="1252.4" x2="866.4" y2="1252.4" stroke="#000" stroke-width="2"/>
<text x="879" y="1257.0" font-size="12.8" text-anchor="start" >930</text>
<line x1="855" y1="1210.4" x2="866.4" y2="1210.4" stroke="#000" stroke-width="2"/>
<text x="879" y="1215.0" font-size="12.8" text-anchor="start" >940</text>
<line x1="855" y1="1168.4" x2="866.4" y2="1168.4" stroke="#000" stroke-width="2"/>
<text x="879" y="1173.0" font-size="12.8" text-anchor="start" >950</text>
<line x1="855" y1="1126.4" x2="866.4" y2="1126.4" stroke="#000" stroke-width="2"/>
<text x="879" y="1131.0" font-size="12.8" text-anchor="start" >960</text>
<line x1="855" y1="1084.4" x2="866.4" y2="1084.4" stroke="#000" stroke-width="2"/>
<text x="879" y="1089.0" font-size="12.8" text-anchor="start" >970</text>
<line x1="855" y1="1042.4" x2="866.4" y2="1042.4" stroke="#000" stroke-width="2"/>
<text x="879" y="1047.0" font-size="12.8" text-anchor="start" >980</text>
<line x1="855" y1="1000.4" x2="866.4" y2="1000.4" stroke="#000" stroke-width="2"/>
<text x="879" y="1005.0" font-size="12.8" text-anchor="start" >990</text>
<line x1="855" y1="958.4" x2="866.4" y2="958.4" stroke="#000" stroke-width="2"/>
<text x="879" y="963.0" font-size="12.8" text-anchor="start" >1000</text>
<line x1="855" y1="916.4" x2="866.4" y2="916.4" stroke="#000" stroke-width="2"/>
<text x="879" y="921.0" font-size="12.8" text-anchor="start" >1010</text>
<text x="0" y="0" font-size="13.71" text-anchor="middle" transform="translate(35,1090) rotate(-90)">Wind</text>
<text x="0" y="0" font-size="13.71" text-anchor="middle" transform="translate(938,1093) rotate(-90)">Pressure</text>
<rect x="113.5" y="912.5" width="267" height="62" rx="4" fill="#fff" fill-opacity="0.8" stroke="#cfcfcf" stroke-width="2.8"/>
<line x1="119" y1="928.4" x2="162" y2="928.4" stroke="#0000ff" stroke-width="4.2"/>
<line x1="120" y1="957.2" x2="160" y2="957.2" stroke="#0000ff" stroke-width="4.2" stroke-dasharray="4.2 6.9"/>
<text x="175.3" y="935.9" font-size="19.17" text-anchor="start" >Wind[max=130]</text>
<text x="175.3" y="963.9" font-size="19.17" text-anchor="start" >Wind Fore.[max=95]</text>
<path d="M135.6,919.5 L166.0,919.5 L181.1,935.6 L195.5,932.1 L209.4,935.6 L224.5,944.3 L268.0,944.3 L281.0,955.1 L297.5,1008.1 L326.5,1016.7 L340.9,1034.1 L354.8,1070.1 L369.9,1091.8 L384.3,1126.5 L399.0,1180.8 L413.4,1261.1 L427.7,1239.4 L442.4,1223.3 L471.1,1115.7 L485.8,1050.6 L500.2,1033.2 L514.5,1046.2 L529.2,1070.1" fill="none" stroke="#1f77b4" stroke-width="4.2" stroke-linejoin="round"/>
<rect x="625" y="912.6" width="219" height="34.7" rx="4" fill="#fff" fill-opacity="0.8" stroke="#cfcfcf" stroke-width="2.8"/>
<line x1="631.7" y1="928.2" x2="673.8" y2="928.2" stroke="#1f77b4" stroke-width="4.2"/>
<text x="688.1" y="935.6" font-size="19.17" text-anchor="start" >Pres.[min=928]</text>
<path d="M135.6,1636.0 L251.8,1636.0 L266.3,1634.1 L283.2,1630.7 L297.7,1625.8 L312.3,1619.6 L326.8,1612.8 L341.3,1605.5 L355.8,1595.8 L370.4,1583.2 L384.9,1566.8 L398.0,1546.9 L412.5,1519.3 L428.5,1492.7 L443.0,1470.9 L457.5,1454.0 L472.0,1440.9 L486.6,1432.7 L501.1,1424.9 L515.6,1415.2 L532.6,1404.6" fill="none" stroke="#008000" stroke-width="4.2"/>
<path d="M532.6,1404.6 C535.0,1403.1 541.8,1398.7 547.1,1395.9 C552.3,1393.1 558.4,1390.1 564.0,1387.6 C569.7,1385.2 573.3,1383.4 581.0,1381.4 C588.6,1379.3 599.5,1377.3 610.0,1375.5 C620.5,1373.8 632.6,1372.3 643.9,1370.7 C655.2,1369.1 667.3,1367.7 677.8,1365.9 C688.3,1364.0 696.4,1362.6 706.9,1359.6 C717.3,1356.5 730.3,1352.1 740.7,1347.5 C751.2,1342.9 760.9,1336.8 769.8,1332.0 C778.7,1327.1 786.7,1323.5 794.0,1318.4 C801.3,1313.3 810.1,1304.3 813.4,1301.5" fill="none" stroke="#008000" stroke-width="4.2" stroke-dasharray="4.2 6.9"/>
<line x1="92.5" y1="1636.0" x2="104" y2="1636.0" stroke="#000" stroke-width="2"/>
<text x="79" y="1640.6" font-size="13.71" text-anchor="end" >0</text>
<line x1="92.5" y1="1557.1" x2="104" y2="1557.1" stroke="#000" stroke-width="2"/>
<text x="79" y="1561.6999999999998" font-size="13.71" text-anchor="end" >5</text>
<line x1="92.5" y1="1478.2" x2="104" y2="1478.2" stroke="#000" stroke-width="2"/>
<text x="79" y="1482.8" font-size="13.71" text-anchor="end" >10</text>
<line x1="92.5" y1="1399.3" x2="104" y2="1399.3" stroke="#000" stroke-width="2"/>
<text x="79" y="1403.8999999999999" font-size="13.71" text-anchor="end" >15</text>
<line x1="92.5" y1="1320.4" x2="104" y2="1320.4" stroke="#000" stroke-width="2"/>
<text x="79" y="1325.0" font-size="13.71" text-anchor="end" >20</text>
<text x="0" y="0" font-size="13.71" text-anchor="middle" transform="translate(44,1465) rotate(-90)">ACE</text>
<rect x="113.4" y="1287.7" width="311.6" height="61.2" rx="4" fill="#fff" fill-opacity="0.8" stroke="#cfcfcf" stroke-width="2.8"/>
<line x1="120" y1="1302.9" x2="161.2" y2="1302.9" stroke="#008000" stroke-width="4.2"/>
<line x1="120" y1="1332" x2="157" y2="1332" stroke="#008000" stroke-width="4.2" stroke-dasharray="4.2 6.9"/>
<text x="174.3" y="1310.2" font-size="19.17" text-anchor="start" >ACE[max=14.5325]</text>
<text x="174.3" y="1339.2" font-size="19.17" text-anchor="start" >ACE Fore.[max=21.5781]</text>
<g shape-rendering="crispEdges">
<rect x="1002.2" y="908.00" width="13.7" height="14.14" fill="#888888"/>
<rect x="1015.9" y="908.00" width="250.7" height="14.14" fill="#555555"/>
<rect x="1266.6" y="908.00" width="125.5" height="14.14" fill="#888888"/>
<rect x="1434.3" y="908.00" width="26.7" height="14.14" fill="#888888"/>
<rect x="1461.0" y="908.00" width="264.8" height="14.14" fill="#555555"/>
<rect x="1002.2" y="922.14" width="13.7" height="14.14" fill="#888888"/>
<rect x="1015.9" y="922.14" width="264.0" height="14.14" fill="#555555"/>
<rect x="1279.9" y="922.14" width="125.9" height="14.14" fill="#888888"/>
<rect x="1419.9" y="922.14" width="41.1" height="14.14" fill="#888888"/>
<rect x="1461.0" y="922.14" width="264.8" height="14.14" fill="#555555"/>
<rect x="1002.2" y="936.28" width="13.7" height="14.14" fill="#888888"/>
<rect x="1015.9" y="936.28" width="250.3" height="14.14" fill="#555555"/>
<rect x="1266.2" y="936.28" width="180.7" height="14.14" fill="#888888"/>
<rect x="1446.9" y="936.28" width="278.1" height="14.14" fill="#555555"/>
<rect x="1002.2" y="950.42" width="13.7" height="14.14" fill="#888888"/>
<rect x="1015.9" y="950.42" width="250.3" height="14.14" fill="#555555"/>
<rect x="1266.2" y="950.42" width="83.1" height="14.14" fill="#888888"/>
<rect x="1377.3" y="950.42" width="13.7" height="14.14" fill="#888888"/>
<rect x="1405.2" y="950.42" width="13.9" height="14.14" fill="#888888"/>
<rect x="1419.1" y="950.42" width="305.9" height="14.14" fill="#555555"/>
<rect x="1001.1" y="964.56" width="14.3" height="14.14" fill="#888888"/>
<rect x="1015.4" y="964.56" width="264.5" height="14.14" fill="#555555"/>
<rect x="1279.9" y="964.56" width="69.0" height="14.14" fill="#888888"/>
<rect x="1405.2" y="964.56" width="13.9" height="14.14" fill="#888888"/>
<rect x="1419.1" y="964.56" width="305.9" height="14.14" fill="#555555"/>
<rect x="1001.1" y="978.70" width="14.3" height="14.14" fill="#888888"/>
<rect x="1015.4" y="978.70" width="250.4" height="14.14" fill="#555555"/>
<rect x="1265.8" y="978.70" width="69.2" height="14.14" fill="#888888"/>
<rect x="1419.1" y="978.70" width="13.7" height="14.14" fill="#888888"/>
<rect x="1432.8" y="978.70" width="292.2" height="14.14" fill="#555555"/>
<rect x="1001.1" y="992.84" width="14.3" height="14.14" fill="#888888"/>
<rect x="1015.4" y="992.84" width="222.8" height="14.14" fill="#555555"/>
<rect x="1238.2" y="992.84" width="83.1" height="14.14" fill="#888888"/>
<rect x="1418.4" y="992.84" width="13.8" height="14.14" fill="#888888"/>
<rect x="1432.2" y="992.84" width="292.3" height="14.14" fill="#555555"/>
<rect x="1015.4" y="1006.98" width="12.7" height="14.14" fill="#888888"/>
<rect x="1028.1" y="1006.98" width="181.3" height="14.14" fill="#555555"/>
<rect x="1209.4" y="1006.98" width="111.9" height="14.14" fill="#888888"/>
<rect x="1418.4" y="1006.98" width="27.9" height="14.14" fill="#888888"/>
<rect x="1446.3" y="1006.98" width="277.7" height="14.14" fill="#555555"/>
<rect x="1028.1" y="1021.12" width="69.8" height="14.14" fill="#888888"/>
<rect x="1097.9" y="1021.12" width="111.1" height="14.14" fill="#555555"/>
<rect x="1209.0" y="1021.12" width="97.8" height="14.14" fill="#888888"/>
<rect x="1390.0" y="1021.12" width="70.0" height="14.14" fill="#888888"/>
<rect x="1460.0" y="1021.12" width="264.0" height="14.14" fill="#555555"/>
<rect x="1042.2" y="1035.26" width="83.0" height="14.14" fill="#888888"/>
<rect x="1125.2" y="1035.26" width="69.9" height="14.14" fill="#555555"/>
<rect x="1195.1" y="1035.26" width="97.8" height="14.14" fill="#888888"/>
<rect x="1404.3" y="1035.26" width="68.6" height="14.14" fill="#888888"/>
<rect x="1472.9" y="1035.26" width="251.1" height="14.14" fill="#555555"/>
<rect x="1070.1" y="1049.40" width="69.2" height="14.14" fill="#888888"/>
<rect x="1139.3" y="1049.40" width="13.7" height="14.14" fill="#555555"/>
<rect x="1153.0" y="1049.40" width="124.7" height="14.14" fill="#888888"/>
<rect x="1418.4" y="1049.40" width="54.5" height="14.14" fill="#888888"/>
<rect x="1472.9" y="1049.40" width="251.1" height="14.14" fill="#555555"/>
<rect x="1125.2" y="1063.54" width="152.5" height="14.14" fill="#888888"/>
<rect x="1431.3" y="1063.54" width="41.6" height="14.14" fill="#888888"/>
<rect x="1472.9" y="1063.54" width="251.1" height="14.14" fill="#555555"/>
<rect x="1153.0" y="1077.68" width="124.7" height="14.14" fill="#888888"/>
<rect x="1431.3" y="1077.68" width="27.8" height="14.14" fill="#888888"/>
<rect x="1459.1" y="1077.68" width="263.9" height="14.14" fill="#555555"/>
<rect x="981.0" y="1091.82" width="4.0" height="14.14" fill="#000000"/>
<rect x="1165.8" y="1091.82" width="111.9" height="14.14" fill="#888888"/>
<rect x="1445.2" y="1091.82" width="27.7" height="14.14" fill="#888888"/>
<rect x="1472.9" y="1091.82" width="250.1" height="14.14" fill="#555555"/>
<rect x="981.0" y="1105.96" width="4.0" height="14.14" fill="#000000"/>
<rect x="1165.8" y="1105.96" width="110.9" height="14.14" fill="#888888"/>
<rect x="1472.2" y="1105.96" width="13.7" height="14.14" fill="#888888"/>
<rect x="1485.9" y="1105.96" width="237.1" height="14.14" fill="#555555"/>
<rect x="981.0" y="1120.10" width="45.0" height="14.14" fill="#000000"/>
<rect x="1054.1" y="1120.10" width="41.7" height="14.14" fill="#000000"/>
<rect x="1179.9" y="1120.10" width="83.1" height="14.14" fill="#888888"/>
<rect x="1472.2" y="1120.10" width="13.7" height="14.14" fill="#888888"/>
<rect x="1485.9" y="1120.10" width="237.1" height="14.14" fill="#555555"/>
<rect x="1012.1" y="1134.24" width="28.0" height="14.14" fill="#000000"/>
<rect x="1054.1" y="1134.24" width="98.1" height="14.14" fill="#000000"/>
<rect x="1221.4" y="1134.24" width="41.6" height="14.14" fill="#888888"/>
<rect x="1486.4" y="1134.24" width="13.3" height="14.14" fill="#888888"/>
<rect x="1499.7" y="1134.24" width="222.9" height="14.14" fill="#555555"/>
<rect x="1012.1" y="1148.38" width="28.0" height="14.14" fill="#000000"/>
<rect x="1054.1" y="1148.38" width="110.7" height="14.14" fill="#000000"/>
<rect x="1486.4" y="1148.38" width="13.3" height="14.14" fill="#888888"/>
<rect x="1499.7" y="1148.38" width="222.5" height="14.14" fill="#555555"/>
<rect x="1081.1" y="1162.52" width="13.6" height="14.14" fill="#000000"/>
<rect x="1109.0" y="1162.52" width="28.2" height="14.14" fill="#000000"/>
<rect x="1150.9" y="1162.52" width="97.8" height="14.14" fill="#000000"/>
<rect x="1485.3" y="1162.52" width="13.7" height="14.14" fill="#888888"/>
<rect x="1499.0" y="1162.52" width="223.2" height="14.14" fill="#555555"/>
<rect x="1109.0" y="1176.66" width="70.3" height="14.14" fill="#000000"/>
<rect x="1179.3" y="1176.66" width="13.3" height="14.14" fill="#a0a0a0"/>
<rect x="1192.6" y="1176.66" width="41.4" height="14.14" fill="#000000"/>
<rect x="1276.3" y="1176.66" width="27.7" height="14.14" fill="#888888"/>
<rect x="1429.2" y="1176.66" width="27.6" height="14.14" fill="#888888"/>
<rect x="1485.3" y="1176.66" width="13.7" height="14.14" fill="#888888"/>
<rect x="1499.0" y="1176.66" width="223.2" height="14.14" fill="#555555"/>
<rect x="1011.0" y="1190.80" width="28.0" height="14.14" fill="#000000"/>
<rect x="1109.0" y="1190.80" width="69.3" height="14.14" fill="#000000"/>
<rect x="1178.3" y="1190.80" width="13.6" height="14.14" fill="#a0a0a0"/>
<rect x="1191.9" y="1190.80" width="42.1" height="14.14" fill="#000000"/>
<rect x="1276.3" y="1190.80" width="83.7" height="14.14" fill="#888888"/>
<rect x="1387.2" y="1190.80" width="27.7" height="14.14" fill="#888888"/>
<rect x="1429.2" y="1190.80" width="69.8" height="14.14" fill="#888888"/>
<rect x="1499.0" y="1190.80" width="223.2" height="14.14" fill="#555555"/>
<rect x="997.4" y="1204.94" width="41.6" height="14.14" fill="#000000"/>
<rect x="1109.0" y="1204.94" width="82.9" height="14.14" fill="#000000"/>
<rect x="1191.9" y="1204.94" width="13.9" height="14.14" fill="#a0a0a0"/>
<rect x="1205.8" y="1204.94" width="14.1" height="14.14" fill="#000000"/>
<rect x="1248.3" y="1204.94" width="250.7" height="14.14" fill="#888888"/>
<rect x="1499.0" y="1204.94" width="222.8" height="14.14" fill="#555555"/>
<rect x="981.0" y="1219.08" width="58.0" height="14.14" fill="#000000"/>
<rect x="1122.1" y="1219.08" width="97.8" height="14.14" fill="#000000"/>
<rect x="1234.0" y="1219.08" width="264.0" height="14.14" fill="#888888"/>
<rect x="1498.0" y="1219.08" width="223.1" height="14.14" fill="#555555"/>
<rect x="981.0" y="1233.22" width="84.9" height="14.14" fill="#000000"/>
<rect x="1080.4" y="1233.22" width="13.3" height="14.14" fill="#000000"/>
<rect x="1122.1" y="1233.22" width="69.4" height="14.14" fill="#000000"/>
<rect x="1233.2" y="1233.22" width="154.0" height="14.14" fill="#888888"/>
<rect x="1401.1" y="1233.22" width="110.8" height="14.14" fill="#888888"/>
<rect x="1511.9" y="1233.22" width="209.2" height="14.14" fill="#555555"/>
<rect x="981.0" y="1247.36" width="209.9" height="14.14" fill="#000000"/>
<rect x="1233.2" y="1247.36" width="292.8" height="14.14" fill="#888888"/>
<rect x="1526.0" y="1247.36" width="195.0" height="14.14" fill="#555555"/>
<rect x="981.0" y="1261.50" width="15.3" height="14.14" fill="#000000"/>
<rect x="996.3" y="1261.50" width="27.6" height="14.14" fill="#a0a0a0"/>
<rect x="1023.9" y="1261.50" width="28.1" height="14.14" fill="#000000"/>
<rect x="1052.0" y="1261.50" width="13.9" height="14.14" fill="#a0a0a0"/>
<rect x="1065.9" y="1261.50" width="69.2" height="14.14" fill="#000000"/>
<rect x="1135.1" y="1261.50" width="13.7" height="14.14" fill="#a0a0a0"/>
<rect x="1148.8" y="1261.50" width="42.1" height="14.14" fill="#000000"/>
<rect x="1260.9" y="1261.50" width="265.1" height="14.14" fill="#888888"/>
<rect x="1526.0" y="1261.50" width="195.0" height="14.14" fill="#555555"/>
<rect x="981.0" y="1275.64" width="182.1" height="14.14" fill="#a0a0a0"/>
<rect x="1163.1" y="1275.64" width="41.7" height="14.14" fill="#000000"/>
<rect x="1274.6" y="1275.64" width="264.5" height="14.14" fill="#888888"/>
<rect x="1539.1" y="1275.64" width="181.6" height="14.14" fill="#555555"/>
<rect x="981.0" y="1289.78" width="195.8" height="14.14" fill="#a0a0a0"/>
<rect x="1176.8" y="1289.78" width="42.0" height="14.14" fill="#000000"/>
<rect x="1287.6" y="1289.78" width="251.5" height="14.14" fill="#888888"/>
<rect x="1539.1" y="1289.78" width="180.9" height="14.14" fill="#555555"/>
<rect x="981.0" y="1303.92" width="209.0" height="14.14" fill="#a0a0a0"/>
<rect x="1190.0" y="1303.92" width="55.8" height="14.14" fill="#000000"/>
<rect x="1301.9" y="1303.92" width="251.1" height="14.14" fill="#888888"/>
<rect x="1553.0" y="1303.92" width="167.0" height="14.14" fill="#555555"/>
<rect x="981.0" y="1318.06" width="27.9" height="14.14" fill="#a0a0a0"/>
<rect x="1008.9" y="1318.06" width="13.9" height="14.14" fill="#000000"/>
<rect x="1022.8" y="1318.06" width="209.1" height="14.14" fill="#a0a0a0"/>
<rect x="1231.9" y="1318.06" width="42.1" height="14.14" fill="#000000"/>
<rect x="1315.6" y="1318.06" width="237.4" height="14.14" fill="#888888"/>
<rect x="1553.0" y="1318.06" width="167.0" height="14.14" fill="#555555"/>
<rect x="981.0" y="1332.20" width="68.9" height="14.14" fill="#000000"/>
<rect x="1049.9" y="1332.20" width="224.1" height="14.14" fill="#a0a0a0"/>
<rect x="1274.0" y="1332.20" width="27.9" height="14.14" fill="#000000"/>
<rect x="1315.2" y="1332.20" width="209.8" height="14.14" fill="#888888"/>
<rect x="1525.0" y="1332.20" width="14.1" height="14.14" fill="#555555"/>
<rect x="1539.1" y="1332.20" width="27.0" height="14.14" fill="#888888"/>
<rect x="1566.1" y="1332.20" width="153.9" height="14.14" fill="#555555"/>
<rect x="981.0" y="1346.34" width="54.8" height="14.14" fill="#000000"/>
<rect x="1035.8" y="1346.34" width="56.4" height="14.14" fill="#a0a0a0"/>
<rect x="1092.2" y="1346.34" width="13.7" height="14.14" fill="#000000"/>
<rect x="1105.9" y="1346.34" width="180.7" height="14.14" fill="#a0a0a0"/>
<rect x="1286.6" y="1346.34" width="14.3" height="14.14" fill="#000000"/>
<rect x="1328.7" y="1346.34" width="251.1" height="14.14" fill="#888888"/>
<rect x="1579.8" y="1346.34" width="140.2" height="14.14" fill="#555555"/>
<rect x="981.0" y="1360.48" width="96.9" height="14.14" fill="#a0a0a0"/>
<rect x="1077.9" y="1360.48" width="83.7" height="14.14" fill="#000000"/>
<rect x="1161.6" y="1360.48" width="125.0" height="14.14" fill="#a0a0a0"/>
<rect x="1286.6" y="1360.48" width="14.3" height="14.14" fill="#000000"/>
<rect x="1328.7" y="1360.48" width="251.1" height="14.14" fill="#888888"/>
<rect x="1579.8" y="1360.48" width="139.6" height="14.14" fill="#555555"/>
<rect x="981.0" y="1374.62" width="96.9" height="14.14" fill="#a0a0a0"/>
<rect x="1077.9" y="1374.62" width="83.1" height="14.14" fill="#000000"/>
<rect x="1161.0" y="1374.62" width="125.6" height="14.14" fill="#a0a0a0"/>
<rect x="1286.6" y="1374.62" width="14.3" height="14.14" fill="#000000"/>
<rect x="1328.7" y="1374.62" width="223.3" height="14.14" fill="#888888"/>
<rect x="1552.0" y="1374.62" width="167.4" height="14.14" fill="#555555"/>
<rect x="981.0" y="1388.76" width="27.1" height="14.14" fill="#a0a0a0"/>
<rect x="1008.1" y="1388.76" width="41.0" height="14.14" fill="#000000"/>
<rect x="1049.1" y="1388.76" width="28.2" height="14.14" fill="#a0a0a0"/>
<rect x="1077.3" y="1388.76" width="69.6" height="14.14" fill="#000000"/>
<rect x="1146.9" y="1388.76" width="139.7" height="14.14" fill="#a0a0a0"/>
<rect x="1286.6" y="1388.76" width="14.3" height="14.14" fill="#000000"/>
<rect x="1328.2" y="1388.76" width="209.8" height="14.14" fill="#888888"/>
<rect x="1538.0" y="1388.76" width="181.4" height="14.14" fill="#555555"/>
<rect x="981.0" y="1402.90" width="12.1" height="14.14" fill="#a0a0a0"/>
<rect x="993.1" y="1402.90" width="28.0" height="14.14" fill="#000000"/>
<rect x="1021.1" y="1402.90" width="56.2" height="14.14" fill="#a0a0a0"/>
<rect x="1077.3" y="1402.90" width="55.7" height="14.14" fill="#000000"/>
<rect x="1133.0" y="1402.90" width="125.2" height="14.14" fill="#a0a0a0"/>
<rect x="1258.2" y="1402.90" width="41.6" height="14.14" fill="#000000"/>
<rect x="1328.2" y="1402.90" width="209.0" height="14.14" fill="#888888"/>
<rect x="1537.2" y="1402.90" width="181.8" height="14.14" fill="#555555"/>
<rect x="981.0" y="1417.04" width="95.9" height="14.14" fill="#a0a0a0"/>
<rect x="1076.9" y="1417.04" width="42.0" height="14.14" fill="#000000"/>
<rect x="1118.9" y="1417.04" width="111.1" height="14.14" fill="#a0a0a0"/>
<rect x="1230.0" y="1417.04" width="56.2" height="14.14" fill="#000000"/>
<rect x="1328.2" y="1417.04" width="209.0" height="14.14" fill="#888888"/>
<rect x="1537.2" y="1417.04" width="181.8" height="14.14" fill="#555555"/>
<rect x="981.0" y="1431.18" width="221.0" height="14.14" fill="#a0a0a0"/>
<rect x="1202.0" y="1431.18" width="70.1" height="14.14" fill="#000000"/>
<rect x="1328.2" y="1431.18" width="209.0" height="14.14" fill="#888888"/>
<rect x="1537.2" y="1431.18" width="181.2" height="14.14" fill="#555555"/>
<rect x="981.0" y="1445.32" width="11.1" height="14.14" fill="#a0a0a0"/>
<rect x="992.1" y="1445.32" width="28.0" height="14.14" fill="#000000"/>
<rect x="1020.1" y="1445.32" width="84.1" height="14.14" fill="#a0a0a0"/>
<rect x="1104.2" y="1445.32" width="27.8" height="14.14" fill="#000000"/>
<rect x="1132.0" y="1445.32" width="55.9" height="14.14" fill="#a0a0a0"/>
<rect x="1187.9" y="1445.32" width="70.3" height="14.14" fill="#000000"/>
<rect x="1328.2" y="1445.32" width="194.7" height="14.14" fill="#888888"/>
<rect x="1522.9" y="1445.32" width="195.1" height="14.14" fill="#555555"/>
<rect x="981.0" y="1459.46" width="11.1" height="14.14" fill="#a0a0a0"/>
<rect x="992.1" y="1459.46" width="70.0" height="14.14" fill="#000000"/>
<rect x="1062.1" y="1459.46" width="42.1" height="14.14" fill="#a0a0a0"/>
<rect x="1104.2" y="1459.46" width="42.1" height="14.14" fill="#000000"/>
<rect x="1146.3" y="1459.46" width="27.7" height="14.14" fill="#a0a0a0"/>
<rect x="1174.0" y="1459.46" width="70.1" height="14.14" fill="#000000"/>
<rect x="1313.5" y="1459.46" width="209.4" height="14.14" fill="#888888"/>
<rect x="1522.9" y="1459.46" width="195.1" height="14.14" fill="#555555"/>
<rect x="981.0" y="1473.60" width="81.1" height="14.14" fill="#000000"/>
<rect x="1062.1" y="1473.60" width="13.7" height="14.14" fill="#a0a0a0"/>
<rect x="1075.8" y="1473.60" width="153.6" height="14.14" fill="#000000"/>
<rect x="1313.5" y="1473.60" width="208.3" height="14.14" fill="#888888"/>
<rect x="1521.8" y="1473.60" width="196.2" height="14.14" fill="#555555"/>
<rect x="981.0" y="1487.74" width="81.1" height="14.14" fill="#000000"/>
<rect x="1062.1" y="1487.74" width="13.1" height="14.14" fill="#a0a0a0"/>
<rect x="1075.2" y="1487.74" width="154.2" height="14.14" fill="#000000"/>
<rect x="1313.5" y="1487.74" width="208.3" height="14.14" fill="#888888"/>
<rect x="1521.8" y="1487.74" width="195.7" height="14.14" fill="#555555"/>
<rect x="981.0" y="1501.88" width="234.3" height="14.14" fill="#000000"/>
<rect x="1327.2" y="1501.88" width="194.6" height="14.14" fill="#888888"/>
<rect x="1521.8" y="1501.88" width="195.5" height="14.14" fill="#555555"/>
<rect x="981.0" y="1516.02" width="220.0" height="14.14" fill="#000000"/>
<rect x="1326.6" y="1516.02" width="195.2" height="14.14" fill="#888888"/>
<rect x="1521.8" y="1516.02" width="195.5" height="14.14" fill="#555555"/>
<rect x="981.0" y="1530.16" width="219.3" height="14.14" fill="#000000"/>
<rect x="1312.5" y="1530.16" width="208.2" height="14.14" fill="#888888"/>
<rect x="1520.7" y="1530.16" width="196.2" height="14.14" fill="#555555"/>
<rect x="981.0" y="1544.30" width="205.2" height="14.14" fill="#000000"/>
<rect x="1298.4" y="1544.30" width="222.3" height="14.14" fill="#888888"/>
<rect x="1520.7" y="1544.30" width="196.2" height="14.14" fill="#555555"/>
<rect x="981.0" y="1558.44" width="218.9" height="14.14" fill="#000000"/>
<rect x="1298.4" y="1558.44" width="110.6" height="14.14" fill="#888888"/>
<rect x="1409.0" y="1558.44" width="13.7" height="14.14" fill="#555555"/>
<rect x="1422.7" y="1558.44" width="28.4" height="14.14" fill="#888888"/>
<rect x="1451.1" y="1558.44" width="13.7" height="14.14" fill="#555555"/>
<rect x="1464.8" y="1558.44" width="28.1" height="14.14" fill="#888888"/>
<rect x="1492.9" y="1558.44" width="14.1" height="14.14" fill="#555555"/>
<rect x="1507.0" y="1558.44" width="13.7" height="14.14" fill="#888888"/>
<rect x="1520.7" y="1558.44" width="195.8" height="14.14" fill="#555555"/>
<rect x="981.0" y="1572.58" width="218.9" height="14.14" fill="#000000"/>
<rect x="1297.3" y="1572.58" width="97.9" height="14.14" fill="#888888"/>
<rect x="1395.2" y="1572.58" width="41.8" height="14.14" fill="#555555"/>
<rect x="1437.0" y="1572.58" width="14.1" height="14.14" fill="#888888"/>
<rect x="1451.1" y="1572.58" width="84.0" height="14.14" fill="#555555"/>
<rect x="1535.1" y="1572.58" width="14.1" height="14.14" fill="#888888"/>
<rect x="1549.2" y="1572.58" width="166.7" height="14.14" fill="#555555"/>
<rect x="981.0" y="1586.72" width="217.9" height="14.14" fill="#000000"/>
<rect x="1269.3" y="1586.72" width="125.9" height="14.14" fill="#888888"/>
<rect x="1395.2" y="1586.72" width="70.1" height="14.14" fill="#555555"/>
<rect x="1465.3" y="1586.72" width="13.9" height="14.14" fill="#888888"/>
<rect x="1479.2" y="1586.72" width="70.0" height="14.14" fill="#555555"/>
<rect x="1549.2" y="1586.72" width="13.1" height="14.14" fill="#888888"/>
<rect x="1562.3" y="1586.72" width="153.6" height="14.14" fill="#555555"/>
<rect x="988.9" y="1600.86" width="196.3" height="14.14" fill="#000000"/>
<rect x="1255.2" y="1600.86" width="112.0" height="14.14" fill="#888888"/>
<rect x="1367.2" y="1600.86" width="13.7" height="14.14" fill="#555555"/>
<rect x="1380.9" y="1600.86" width="14.3" height="14.14" fill="#888888"/>
<rect x="1395.2" y="1600.86" width="41.8" height="14.14" fill="#555555"/>
<rect x="1437.0" y="1600.86" width="13.7" height="14.14" fill="#888888"/>
<rect x="1450.7" y="1600.86" width="14.6" height="14.14" fill="#555555"/>
<rect x="1465.3" y="1600.86" width="13.3" height="14.14" fill="#888888"/>
<rect x="1478.6" y="1600.86" width="69.6" height="14.14" fill="#555555"/>
<rect x="1548.2" y="1600.86" width="27.8" height="14.14" fill="#888888"/>
<rect x="1576.0" y="1600.86" width="13.9" height="14.14" fill="#555555"/>
<rect x="1589.9" y="1600.86" width="14.2" height="14.14" fill="#888888"/>
<rect x="1604.1" y="1600.86" width="111.8" height="14.14" fill="#555555"/>
<rect x="1016.9" y="1615.00" width="168.3" height="14.14" fill="#000000"/>
<rect x="1269.3" y="1615.00" width="97.9" height="14.14" fill="#888888"/>
<rect x="1367.2" y="1615.00" width="12.9" height="14.14" fill="#555555"/>
<rect x="1380.1" y="1615.00" width="14.1" height="14.14" fill="#888888"/>
<rect x="1394.2" y="1615.00" width="55.9" height="14.14" fill="#555555"/>
<rect x="1450.1" y="1615.00" width="28.5" height="14.14" fill="#888888"/>
<rect x="1478.6" y="1615.00" width="69.6" height="14.14" fill="#555555"/>
<rect x="1548.2" y="1615.00" width="41.7" height="14.14" fill="#888888"/>
<rect x="1589.9" y="1615.00" width="14.2" height="14.14" fill="#555555"/>
<rect x="1604.1" y="1615.00" width="14.1" height="14.14" fill="#888888"/>
<rect x="1618.2" y="1615.00" width="97.7" height="14.14" fill="#555555"/>
<rect x="1031.0" y="1629.14" width="154.2" height="14.14" fill="#000000"/>
<rect x="1268.3" y="1629.14" width="97.8" height="14.14" fill="#888888"/>
<rect x="1366.1" y="1629.14" width="41.8" height="14.14" fill="#555555"/>
<rect x="1407.9" y="1629.14" width="14.1" height="14.14" fill="#888888"/>
<rect x="1422.0" y="1629.14" width="28.1" height="14.14" fill="#555555"/>
<rect x="1450.1" y="1629.14" width="28.5" height="14.14" fill="#888888"/>
<rect x="1478.6" y="1629.14" width="69.6" height="14.14" fill="#555555"/>
<rect x="1548.2" y="1629.14" width="97.6" height="14.14" fill="#888888"/>
<rect x="1645.8" y="1629.14" width="70.1" height="14.14" fill="#555555"/>
</g>
<rect x="979.5" y="903.5" width="750" height="750" fill="none" stroke="#000" stroke-width="3"/>
<rect x="991" y="917" width="180" height="32" rx="4" fill="#000"/>
<text x="998" y="938.3" font-size="21" font-weight="bold" fill="#fff">WMG Count: 0</text></svg>
</body></html>
